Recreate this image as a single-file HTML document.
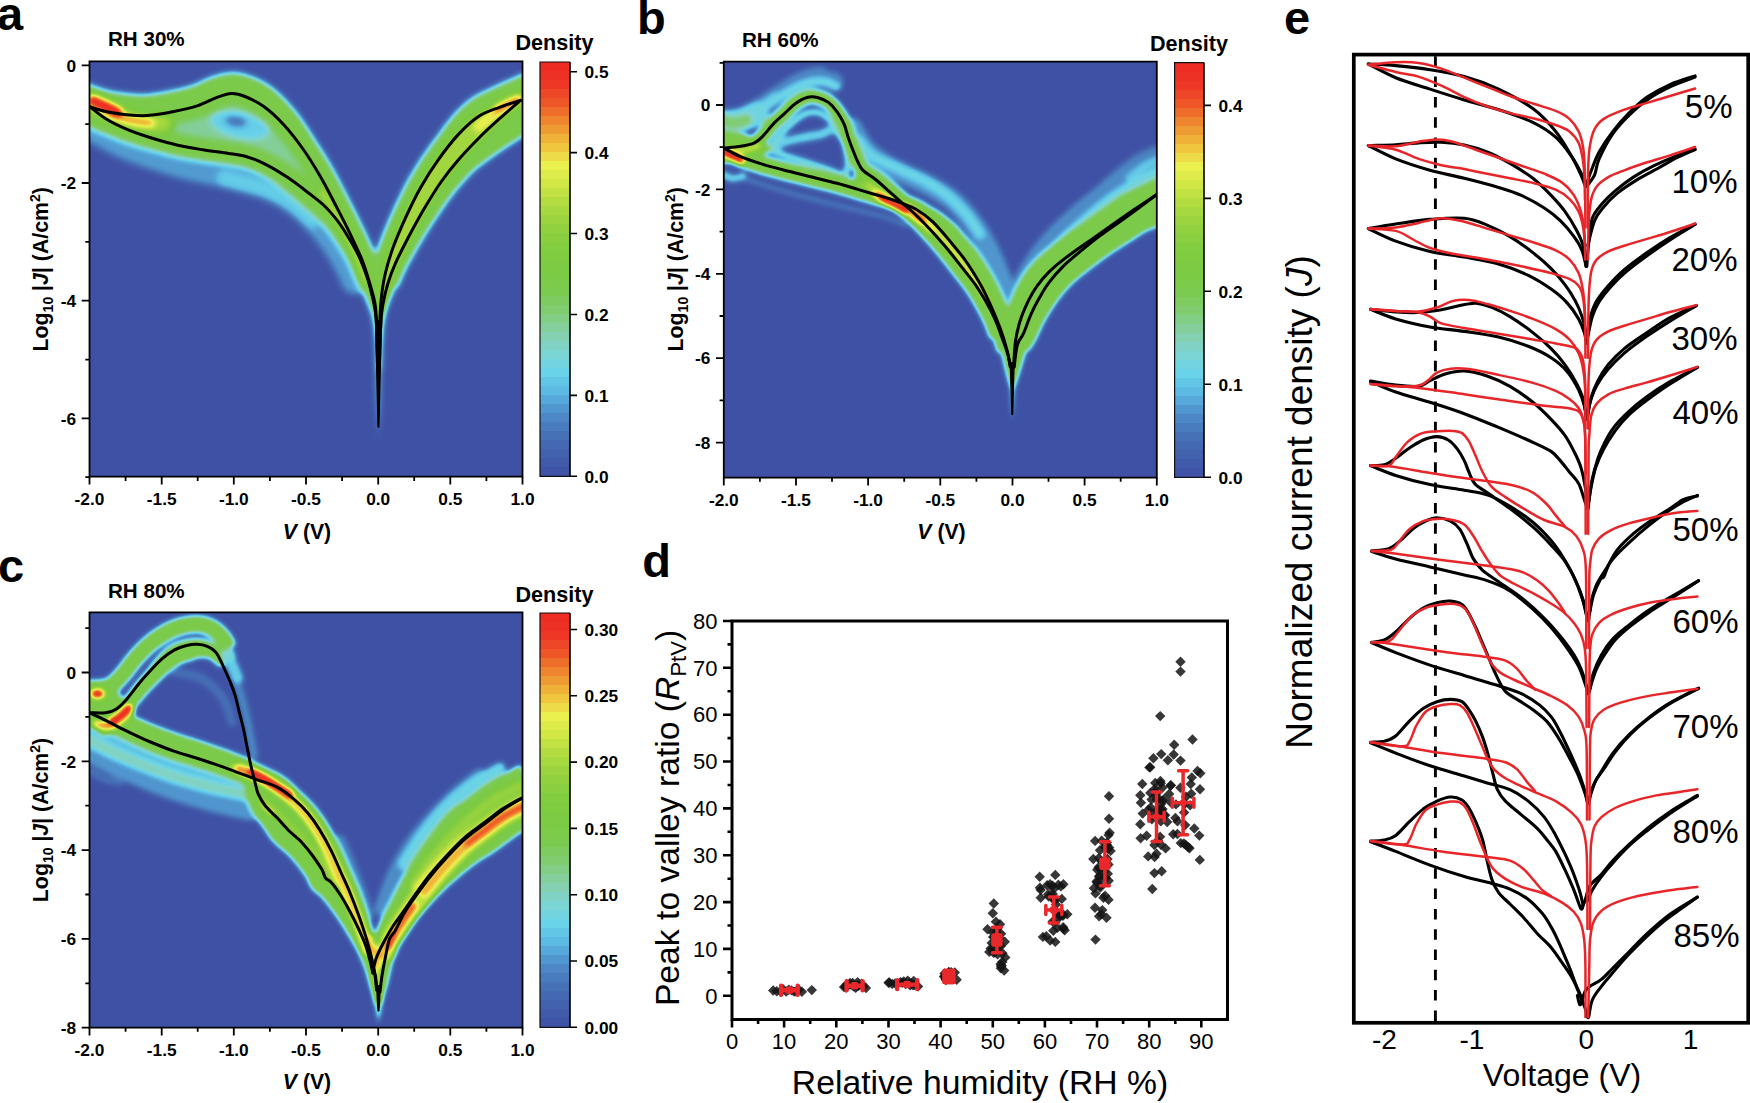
<!DOCTYPE html>
<html><head><meta charset="utf-8"><title>Figure</title>
<style>html,body{margin:0;padding:0;background:#fff}svg{display:block}text{font-family:'Liberation Sans', sans-serif;fill:#000}</style>
</head><body>
<svg width="1750" height="1103" viewBox="0 0 1750 1103">
<rect width="1750" height="1103" fill="#fff"/>
<text x="-3" y="30" font-size="47" font-weight="bold">a</text><text x="637" y="33.7" font-size="47" font-weight="bold">b</text><text x="-2" y="581.7" font-size="47" font-weight="bold">c</text><text x="642.3" y="577" font-size="47" font-weight="bold">d</text><text x="1284" y="33.5" font-size="47" font-weight="bold">e</text>
<!-- panel_a -->
<defs><clipPath id="clipa"><rect x="89.5" y="61.3" width="433" height="415.4"/></clipPath><filter id="cma" filterUnits="userSpaceOnUse" x="0" y="0" width="1750" height="1103" color-interpolation-filters="sRGB"><feGaussianBlur stdDeviation="3.0"/><feComponentTransfer><feFuncR type="table" tableValues="0.247 0.259 0.275 0.306 0.353 0.408 0.494 0.525 0.502 0.486 0.486 0.510 0.573 0.667 0.800 0.918 0.941 0.937 0.933 0.933 0.933"/><feFuncG type="table" tableValues="0.318 0.376 0.447 0.549 0.714 0.827 0.835 0.816 0.800 0.796 0.796 0.804 0.820 0.851 0.898 0.945 0.753 0.557 0.345 0.204 0.165"/><feFuncB type="table" tableValues="0.647 0.678 0.718 0.784 0.886 0.914 0.824 0.647 0.439 0.306 0.259 0.251 0.247 0.251 0.271 0.310 0.235 0.188 0.157 0.145 0.141"/><feFuncA type="linear" slope="0" intercept="1"/></feComponentTransfer></filter></defs>
<g clip-path="url(#clipa)"><g filter="url(#cma)">
<rect x="59.5" y="31.3" width="493" height="475.4" fill="#000"/>
<g fill="none" stroke="#fff" stroke-linecap="round" stroke-linejoin="round">
<path d="M89.5,126C95.8,129.3 112.4,139.8 127,146C141.6,152.2 160.2,158.2 177,163C193.8,167.8 212.5,171 228,175C243.5,179 258,182 270,187C282,192 290.8,197.8 300,205C309.2,212.2 317.8,221.5 325,230C332.2,238.5 338,247.7 343,256C348,264.3 353,276 355,280" stroke-width="30" stroke="rgb(43,43,43)" style="mix-blend-mode:lighten"/>
<path d="M225,178C231.2,179.7 251.2,184.2 262,188C272.8,191.8 281.7,195.7 290,201C298.3,206.3 308.3,216.8 312,220" stroke-width="16" stroke="rgb(61,61,61)" style="mix-blend-mode:lighten"/>
<path d="M89.5,136C92.9,137.7 101.6,142.7 110,146C118.4,149.3 135,154.3 140,156" stroke-width="10" stroke="rgb(26,26,26)" style="mix-blend-mode:lighten"/>
<path d="M89.5,106.6C90.9,107.1 95.2,108.7 98,109.5C100.8,110.3 101.8,110.8 106.6,111.7C111.4,112.6 120.3,114.1 127,114.7C133.7,115.3 139.4,116 147,115.5C154.6,115 164.1,113.4 172.6,111.7C181.1,110 190.7,107.9 198,105.6C205.3,103.2 210.9,99.6 216.5,97.6C222.1,95.6 226.8,93.8 231.5,93.6C236.2,93.4 239.6,94.3 245,96.5C250.4,98.7 257.3,101.8 263.8,106.5C270.3,111.2 277.5,117.9 284,125C290.5,132.1 297.1,140.7 303,149C308.9,157.3 314.2,166 319.5,175C324.8,184 329.5,193.3 334.5,203C339.5,212.7 345.1,223.3 349.7,232.9C354.3,242.5 358.8,251.5 362.4,260.8C366,270.1 369.2,281.3 371.3,288.7C373.4,296.1 374.3,298.9 375.2,305C376.1,311.1 376.2,314.3 376.6,325C377,335.7 377.4,361.7 377.6,369L377.8,369L376.8,330L375.4,312L372.9,299L367.5,278.6L358.6,255.7L347.2,235.4L337,220.2L324,205.5L306.6,191.5L287.8,177.6L267.5,165.3L248.2,157.2L228.4,153.4L203,149.8L177.7,145.2L152.3,138.3L127,129.4L106.6,119.3L89.5,106.6Z" fill="rgb(92,92,92)" stroke="none" style="mix-blend-mode:lighten"/>
<path d="M83,82.2L84.1,82.6L85.5,83.1L87.2,83.6L89.1,84.3L91.1,84.9L93,85.6L94.8,86.2L96.3,86.7L97.7,87.2L98.9,87.6L100,88L101,88.4L101.8,88.7L102.6,88.9L103.3,89.2L104.3,89.5L105.2,89.7L106,90L106.7,90.2L107.1,90.3L107.5,90.5L108.1,90.6L109,90.8L110.4,91L112.2,91.4L114.3,91.7L116.7,92.1L119.2,92.5L121.8,92.9L124.3,93.3L126.8,93.6L129.2,93.8L131.5,94L133.7,94.2L135.8,94.4L137.8,94.6L139.7,94.6L141.6,94.7L143.5,94.6L145.6,94.5L148,94.4L150.6,94.1L153.3,93.7L156.3,93.3L159.3,92.8L162.4,92.2L165.5,91.7L168.6,91.1L171.7,90.5L174.8,89.8L177.9,89.2L180.9,88.5L183.9,87.8L186.7,87L189.2,86.3L191.4,85.7L193.3,85L195.1,84.3L196.9,83.4L199,82.5L201.2,81.4L203.7,80.2L206.3,79.1L208.9,78L211.4,77.1L213.7,76.3L216,75.5L218.5,74.7L221.2,74L224.1,73.4L227.3,72.9L230.4,72.6L233.6,72.6L236.7,72.8L239.7,73.1L242.6,73.7L245.3,74.4L247.9,75.2L250.4,76.1L252.8,77L255.3,78L257.9,79.1L260.7,80.4L263.6,81.9L266.5,83.7L269.6,85.7L272.6,87.9L275.5,90.3L278.4,92.8L281.2,95.4L284,98.1L286.7,101L289.3,103.9L291.9,106.9L294.5,109.9L297,113.1L299.5,116.3L301.9,119.6L304.3,123L306.6,126.4L308.9,129.9L311.1,133.4L313.2,136.8L315.3,140.3L317.5,143.7L319.8,147L322,150.4L324.1,153.8L326.2,157.2L328.3,160.6L330.3,164.1L332.3,167.6L334.3,171.1L336.3,174.7L338.2,178.3L340.1,181.9L341.9,185.5L343.8,189.1L345.6,192.6L347.5,196.3L349.3,199.9L351.3,203.7L353.2,207.5L355.2,211.4L357.1,215.2L359,219.1L360.8,222.9L362.6,226.6L364.4,230.2L366.1,233.8L367.7,237.4L369.4,241L371,244.6L372.6,248.2L374.2,252L375.7,255.7L377.1,259.7L378.5,263.9L379.9,268.2L381.1,272.4L382.2,276.2L383.2,279.7L384.1,282.5L384.7,284.7L360.8,291.9L360.1,289.7L359.2,286.8L358.2,283.5L357.1,279.7L355.9,275.8L354.6,271.9L353.3,268.2L352.1,264.7L350.8,261.5L349.4,258.3L347.9,255L346.4,251.6L344.8,248.3L343.1,244.8L341.4,241.3L339.7,237.8L337.9,234.2L336.1,230.5L334.2,226.8L332.3,223L330.3,219.3L328.4,215.5L326.5,211.8L324.5,208.2L322.7,204.6L320.8,201L319,197.5L317.1,194L315.3,190.6L313.5,187.3L311.6,183.9L309.7,180.7L307.8,177.4L305.8,174.2L303.9,171L301.9,167.8L299.9,164.7L297.9,161.6L295.8,158.6L293.7,155.6L291.5,152.6L289.3,149.5L287,146.5L284.8,143.6L282.5,140.7L280.2,137.9L277.9,135.3L275.6,132.7L273.2,130.3L270.9,127.9L268.5,125.6L266.1,123.3L263.8,121.2L261.4,119.3L259.2,117.4L257,115.8L255,114.4L252.9,113.1L250.8,111.9L248.7,110.8L246.6,109.8L244.6,108.9L242.6,108L240.7,107.3L239.1,106.6L237.6,106.1L236.5,105.7L235.5,105.5L234.6,105.3L233.8,105.2L233,105.2L232.1,105.2L231.1,105.3L230,105.4L228.9,105.7L227.5,106.1L226,106.6L224.3,107.2L222.5,107.8L220.7,108.5L218.9,109.2L217.1,110L215.1,110.9L212.9,112L210.4,113.2L207.7,114.4L204.8,115.6L201.7,116.7L198.5,117.7L195.2,118.6L191.8,119.5L188.4,120.3L185,121.1L181.6,121.9L178.2,122.6L174.8,123.2L171.5,123.9L168.1,124.5L164.7,125.1L161.3,125.7L157.8,126.2L154.4,126.7L151,127L147.8,127.3L144.6,127.5L141.6,127.5L138.8,127.5L136.1,127.4L133.4,127.2L130.9,127L128.4,126.7L125.8,126.5L123,126.2L120.1,125.9L117.2,125.5L114.3,125.1L111.5,124.6L108.9,124.2L106.5,123.8L104.4,123.4L102.6,123.1L101.1,122.8L99.7,122.4L98.4,122.1L97.3,121.8L96.4,121.5L95.4,121.2L94.4,120.9L93.3,120.6L92.2,120.2L91.1,119.8L90.1,119.5L89.1,119.1L88,118.7L86.9,118.3L85.6,117.9L84.1,117.4L82.3,116.8L80.4,116.2L78.5,115.5L76.6,114.9L74.9,114.3L73.4,113.8L72.4,113.4Z" fill="rgb(120,120,120)" stroke="none" style="mix-blend-mode:lighten"/>
<path d="M84.8,89.4L85.6,90L86.7,90.8L88,91.7L89.4,92.8L90.9,94L92.6,95.2L94.3,96.5L96.2,97.8L98.1,99.3L100.1,100.9L102.1,102.5L104.2,104.1L106.3,105.7L108.3,107.2L110.4,108.6L112.4,110L114.5,111.2L116.6,112.4L118.9,113.6L121.1,114.7L123.5,115.9L126,117L128.5,118.1L131.2,119.2L134,120.3L136.9,121.5L139.9,122.6L143,123.7L146.1,124.7L149.3,125.8L152.4,126.8L155.6,127.8L158.7,128.7L161.7,129.7L164.8,130.6L167.9,131.4L171,132.2L174,133L177.1,133.8L180.1,134.5L183.1,135.1L186.2,135.7L189.2,136.3L192.3,136.9L195.4,137.4L198.5,137.9L201.6,138.4L204.7,138.9L207.8,139.4L211,139.9L214.3,140.3L217.5,140.7L220.8,141.2L224,141.6L227.1,142.1L230.1,142.5L232.8,143L235.5,143.4L238,143.8L240.6,144.2L243.2,144.7L245.9,145.2L248.6,145.9L251.4,146.7L254.1,147.5L256.8,148.5L259.5,149.5L262.1,150.6L264.7,151.7L267.3,152.9L269.9,154.2L272.6,155.5L275.3,157L278,158.5L280.7,160.1L283.4,161.7L286.1,163.4L288.8,165.1L291.4,166.8L294,168.5L296.5,170.2L299,172L301.5,173.8L304,175.6L306.4,177.4L308.7,179.2L311,181L313.3,182.8L315.6,184.5L317.8,186.2L320.2,188L322.5,189.8L324.8,191.7L327.1,193.5L329.4,195.5L331.5,197.5L333.6,199.5L335.6,201.5L337.5,203.5L339.2,205.5L340.9,207.5L342.6,209.5L344.2,211.5L345.7,213.5L347.2,215.5L348.7,217.4L350,219.4L351.4,221.4L352.7,223.3L353.9,225.4L355.2,227.5L356.6,229.7L358,232L359.5,234.4L361,237L362.5,239.6L364.1,242.4L365.6,245.2L367.1,248.1L368.6,251.1L370,254.2L371.4,257.6L372.8,261.1L374.1,264.6L375.2,267.8L376.3,270.6L377.2,273L377.8,274.8L357.2,282.4L356.4,280.6L355.5,278.3L354.4,275.5L353.1,272.4L351.8,269.3L350.5,266.1L349.1,263.2L347.9,260.7L346.6,258.3L345.3,255.9L343.8,253.5L342.4,251.1L340.9,248.8L339.4,246.4L337.9,244.2L336.4,242L335.1,239.9L333.8,238L332.6,236.3L331.4,234.6L330.3,233L329.1,231.5L327.9,229.9L326.5,228.3L325.1,226.6L323.7,224.9L322.2,223.3L320.8,221.7L319.3,220.1L317.7,218.6L316.1,217.1L314.5,215.6L312.8,214.1L311,212.6L309.2,210.9L307.2,209.1L305.2,207.4L303.1,205.5L300.9,203.7L298.7,201.8L296.5,199.9L294.3,198L292.2,196.2L290,194.3L287.8,192.5L285.7,190.7L283.5,189L281.3,187.3L279,185.6L276.7,183.8L274.3,182.1L271.9,180.5L269.5,179L267.1,177.6L264.7,176.3L262.4,175.1L260.2,173.9L257.9,172.8L255.7,171.8L253.5,170.8L251.4,170L249.3,169.2L247.1,168.4L245,167.7L243,167.2L241,166.7L238.9,166.2L236.8,165.9L234.5,165.5L232,165.1L229.5,164.7L226.7,164.3L223.9,163.8L220.9,163.4L217.8,163L214.6,162.6L211.3,162.1L207.9,161.7L204.6,161.2L201.3,160.7L198.1,160.1L194.9,159.6L191.7,159.1L188.4,158.5L185.2,158L181.9,157.3L178.6,156.7L175.3,155.9L172,155.2L168.7,154.4L165.4,153.5L162.1,152.6L158.8,151.7L155.6,150.8L152.3,149.9L149,149L145.6,148.1L142.3,147.2L138.9,146.2L135.5,145.2L132.1,144.1L128.7,143.1L125.4,142L122.3,140.8L119.3,139.7L116.3,138.5L113.4,137.3L110.6,136.1L107.8,134.9L104.9,133.8L102,132.8L99,131.6L96,130.3L93,128.8L90.1,127.4L87.4,125.9L84.8,124.6L82.5,123.3L80.4,122.2L78.4,121.3L76.5,120.4L74.6,119.4L72.7,118.5L70.9,117.6L69.3,116.9L67.9,116.2L66.7,115.6L65.7,115.1Z" fill="rgb(120,120,120)" stroke="none" style="mix-blend-mode:lighten"/>
<path d="M536.9,105.5L535.9,105.9L534.7,106.3L533.2,106.7L531.6,107.3L529.8,107.9L527.8,108.5L525.7,109.2L523.6,109.9L521.3,110.7L518.8,111.4L516.2,112.3L513.5,113.1L510.8,114L508.1,114.8L505.5,115.8L502.9,116.7L500.3,117.6L497.8,118.5L495.4,119.4L493,120.3L490.8,121.2L488.8,122.2L486.7,123.2L484.6,124.5L482.5,126L480.2,127.6L478,129.5L475.7,131.5L473.3,133.6L471,135.9L468.6,138.2L466.2,140.7L463.8,143.3L461.4,146.2L458.9,149.1L456.4,152.2L454,155.4L451.5,158.6L449.1,161.9L446.7,165.1L444.4,168.4L442.2,171.6L440,175L437.8,178.3L435.7,181.7L433.6,185.1L431.5,188.6L429.5,192.1L427.5,195.7L425.6,199.3L423.7,203L421.8,206.7L420,210.5L418.2,214.3L416.4,218.1L414.7,221.9L413,225.6L411.3,229.4L409.6,233.3L408,237.1L406.4,240.8L405,244.5L403.6,248.1L402.3,251.5L401.1,254.9L400,258.4L398.9,262L397.9,265.5L397,268.8L396.2,271.7L395.5,274.3L394.9,276.2L371.8,269.7L372.3,267.8L373,265.3L373.8,262.3L374.8,258.8L375.8,255.1L377,251.2L378.2,247.2L379.5,243.3L380.9,239.5L382.4,235.6L384,231.7L385.6,227.7L387.3,223.7L389,219.6L390.7,215.7L392.5,211.7L394.3,207.8L396.1,203.8L397.9,199.9L399.9,195.9L401.8,191.9L403.8,187.9L405.9,183.9L408,180L410.2,176.2L412.4,172.4L414.7,168.7L416.9,165L419.3,161.3L421.6,157.7L424.1,154.2L426.5,150.7L429,147.2L431.6,143.6L434.2,140.1L436.9,136.7L439.5,133.2L442,129.6L444.5,126.1L447,122.8L449.6,119.7L452.1,116.6L454.7,113.6L457.4,110.8L460.1,108L462.9,105.3L465.9,102.7L469,100.2L472.2,97.9L475.5,95.8L478.8,94L481.8,92.5L484.7,91.1L487.3,89.9L489.8,88.7L492.4,87.5L495,86.2L497.9,84.9L500.8,83.6L503.6,82.3L506.4,81.1L508.9,80L511.2,79L513.3,78.1L515.3,77.2L517.2,76.3L519.1,75.4L520.9,74.6L522.5,73.9L523.9,73.2L525.1,72.7L526,72.3Z" fill="rgb(120,120,120)" stroke="none" style="mix-blend-mode:lighten"/>
<path d="M552.1,115.3L551.3,115.9L550.3,116.6L549.2,117.5L547.8,118.5L546.3,119.6L544.6,120.8L542.8,122.2L540.7,123.7L538.4,125.4L535.8,127.3L533,129.3L530.1,131.4L527.1,133.6L524.2,135.8L521.2,137.8L518.3,139.6L515.4,141.5L512.6,143.3L509.7,145.1L506.9,146.9L504.1,148.7L501.4,150.6L498.6,152.4L495.8,154.4L493,156.4L490.1,158.5L487.2,160.6L484.3,162.8L481.4,164.9L478.5,167.1L475.7,169.3L473.2,171.7L470.8,174.1L468.4,176.6L466.2,179L463.9,181.5L461.7,183.9L459.5,186.5L457.3,189.1L455.1,191.8L452.8,194.7L450.5,197.8L448.2,201L445.8,204.3L443.5,207.6L441.1,211L438.8,214.4L436.6,217.7L434.4,221L432.2,224.3L430,227.7L427.9,231L425.8,234.4L423.8,237.7L421.8,241L419.9,244.3L418,247.5L416.2,250.6L414.4,253.8L412.6,256.9L410.9,259.9L409.3,262.8L407.8,265.6L406.5,268.2L405.2,270.9L403.9,273.6L402.7,276.3L401.6,279L400.5,281.6L399.6,283.9L398.8,285.8L398.2,287.4L378.4,280.4L378.9,278.9L379.6,276.9L380.4,274.5L381.4,271.7L382.5,268.8L383.7,265.7L384.9,262.5L386.2,259.4L387.6,256.3L389.1,253.2L390.7,250L392.3,246.7L393.9,243.4L395.6,240.1L397.4,236.7L399.1,233.4L400.9,229.9L402.8,226.5L404.7,222.9L406.6,219.4L408.6,215.8L410.6,212.1L412.7,208.5L414.8,204.9L416.9,201.4L419.1,197.7L421.3,194L423.6,190.4L425.9,186.7L428.2,183.1L430.5,179.6L432.8,176.3L435.1,173L437.4,169.9L439.7,166.9L441.9,164L444.2,161.2L446.6,158.4L448.9,155.6L451.3,152.7L453.8,149.9L456.4,147L459,144.2L461.6,141.4L464.3,138.6L466.9,135.9L469.5,133.2L472.1,130.6L474.7,128L477.3,125.5L479.9,123.1L482.5,120.7L485.1,118.3L487.6,116L490.2,113.6L492.8,111.3L495.5,108.8L498.3,106.4L501.2,103.8L504.1,101.4L506.8,99L509.4,96.7L511.8,94.7L513.9,92.8L515.8,91.2L517.6,89.7L519.1,88.3L520.5,87.1L521.8,86L522.8,85.1L523.7,84.3L524.5,83.7Z" fill="rgb(120,120,120)" stroke="none" style="mix-blend-mode:lighten"/>
<path d="M360,284L397,284L390,300L385.5,312L382.5,325L380.6,345L379.6,400L378.4,440L377.2,400L376.2,345L374.3,325L371,312L366,300Z" fill="rgb(120,120,120)" stroke="none" style="mix-blend-mode:lighten"/>
<ellipse cx="240" cy="125" rx="30" ry="13" fill="#000" fill-opacity="0.32" stroke="none" transform="rotate(12 240 125)"/>
<ellipse cx="236" cy="121.5" rx="11" ry="4.5" fill="#000" fill-opacity="0.6" stroke="none" transform="rotate(8 236 121.5)"/>
<path d="M90,103C93.3,104.7 102.5,110 110,113C117.5,116 125.8,119 135,121C144.2,123 160,124.3 165,125" stroke-width="17" stroke-opacity="0.36"/>
<path d="M93,100.5C94.8,101.3 100,103.7 104,105.5C108,107.3 114.8,110.5 117,111.5" stroke-width="12" stroke-opacity="0.95"/>
<path d="M112,114C115,115 123.7,118.5 130,120C136.3,121.5 146.7,122.5 150,123" stroke-width="9" stroke-opacity="0.5"/>
<path d="M520.5,100.4C517,101.6 506.4,104.7 499.5,107.3C492.6,109.9 486,111.7 479.2,116.1C472.4,120.5 465.7,126.7 458.9,133.9C452.1,141.1 445,150.4 438.6,159.3C432.2,168.2 426.3,177.5 420.8,187.2C415.3,196.9 410.2,207.5 405.6,217.7C401,227.8 396.3,238.8 392.9,248.1C389.5,257.4 387.2,265.5 385.3,273.5C383.4,281.5 382.4,288.7 381.5,296.3C380.6,303.9 380.3,307.1 379.9,319.2C379.5,331.3 379.3,360.7 379.2,369L379.4,369L380.9,322L383,304L387.8,283.7L395.4,263.4L408,238L423.4,210L441,182L458.9,159.3L479.2,137.7L499.5,118.7L520.5,100.4Z" fill="#fff" fill-opacity="0.3" stroke="#fff" stroke-opacity="0.3" stroke-width="3"/>
<path d="M519,100C515.3,102 503.8,107.5 497,112C490.2,116.5 481.2,124.5 478,127" stroke-width="9" stroke-opacity="0.4"/>
<path d="M519,97.5C517,98.3 510.7,100.8 507,102.5C503.3,104.2 498.7,107.1 497,108" stroke-width="8" stroke-opacity="0.6"/>
<path d="M322,192C325,196.8 334.5,211.2 340,221C345.5,230.8 350.7,241.2 355,251C359.3,260.8 364.2,275.2 366,280" stroke-width="8" stroke-opacity="0.36"/>
</g></g>
<g fill="none" stroke="#000" stroke-width="3" stroke-linejoin="round" stroke-linecap="round">
<path d="M89.5,106.6C90.9,107.1 95.2,108.7 98,109.5C100.8,110.3 101.8,110.8 106.6,111.7C111.4,112.6 120.3,114.1 127,114.7C133.7,115.3 139.4,116 147,115.5C154.6,115 164.1,113.4 172.6,111.7C181.1,110 190.7,107.9 198,105.6C205.3,103.2 210.9,99.6 216.5,97.6C222.1,95.6 226.8,93.8 231.5,93.6C236.2,93.4 239.6,94.3 245,96.5C250.4,98.7 257.3,101.8 263.8,106.5C270.3,111.2 277.5,117.9 284,125C290.5,132.1 297.1,140.7 303,149C308.9,157.3 314.2,166 319.5,175C324.8,184 329.5,193.3 334.5,203C339.5,212.7 345.1,223.3 349.7,232.9C354.3,242.5 358.8,251.5 362.4,260.8C366,270.1 369.2,281.3 371.3,288.7C373.4,296.1 374.3,298.9 375.2,305C376.1,311.1 376.2,314.3 376.6,325C377,335.7 377.4,361.7 377.6,369"/>
<path d="M89.5,106.6C92.3,108.7 100.3,115.5 106.6,119.3C112.8,123.1 119.4,126.2 127,129.4C134.6,132.6 143.9,135.7 152.3,138.3C160.8,140.9 169.2,143.3 177.7,145.2C186.1,147.1 194.6,148.4 203,149.8C211.4,151.2 220.9,152.2 228.4,153.4C235.9,154.6 241.7,155.2 248.2,157.2C254.7,159.2 260.9,161.9 267.5,165.3C274.1,168.7 281.3,173.2 287.8,177.6C294.3,182 300.6,186.8 306.6,191.5C312.6,196.2 318.9,200.7 324,205.5C329.1,210.3 333.1,215.2 337,220.2C340.9,225.2 343.6,229.5 347.2,235.4C350.8,241.3 355.2,248.5 358.6,255.7C362,262.9 365.1,271.4 367.5,278.6C369.9,285.8 371.6,293.4 372.9,299C374.2,304.6 374.8,306.8 375.4,312C376,317.2 376.4,320.5 376.8,330C377.2,339.5 377.6,362.5 377.8,369"/>
<path d="M520.5,100.4C517,101.6 506.4,104.7 499.5,107.3C492.6,109.9 486,111.7 479.2,116.1C472.4,120.5 465.7,126.7 458.9,133.9C452.1,141.1 445,150.4 438.6,159.3C432.2,168.2 426.3,177.5 420.8,187.2C415.3,196.9 410.2,207.5 405.6,217.7C401,227.8 396.3,238.8 392.9,248.1C389.5,257.4 387.2,265.5 385.3,273.5C383.4,281.5 382.4,288.7 381.5,296.3C380.6,303.9 380.3,307.1 379.9,319.2C379.5,331.3 379.3,360.7 379.2,369"/>
<path d="M520.5,100.4C517,103.5 506.4,112.5 499.5,118.7C492.6,124.9 486,130.9 479.2,137.7C472.4,144.5 465.3,151.9 458.9,159.3C452.5,166.7 446.9,173.6 441,182C435.1,190.4 428.9,200.7 423.4,210C417.9,219.3 412.7,229.1 408,238C403.3,246.9 398.8,255.8 395.4,263.4C392,271 389.9,276.9 387.8,283.7C385.7,290.5 384.1,297.6 383,304C381.9,310.4 381.5,311.2 380.9,322C380.3,332.8 379.6,361.2 379.4,369"/>
<path d="M375.4,320 L376.1,345 L377.2,395 L378,427 L378.9,427 L379.7,395 L380.9,345 L381.8,320" fill="#000" stroke-width="1.2"/>
</g></g>
<g stroke="#000" stroke-width="1.8" fill="none">
<path d="M89.5,61.3V476.7H522.5V61.3Z"/>
<path d="M89.5,476.7v7.8M161.7,476.7v7.8M233.8,476.7v7.8M306,476.7v7.8M378.2,476.7v7.8M450.3,476.7v7.8M522.5,476.7v7.8M125.6,476.7v4.2M197.7,476.7v4.2M269.9,476.7v4.2M342.1,476.7v4.2M414.2,476.7v4.2M486.4,476.7v4.2M89.5,65.3h-7.8M89.5,183h-7.8M89.5,300.7h-7.8M89.5,418.4h-7.8M89.5,124.2h-4.2M89.5,241.9h-4.2M89.5,359.6h-4.2M89.5,477.2h-4.2"/>
</g>
<g font-weight="bold" font-size="17.3">
<text x="89.5" y="504.7" font-size="17.3" font-weight="bold" font-style="normal" text-anchor="middle" >-2.0</text>
<text x="161.7" y="504.7" font-size="17.3" font-weight="bold" font-style="normal" text-anchor="middle" >-1.5</text>
<text x="233.8" y="504.7" font-size="17.3" font-weight="bold" font-style="normal" text-anchor="middle" >-1.0</text>
<text x="306" y="504.7" font-size="17.3" font-weight="bold" font-style="normal" text-anchor="middle" >-0.5</text>
<text x="378.2" y="504.7" font-size="17.3" font-weight="bold" font-style="normal" text-anchor="middle" >0.0</text>
<text x="450.3" y="504.7" font-size="17.3" font-weight="bold" font-style="normal" text-anchor="middle" >0.5</text>
<text x="522.5" y="504.7" font-size="17.3" font-weight="bold" font-style="normal" text-anchor="middle" >1.0</text>
<text x="76" y="71.5" font-size="17.3" font-weight="bold" font-style="normal" text-anchor="end" >0</text>
<text x="76" y="189.2" font-size="17.3" font-weight="bold" font-style="normal" text-anchor="end" >-2</text>
<text x="76" y="306.9" font-size="17.3" font-weight="bold" font-style="normal" text-anchor="end" >-4</text>
<text x="76" y="424.6" font-size="17.3" font-weight="bold" font-style="normal" text-anchor="end" >-6</text>
</g>
<g shape-rendering="crispEdges"><rect x="540" y="62.00" width="30" height="9.61" fill="rgb(238,44,36)"/><rect x="540" y="71.01" width="30" height="9.61" fill="rgb(238,49,37)"/><rect x="540" y="80.01" width="30" height="9.61" fill="rgb(238,55,37)"/><rect x="540" y="89.02" width="30" height="9.61" fill="rgb(238,71,39)"/><rect x="540" y="98.03" width="30" height="9.61" fill="rgb(238,86,40)"/><rect x="540" y="107.03" width="30" height="9.61" fill="rgb(238,109,43)"/><rect x="540" y="116.04" width="30" height="9.61" fill="rgb(239,133,47)"/><rect x="540" y="125.05" width="30" height="9.61" fill="rgb(239,155,51)"/><rect x="540" y="134.05" width="30" height="9.61" fill="rgb(240,177,56)"/><rect x="540" y="143.06" width="30" height="9.61" fill="rgb(239,198,62)"/><rect x="540" y="152.07" width="30" height="9.61" fill="rgb(237,220,71)"/><rect x="540" y="161.07" width="30" height="9.61" fill="rgb(234,241,79)"/><rect x="540" y="170.08" width="30" height="9.61" fill="rgb(221,236,75)"/><rect x="540" y="179.08" width="30" height="9.61" fill="rgb(208,231,70)"/><rect x="540" y="188.09" width="30" height="9.61" fill="rgb(194,225,67)"/><rect x="540" y="197.10" width="30" height="9.61" fill="rgb(179,220,65)"/><rect x="540" y="206.10" width="30" height="9.61" fill="rgb(166,216,64)"/><rect x="540" y="215.11" width="30" height="9.61" fill="rgb(155,212,63)"/><rect x="540" y="224.12" width="30" height="9.61" fill="rgb(145,209,63)"/><rect x="540" y="233.12" width="30" height="9.61" fill="rgb(138,207,63)"/><rect x="540" y="242.13" width="30" height="9.61" fill="rgb(131,205,64)"/><rect x="540" y="251.14" width="30" height="9.61" fill="rgb(128,204,65)"/><rect x="540" y="260.14" width="30" height="9.61" fill="rgb(125,203,66)"/><rect x="540" y="269.15" width="30" height="9.61" fill="rgb(124,203,69)"/><rect x="540" y="278.16" width="30" height="9.61" fill="rgb(124,203,74)"/><rect x="540" y="287.16" width="30" height="9.61" fill="rgb(124,203,81)"/><rect x="540" y="296.17" width="30" height="9.61" fill="rgb(126,204,96)"/><rect x="540" y="305.18" width="30" height="9.61" fill="rgb(128,204,111)"/><rect x="540" y="314.18" width="30" height="9.61" fill="rgb(130,206,133)"/><rect x="540" y="323.19" width="30" height="9.61" fill="rgb(133,207,156)"/><rect x="540" y="332.20" width="30" height="9.61" fill="rgb(132,209,177)"/><rect x="540" y="341.20" width="30" height="9.61" fill="rgb(128,211,196)"/><rect x="540" y="350.21" width="30" height="9.61" fill="rgb(123,213,213)"/><rect x="540" y="359.22" width="30" height="9.61" fill="rgb(114,212,223)"/><rect x="540" y="368.22" width="30" height="9.61" fill="rgb(104,211,233)"/><rect x="540" y="377.23" width="30" height="9.61" fill="rgb(98,198,230)"/><rect x="540" y="386.23" width="30" height="9.61" fill="rgb(92,186,227)"/><rect x="540" y="395.24" width="30" height="9.61" fill="rgb(86,169,218)"/><rect x="540" y="404.25" width="30" height="9.61" fill="rgb(81,151,207)"/><rect x="540" y="413.25" width="30" height="9.61" fill="rgb(77,135,197)"/><rect x="540" y="422.26" width="30" height="9.61" fill="rgb(73,124,190)"/><rect x="540" y="431.27" width="30" height="9.61" fill="rgb(70,113,183)"/><rect x="540" y="440.27" width="30" height="9.61" fill="rgb(68,105,178)"/><rect x="540" y="449.28" width="30" height="9.61" fill="rgb(66,98,174)"/><rect x="540" y="458.29" width="30" height="9.61" fill="rgb(65,91,170)"/><rect x="540" y="467.29" width="30" height="9.61" fill="rgb(64,84,167)"/></g>
<path d="M570,62V476.3" stroke="#000" stroke-width="1.6"/>
<path d="M570,476.3H540V62H570" stroke="#111" stroke-width="1.2" fill="none"/>
<text x="584.5" y="482.5" font-size="17.3" font-weight="bold" font-style="normal" text-anchor="start" >0.0</text>
<text x="584.5" y="401.6" font-size="17.3" font-weight="bold" font-style="normal" text-anchor="start" >0.1</text>
<text x="584.5" y="320.7" font-size="17.3" font-weight="bold" font-style="normal" text-anchor="start" >0.2</text>
<text x="584.5" y="239.7" font-size="17.3" font-weight="bold" font-style="normal" text-anchor="start" >0.3</text>
<text x="584.5" y="158.8" font-size="17.3" font-weight="bold" font-style="normal" text-anchor="start" >0.4</text>
<text x="584.5" y="77.9" font-size="17.3" font-weight="bold" font-style="normal" text-anchor="start" >0.5</text>
<path d="M570,476.3h7M570,395.4h7M570,314.5h7M570,233.5h7M570,152.6h7M570,71.7h7" stroke="#000" stroke-width="1.6"/>
<text x="108" y="45.7" font-size="20.6" font-weight="bold" font-style="normal" text-anchor="start" >RH 30%</text>
<text x="515.5" y="50.4" font-size="21.6" font-weight="bold" font-style="normal" text-anchor="start" >Density</text>
<text x="307" y="538.6" font-size="21.2" font-weight="bold" text-anchor="middle"><tspan font-style="italic">V</tspan> (V)</text>
<text transform="translate(48,269.3) rotate(-90)" font-size="21.3" font-weight="bold" text-anchor="middle">Log<tspan font-size="14" dy="4.5">10</tspan><tspan dy="-4.5"> |</tspan><tspan font-style="italic">J</tspan>| (A/cm<tspan font-size="14" dy="-8">2</tspan><tspan dy="8">)</tspan></text>
<!-- panel_b -->
<defs><clipPath id="clipb"><rect x="723.8" y="61.6" width="433" height="416"/></clipPath><filter id="cmb" filterUnits="userSpaceOnUse" x="0" y="0" width="1750" height="1103" color-interpolation-filters="sRGB"><feGaussianBlur stdDeviation="2.4"/><feComponentTransfer><feFuncR type="table" tableValues="0.247 0.259 0.275 0.306 0.353 0.408 0.494 0.525 0.502 0.486 0.486 0.510 0.573 0.667 0.800 0.918 0.941 0.937 0.933 0.933 0.933"/><feFuncG type="table" tableValues="0.318 0.376 0.447 0.549 0.714 0.827 0.835 0.816 0.800 0.796 0.796 0.804 0.820 0.851 0.898 0.945 0.753 0.557 0.345 0.204 0.165"/><feFuncB type="table" tableValues="0.647 0.678 0.718 0.784 0.886 0.914 0.824 0.647 0.439 0.306 0.259 0.251 0.247 0.251 0.271 0.310 0.235 0.188 0.157 0.145 0.141"/><feFuncA type="linear" slope="0" intercept="1"/></feComponentTransfer></filter></defs>
<g clip-path="url(#clipb)"><g filter="url(#cmb)">
<rect x="693.8" y="31.6" width="493" height="476" fill="#000"/>
<g fill="none" stroke="#fff" stroke-linecap="round" stroke-linejoin="round">
<path d="M715,120C719.2,119.5 732.5,119.2 740,117C747.5,114.8 753.3,110.8 760,107C766.7,103.2 773.3,98 780,94C786.7,90 793.7,85.7 800,83C806.3,80.3 812.3,78.2 818,78C823.7,77.8 831.3,81.3 834,82" stroke-width="20" stroke="rgb(36,36,36)" style="mix-blend-mode:lighten"/>
<path d="M716,122C719.7,121.8 731.2,122.3 738,121C744.8,119.7 753.8,115.2 757,114" stroke-width="24" stroke="rgb(69,69,69)" style="mix-blend-mode:lighten"/>
<path d="M720,119C722.2,119.7 728.7,122.8 733,123C737.3,123.2 743.8,120.5 746,120" stroke-width="12" stroke="rgb(102,102,102)" style="mix-blend-mode:lighten"/>
<path d="M760,110C763,108 772.2,101.7 778,98C783.8,94.3 789.3,90.7 795,88C800.7,85.3 806.8,83 812,82C817.2,81 821.8,81.2 826,82C830.2,82.8 835.2,86.2 837,87" stroke-width="8" stroke="rgb(69,69,69)" style="mix-blend-mode:lighten"/>
<path d="M772,92C775,89.8 784,82.5 790,79C796,75.5 802.7,72.7 808,71C813.3,69.3 819.7,69.3 822,69" stroke-width="6" stroke="rgb(36,36,36)" style="mix-blend-mode:lighten"/>
<path d="M742,113C745,111.7 754.5,108 760,105C765.5,102 772.5,96.7 775,95" stroke-width="7" stroke="rgb(56,56,56)" style="mix-blend-mode:lighten"/>
<path d="M852,128C854.3,131.7 860.5,144 866,150C871.5,156 878.5,160 885,164C891.5,168 897.5,170.3 905,174C912.5,177.7 922.2,181.7 930,186C937.8,190.3 945,194 952,200C959,206 966,214 972,222C978,230 983.3,239 988,248C992.7,257 996.7,267.3 1000,276C1003.3,284.7 1006.7,296 1008,300" stroke-width="22" stroke="rgb(41,41,41)" style="mix-blend-mode:lighten"/>
<path d="M858,140C860.3,142.7 865.8,151.5 872,156C878.2,160.5 886.2,162.8 895,167C903.8,171.2 916.2,176.2 925,181C933.8,185.8 941.2,190.5 948,196C954.8,201.5 960.7,207.7 966,214C971.3,220.3 977.7,230.7 980,234" stroke-width="10" stroke="rgb(66,66,66)" style="mix-blend-mode:lighten"/>
<path d="M1160,166C1155.8,168 1143.3,173.3 1135,178C1126.7,182.7 1118.3,188.2 1110,194C1101.7,199.8 1093.3,206 1085,213C1076.7,220 1067.5,228.2 1060,236C1052.5,243.8 1045.8,251.7 1040,260C1034.2,268.3 1029,277.7 1025,286C1021,294.3 1017.5,306 1016,310" stroke-width="28" stroke="rgb(38,38,38)" style="mix-blend-mode:lighten"/>
<path d="M1160,154C1156.7,155.5 1146.7,159 1140,163C1133.3,167 1126.7,172.5 1120,178C1113.3,183.5 1103.3,193 1100,196" stroke-width="20" stroke="rgb(33,33,33)" style="mix-blend-mode:lighten"/>
<path d="M1160,172C1155.8,174.2 1143.3,180.2 1135,185C1126.7,189.8 1117.8,195.3 1110,201C1102.2,206.7 1095.3,212.7 1088,219C1080.7,225.3 1072.7,232.3 1066,239C1059.3,245.7 1053.3,252.3 1048,259C1042.7,265.7 1038,272.5 1034,279C1030,285.5 1025.7,294.8 1024,298" stroke-width="12" stroke="rgb(69,69,69)" style="mix-blend-mode:lighten"/>
<path d="M1160,160C1157.7,161 1151,163 1146,166C1141,169 1132.7,176 1130,178" stroke-width="8" stroke="rgb(61,61,61)" style="mix-blend-mode:lighten"/>
<path d="M722,174C723.8,174.8 729.5,178.2 733,178.5C736.5,178.8 741.3,176.4 743,176" stroke-width="8" stroke="rgb(66,66,66)" style="mix-blend-mode:lighten"/>
<path d="M745,179C752.5,181.3 774.2,188.5 790,193C805.8,197.5 824.2,202 840,206C855.8,210 874.2,213.8 885,217C895.8,220.2 901.7,223.7 905,225" stroke-width="5" stroke="rgb(31,31,31)" style="mix-blend-mode:lighten"/>
<path d="M770,148C771.7,145.8 776.3,139.2 780,135C783.7,130.8 787.7,126.6 792,123C796.3,119.4 801.7,115.2 806,113.5C810.3,111.8 814,111.4 818,112.5C822,113.6 826.3,116.6 830,120C833.7,123.4 837.3,128.3 840,133C842.7,137.7 844.7,142.7 846,148C847.3,153.3 848.2,160.3 848,165C847.8,169.7 845.5,174.2 845,176" stroke-width="7" stroke="rgb(76,76,76)" style="mix-blend-mode:lighten"/>
<path d="M771,147C773.8,146 782.2,142.7 788,141C793.8,139.3 800.3,138.2 806,137C811.7,135.8 817.3,135.3 822,134C826.7,132.7 830.5,128.5 834,129C837.5,129.5 841.5,135.7 843,137" stroke-width="10" stroke="rgb(64,64,64)" style="mix-blend-mode:lighten"/>
<path d="M768,149C771.7,150.3 782.7,154.5 790,157C797.3,159.5 805,161.7 812,164C819,166.3 826.3,168.8 832,171C837.7,173.2 843.7,176 846,177" stroke-width="7" stroke="rgb(76,76,76)" style="mix-blend-mode:lighten"/>
<path d="M709.2,142.4L710.2,142.3L711.6,142.2L713.2,142L715.1,141.8L717,141.5L719.1,141.3L721.1,141.1L723.1,140.8L725.1,140.6L727.3,140.4L729.4,140.2L731.6,140L733.7,139.8L735.8,139.5L737.7,139.2L739.6,138.9L741.4,138.6L743.1,138.3L744.8,138L746.4,137.6L747.9,137.3L749.2,136.9L750.4,136.5L751.4,136.1L752.2,135.7L752.9,135.3L753.5,134.8L754.1,134.3L754.8,133.7L755.6,132.8L756.5,131.9L757.5,130.9L758.6,129.7L759.7,128.4L760.9,127L762.2,125.5L763.5,123.8L764.9,122.1L766.4,120.4L768,118.7L769.6,117.1L771.2,115.6L772.8,114.1L774.4,112.6L776,111.2L777.5,109.8L779,108.5L780.4,107.2L781.7,106L782.9,104.8L784.1,103.5L785.4,102.2L786.8,100.9L788.3,99.6L789.8,98.3L791.4,97.1L793.2,95.9L794.9,94.9L796.7,93.8L798.5,92.9L800.3,92L802.2,91.2L804.2,90.5L806.1,89.9L808.1,89.5L810,89.3L811.9,89.2L813.7,89.3L815.4,89.5L817,89.7L818.6,90.1L820.1,90.4L821.6,90.9L823.2,91.4L824.9,92L826.5,92.6L828.1,93.4L829.8,94.3L831.4,95.3L833,96.4L834.5,97.6L835.9,98.9L837.3,100.2L838.6,101.6L839.8,103.1L841,104.5L842.1,106L843.2,107.4L844.3,109L845.3,110.5L846.3,112.2L847.3,113.8L848.3,115.6L849.2,117.3L850.1,119.1L850.9,121L851.7,122.9L852.4,124.9L852.9,126.8L853.5,128.6L854,130.4L854.4,132.1L854.9,133.7L855.4,135.3L856,137L856.6,138.7L857.2,140.4L857.9,142.2L858.6,143.9L859.2,145.6L859.9,147.2L860.5,148.8L861.1,150.2L861.6,151.6L862.2,152.9L862.7,154.1L863.2,155.2L863.7,156.3L864.2,157.4L864.8,158.5L865.4,159.6L865.9,160.7L866.4,161.6L866.8,162.4L867.2,163.1L867.6,163.6L868,164.1L868.6,164.7L869.3,165.3L870.3,166L871.6,166.7L873,167.6L874.7,168.6L876.5,169.7L878.4,170.9L880.3,172.2L882.2,173.6L884.1,175.1L885.9,176.5L887.8,178.1L889.6,179.6L891.5,181.1L893.3,182.6L895.1,184L897,185.5L898.8,187.1L900.7,188.6L902.6,190.2L904.4,191.7L906.1,193.3L907.7,194.7L909.1,195.9L910.4,197L911.4,197.8L912.4,198.6L913.5,199.4L914.6,200.4L915.9,201.4L917.4,202.7L919,204.2L920.8,205.9L922.7,207.7L924.8,209.7L927,211.9L929.2,214.1L931.4,216.3L933.6,218.6L935.7,220.8L937.8,223L939.9,225.3L942,227.6L944.1,229.9L946.2,232.3L948.3,234.7L950.4,237.1L952.6,239.6L954.7,242.1L956.8,244.7L958.9,247.3L961,250L963.1,252.6L965.1,255.2L967.1,257.7L969,260.2L970.9,262.6L972.8,265L974.7,267.3L976.6,269.7L978.4,272L980.2,274.4L982,276.7L983.7,279L985.2,281.3L986.7,283.5L988.1,285.7L989.4,287.8L990.6,289.8L991.9,291.9L993.1,294L994.3,296.2L995.6,298.4L996.8,300.7L998.1,303L999.4,305.4L1000.6,307.8L1001.9,310.2L1003,312.6L1004.1,314.9L1005.2,317.3L1006.2,319.8L1007.1,322.3L1008,324.7L1008.8,326.9L1009.4,328.9L1010,330.5L1010.4,331.7L989.7,339L989.2,337.7L988.7,336.1L988.1,334.2L987.3,332.2L986.6,330L985.8,327.9L985,325.8L984.1,323.9L983.3,321.9L982.3,319.9L981.2,317.8L980.1,315.6L978.9,313.4L977.7,311.2L976.6,309L975.4,306.9L974.2,304.9L973.1,302.9L972,301L970.9,299.1L969.7,297.2L968.6,295.4L967.3,293.5L966,291.5L964.5,289.5L963,287.4L961.4,285.3L959.6,283L957.8,280.7L956,278.4L954.1,276L952.2,273.5L950.2,271L948.2,268.5L946.2,265.9L944.2,263.3L942.2,260.7L940.2,258.2L938.2,255.7L936.2,253.3L934.2,251L932.3,248.7L930.3,246.4L928.3,244.1L926.3,241.9L924.3,239.7L922.4,237.5L920.4,235.4L918.4,233.3L916.3,231.1L914.2,229L912.1,226.9L910,224.8L908.1,222.9L906.3,221.2L904.7,219.6L903.3,218.4L902.3,217.4L901.3,216.6L900.4,215.9L899.4,215.1L898.2,214.2L896.9,213.1L895.5,211.7L894,210.1L892.5,208.5L890.9,206.7L889.3,205L887.6,203.1L886,201.3L884.4,199.6L882.8,197.8L881.2,196.1L879.6,194.3L878,192.6L876.4,190.9L874.8,189.3L873.2,187.8L871.6,186.4L870.2,185.2L868.8,184L867.3,183L865.8,181.9L864.2,180.8L862.6,179.7L861,178.5L859.3,177.2L857.8,175.7L856.4,174.2L855.2,172.7L854.3,171.2L853.5,169.8L852.8,168.4L852.3,167.2L851.8,166.1L851.3,164.9L850.7,163.7L850.1,162.3L849.6,161L849.1,159.7L848.6,158.3L848.1,156.9L847.5,155.5L847,154.1L846.4,152.5L845.7,150.8L845,149.1L844.4,147.3L843.7,145.5L843,143.6L842.3,141.8L841.7,139.9L841.1,138L840.5,136.2L840,134.3L839.5,132.6L839.1,131L838.6,129.4L838.1,128L837.5,126.6L836.9,125.2L836.2,123.8L835.5,122.4L834.7,121.1L833.9,119.7L833.1,118.4L832.3,117.1L831.4,115.9L830.5,114.7L829.6,113.5L828.7,112.4L827.8,111.3L826.9,110.3L826,109.5L825.2,108.7L824.3,108L823.5,107.4L822.5,106.9L821.6,106.4L820.6,105.9L819.6,105.5L818.6,105.1L817.5,104.8L816.4,104.5L815.4,104.2L814.4,104L813.5,103.9L812.7,103.8L811.9,103.7L811.2,103.7L810.4,103.8L809.6,104L808.6,104.3L807.5,104.7L806.3,105.2L805,105.8L803.7,106.5L802.3,107.3L801.1,108.1L799.9,108.9L798.8,109.7L797.7,110.6L796.6,111.6L795.5,112.6L794.3,113.8L793.1,115.1L791.7,116.5L790.3,117.8L788.8,119.2L787.2,120.6L785.7,121.9L784.2,123.3L782.6,124.7L781.2,126.1L779.8,127.4L778.5,128.7L777.2,130.1L775.9,131.5L774.7,133.1L773.4,134.7L772.1,136.3L770.7,137.9L769.4,139.4L768.1,140.8L766.9,142L765.8,143.1L764.7,144.2L763.5,145.3L762.2,146.4L760.8,147.4L759.2,148.4L757.4,149.3L755.5,150L753.6,150.7L751.7,151.3L749.7,151.7L747.7,152.2L745.8,152.5L743.8,152.9L741.8,153.2L739.6,153.5L737.4,153.8L735.2,154L732.9,154.2L730.7,154.4L728.5,154.6L726.4,154.8L724.5,155L722.5,155.2L720.5,155.4L718.4,155.6L716.5,155.8L714.6,156L713,156.1L711.6,156.3L710.6,156.4Z" fill="rgb(120,120,120)" stroke="none" style="mix-blend-mode:lighten"/>
<path d="M715,134.5L715.9,135L717.1,135.6L718.6,136.2L720.2,137L722,137.9L723.8,138.7L725.7,139.7L727.7,140.6L729.6,141.5L731.6,142.5L733.6,143.6L735.7,144.6L737.7,145.6L739.8,146.6L741.9,147.6L744.2,148.5L746.5,149.3L749,150.2L751.6,151.2L754.2,152.2L757,153.1L759.8,154.1L762.7,155L765.5,155.9L768.5,156.8L771.6,157.7L774.8,158.6L778,159.5L781.3,160.4L784.6,161.3L787.9,162.1L791,163L794.1,163.8L797.1,164.6L800.1,165.3L803.1,166.1L806.1,166.9L809,167.6L812,168.4L815,169.1L818,169.9L821.1,170.7L824.2,171.5L827.2,172.2L830.3,173L833.3,173.8L836.3,174.6L839.2,175.4L842.1,176.2L844.8,177L847.6,177.8L850.2,178.7L852.8,179.5L855.3,180.2L857.7,181L860.1,181.7L862.4,182.4L864.7,183L867,183.6L869.2,184.2L871.3,184.7L873.4,185.3L875.4,185.8L877.4,186.3L879.2,186.8L881,187.3L882.8,187.7L884.5,188.1L886.2,188.5L887.9,189L889.7,189.5L891.5,190L893.4,190.6L895.2,191.1L897,191.7L898.8,192.3L900.6,192.9L902.4,193.5L904.2,194.2L906,194.8L907.7,195.4L909.3,196L911.1,196.5L912.9,197.2L914.9,198L917,198.9L919.2,199.9L921.4,201.1L923.6,202.3L925.8,203.7L928,205.1L930.4,206.5L933,207.9L935.6,209.4L938.2,211.1L940.8,212.8L943.5,214.8L946.1,216.8L948.7,218.9L951.2,221.1L953.8,223.2L956.2,225.4L958.3,227.8L960.4,230.2L962.4,232.7L964.5,235.2L966.7,237.7L968.9,240.4L971,243.1L973.2,245.8L975.4,248.7L977.5,251.6L979.5,254.5L981.6,257.5L983.5,260.5L985.5,263.5L987.3,266.5L989.1,269.5L990.9,272.4L992.5,275.3L994.1,278.1L995.6,280.8L997,283.5L998.3,286.1L999.6,288.7L1000.8,291.4L1002.1,294.1L1003.4,296.9L1004.7,299.9L1006.1,303L1007.5,306.2L1008.7,309.5L1009.9,312.8L1011.1,316.2L1012.2,319.5L1013.3,322.7L1014.3,326.1L1015.2,329.5L1016.2,333L1017,336.4L1017.8,339.5L1018.4,342.2L1019,344.5L1019.4,346.2L997.4,352.9L996.9,351.2L996.2,348.9L995.4,346.2L994.5,343.3L993.5,340.2L992.4,337L991.4,334L990.3,331.1L989.2,328.2L988.1,325.3L986.8,322.3L985.5,319.2L984.2,316.1L982.9,313.1L981.5,310.2L980.3,307.4L979,304.7L977.8,302.2L976.6,299.8L975.5,297.4L974.3,295.1L973.1,292.8L971.8,290.4L970.3,287.9L968.8,285.3L967.2,282.6L965.5,279.9L963.8,277.2L962,274.4L960.2,271.7L958.4,269.1L956.6,266.6L954.7,264.1L952.8,261.6L950.8,259.1L948.8,256.7L946.8,254.2L944.7,251.8L942.6,249.4L940.5,246.9L938.5,244.5L936.4,242.1L934.4,239.8L932.5,237.4L930.6,235.2L928.8,233.1L927,231.2L925.2,229.4L923.5,227.8L921.7,226.2L919.9,224.7L918.1,223.3L916.3,221.9L914.5,220.7L912.8,219.5L911.1,218.5L909.6,217.6L908.2,216.8L906.9,216.2L905.5,215.6L904,215L902.4,214.3L900.7,213.7L899,213L897.2,212.3L895.6,211.6L893.9,210.9L892.3,210.3L890.6,209.7L889,209.1L887.4,208.6L885.7,208L884.1,207.5L882.6,207L881,206.6L879.4,206.1L877.7,205.7L876,205.2L874.1,204.7L872.2,204.1L870.2,203.5L868.2,202.9L866.1,202.3L864,201.7L861.8,201L859.6,200.4L857.3,199.7L854.9,199L852.5,198.3L850.1,197.5L847.6,196.8L845,196L842.4,195.2L839.8,194.5L837.2,193.7L834.5,193L831.7,192.2L828.9,191.5L825.9,190.7L822.9,190L819.8,189.3L816.7,188.5L813.7,187.8L810.6,187L807.6,186.3L804.6,185.5L801.6,184.8L798.7,184.1L795.7,183.3L792.6,182.6L789.5,181.8L786.4,181L783.3,180.2L780,179.3L776.7,178.5L773.3,177.6L769.9,176.8L766.6,175.8L763.3,174.9L760.1,174L757,173L754,172L751,171.1L748,170.1L745.1,169L742.3,168L739.5,166.9L736.8,165.8L734.2,164.7L731.6,163.5L729.2,162.2L727,161L724.8,159.9L722.9,158.8L721,157.8L719.2,156.9L717.4,156L715.5,155L713.7,154.1L712,153.2L710.4,152.4L708.9,151.7L707.7,151L706.8,150.6Z" fill="rgb(120,120,120)" stroke="none" style="mix-blend-mode:lighten"/>
<path d="M1175.1,196.8L1174.3,197.3L1173.2,198L1172,198.8L1170.6,199.7L1169.1,200.7L1167.3,201.8L1165.4,203.1L1163.4,204.4L1161,205.9L1158.4,207.6L1155.6,209.4L1152.7,211.3L1149.7,213.3L1146.7,215.2L1143.8,217.1L1141.1,218.9L1138.4,220.7L1135.9,222.4L1133.3,224.2L1130.8,225.9L1128.3,227.7L1125.8,229.4L1123.2,231.2L1120.7,232.9L1118.1,234.7L1115.5,236.5L1113,238.2L1110.4,240L1107.8,241.8L1105.3,243.5L1102.7,245.3L1100.1,247.1L1097.5,248.9L1094.9,250.6L1092.3,252.4L1089.7,254.2L1087.1,255.9L1084.6,257.6L1082.2,259.3L1079.8,261.1L1077.4,262.8L1075,264.5L1072.6,266.3L1070.3,268L1068,269.7L1065.9,271.4L1063.9,273L1062,274.6L1060.3,276L1058.7,277.4L1057.3,278.8L1055.9,280.1L1054.6,281.4L1053.3,282.7L1052.1,284.1L1050.8,285.6L1049.5,287.1L1048.3,288.6L1047.1,290.1L1045.9,291.7L1044.7,293.3L1043.6,294.9L1042.5,296.6L1041.5,298.2L1040.5,300L1039.5,301.8L1038.5,303.7L1037.5,305.6L1036.5,307.6L1035.6,309.6L1034.7,311.5L1033.9,313.4L1033.1,315.1L1032.4,316.7L1031.8,318.3L1031.2,319.8L1030.7,321.2L1030.1,322.8L1029.6,324.4L1029.1,326.1L1028.6,328.1L1028,330.5L1027.5,333L1026.9,335.6L1026.4,338.1L1025.9,340.4L1025.5,342.4L1025.2,343.8L1001.7,339.2L1001.9,337.7L1002.1,335.8L1002.5,333.4L1002.8,330.7L1003.2,327.9L1003.7,325L1004.2,322.2L1004.7,319.6L1005.2,317.3L1005.8,315.1L1006.4,313L1007,311L1007.6,309L1008.3,307L1009,305L1009.7,303L1010.5,300.8L1011.4,298.6L1012.3,296.2L1013.3,293.9L1014.3,291.4L1015.4,289L1016.6,286.6L1017.8,284.2L1019.1,281.9L1020.4,279.6L1021.7,277.4L1023,275.3L1024.5,273.1L1025.9,271L1027.4,269L1029,267.1L1030.6,265.2L1032.2,263.3L1033.8,261.5L1035.5,259.8L1037.3,258L1039.2,256.2L1041.1,254.5L1043.2,252.6L1045.3,250.7L1047.7,248.8L1050.1,246.9L1052.5,244.9L1055,243L1057.5,241.1L1060,239.2L1062.5,237.4L1065,235.5L1067.6,233.6L1070.2,231.7L1072.8,229.9L1075.4,228L1078,226.2L1080.5,224.4L1083.1,222.6L1085.6,220.9L1088.1,219.1L1090.6,217.2L1093.2,215.4L1095.7,213.6L1098.2,211.8L1100.8,210L1103.3,208.2L1105.8,206.4L1108.3,204.6L1110.8,202.8L1113.3,201L1115.8,199.2L1118.4,197.3L1121.2,195.6L1124.1,194.1L1127.2,192.5L1130.5,190.9L1133.8,189.3L1137.1,187.7L1140.3,186.1L1143.3,184.7L1146.1,183.3L1148.6,182.1L1150.8,181L1152.9,180L1154.7,179.1L1156.4,178.3L1158,177.5L1159.3,176.9L1160.4,176.4L1161.3,175.9Z" fill="rgb(120,120,120)" stroke="none" style="mix-blend-mode:lighten"/>
<path d="M1189.4,215.1L1188.6,215.5L1187.6,215.8L1186.5,216.2L1185.1,216.8L1183.4,217.4L1181.3,218.1L1178.8,219.1L1175.8,220.2L1172,221.6L1167.5,223.2L1162.5,225.1L1157.1,227.1L1151.5,229.2L1146.1,231.2L1141.6,234.1L1137.5,236.8L1133.8,239.2L1130.3,241.5L1126.9,243.6L1123.8,245.6L1120.8,247.5L1117.9,249.3L1115.2,251L1112.5,252.8L1109.8,254.6L1107.2,256.5L1104.6,258.3L1102.1,260.2L1099.5,262.1L1097.1,264L1094.6,265.8L1092.2,267.6L1089.9,269.4L1087.7,271.1L1085.6,272.7L1083.6,274.2L1081.7,275.6L1080,277L1078.3,278.5L1076.6,279.9L1074.8,281.5L1073.1,283.2L1071.3,284.9L1069.6,286.6L1068,288.4L1066.4,290.1L1064.9,291.8L1063.5,293.5L1062.2,295.1L1060.9,296.7L1059.6,298.3L1058.3,300L1057.1,301.7L1055.9,303.6L1054.6,305.4L1053.4,307.3L1052.1,309.1L1051,310.9L1049.9,312.6L1048.8,314.4L1047.7,316.1L1046.7,317.9L1045.7,319.7L1044.7,321.5L1043.7,323.4L1042.6,325.5L1041.6,327.6L1040.6,330L1039.5,332.3L1038.4,334.7L1037.3,337.1L1036.2,339.4L1035,341.5L1033.8,343.5L1032.7,345.4L1031.6,347.1L1030.6,348.5L1029.8,349.7L1029.1,350.7L1028.6,351.5L1008.6,340L1009.1,339.2L1009.7,338.1L1010.4,336.9L1011.2,335.6L1012,334.2L1012.8,332.7L1013.5,331.2L1014.3,329.6L1015,327.9L1015.8,326L1016.6,323.8L1017.4,321.4L1018.4,318.9L1019.3,316.4L1020.3,313.9L1021.3,311.4L1022.4,309.1L1023.4,306.9L1024.4,304.8L1025.5,302.6L1026.6,300.5L1027.7,298.4L1028.8,296.3L1030,294.2L1031.2,292.1L1032.4,290L1033.6,287.9L1034.9,285.7L1036.3,283.5L1037.7,281.2L1039.2,279L1040.9,276.7L1042.6,274.5L1044.4,272.3L1046.2,270L1048.1,267.8L1050,265.7L1052,263.5L1054,261.4L1056.1,259.3L1058.1,257.3L1060.2,255.4L1062.3,253.5L1064.4,251.7L1066.5,249.9L1068.6,248.2L1070.8,246.4L1073,244.5L1075.3,242.6L1077.7,240.6L1080.2,238.5L1082.8,236.4L1085.4,234.3L1088.1,232.1L1090.9,230L1093.8,227.8L1096.7,225.6L1099.7,223.5L1102.6,221.5L1105.6,219.4L1108.6,217.3L1111.8,215.1L1115,212.8L1118.4,210.4L1122.2,207.6L1126.4,204.5L1130.9,201.3L1135.4,197.9L1139.9,194.6L1144,191.5L1147.7,188.8L1150.9,186.5L1153.4,184.6L1155.4,183.1L1157.1,181.8L1158.5,180.8L1159.7,180L1160.6,179.3L1161.4,178.7L1162.1,178.1Z" fill="rgb(120,120,120)" stroke="none" style="mix-blend-mode:lighten"/>
<path d="M992,333L1034,333L1026,352L1019,375L1014,390L1012.3,421L1010.6,390L1006.5,375L1001,352Z" fill="rgb(120,120,120)" stroke="none" style="mix-blend-mode:lighten"/>
<path d="M714,129L745,134L764,141L772,150L752,162L714,164Z" fill="rgb(120,120,120)" stroke="none" style="mix-blend-mode:lighten"/>
<path d="M724,152C725.5,152.8 730.2,155.2 733,156.5C735.8,157.8 739.7,159.4 741,160" stroke-width="9" stroke-opacity="0.95"/>
<path d="M730,150C732.5,150 740.3,150.7 745,150C749.7,149.3 755.8,146.7 758,146" stroke-width="8" stroke-opacity="0.4"/>
<path d="M858,178C860.3,179.7 867.3,184.7 872,188C876.7,191.3 883.7,196.3 886,198" stroke-width="10" stroke-opacity="0.35"/>
<path d="M876,194.5C878.7,195.8 886.7,199.8 892,202.5C897.3,205.2 903,208.1 908,211C913,213.9 919.7,218.5 922,220" stroke-width="9" stroke-opacity="0.6"/>
<path d="M882,198.5C883.8,199.4 889.2,202 893,204C896.8,206 903,209.4 905,210.5" stroke-width="8" stroke-opacity="0.9"/>
<path d="M905,205C906.6,205.9 910.2,207.2 914.5,210.5C918.8,213.8 925.1,219.2 930.5,224.6C935.9,230 941.6,236.6 947,243C952.4,249.4 957.9,256.2 963,263C968.1,269.8 973.5,277.7 977.5,284C981.5,290.3 985.4,298.2 987,301" stroke-width="7" stroke-opacity="0.5"/>
<path d="M916,217C918.3,219.3 927.7,228.7 930,231" stroke-width="8" stroke-opacity="0.4"/>
</g></g>
<g fill="none" stroke="#000" stroke-width="3" stroke-linejoin="round" stroke-linecap="round">
<path d="M723.8,148C726.6,147.7 735.6,147.2 740.7,146.3C745.8,145.5 750.8,144.6 754.5,142.9C758.2,141.2 759.9,139.2 763,136C766.1,132.8 769.6,127.8 773.4,123.9C777.1,120 781.8,116.2 785.5,112.7C789.2,109.2 792.1,105.8 795.8,103.2C799.5,100.6 804.2,98.1 807.9,97.2C811.6,96.3 814.8,96.8 818.2,97.7C821.6,98.6 825.4,100.1 828.5,102.4C831.6,104.8 834.5,108.2 837.1,111.8C839.7,115.4 842.1,119.6 844,123.9C845.9,128.2 846.7,133.1 848.3,137.7C849.9,142.3 851.9,147.5 853.5,151.5C855.1,155.5 856.2,158.7 857.8,161.8C859.4,165 860.1,167.5 863,170.4C865.9,173.3 870.7,175.6 875,179C879.3,182.4 884.2,187 888.8,191.1C893.4,195.2 898.7,200.1 902.6,203.5C906.5,206.9 907.9,207.5 912.2,211.5C916.5,215.5 923,221.9 928.5,227.7C934,233.4 939.4,239.6 944.9,246C950.4,252.4 956.1,259.9 961.2,266.4C966.3,272.9 971.4,279 975.5,284.8C979.6,290.6 982.4,295.4 985.6,301.1C988.9,306.8 992.4,313.4 995,319C997.6,324.6 998.9,329.3 1001,335C1003.1,340.7 1005.9,347.7 1007.5,353C1009.1,358.3 1010,364.7 1010.5,367"/>
<path d="M723.8,148C726.6,149.4 734.2,153.9 740.7,156.6C747.2,159.3 755,161.9 763,164.4C771,166.9 780.6,169.2 788.9,171.3C797.2,173.5 805,175.3 813,177.3C821,179.3 829.6,181.3 837.1,183.3C844.6,185.3 851.5,187.5 857.8,189.4C864.1,191.3 869.8,193 875,194.5C880.2,196 884.2,197 888.8,198.5C893.4,200 898,201.7 902.6,203.5C907.2,205.3 911.4,206.5 916.4,209.5C921.4,212.5 927.2,216.5 932.6,221.6C938,226.7 943.5,233.4 948.9,239.9C954.3,246.4 960.2,253.2 965.3,260.3C970.4,267.4 975.4,275.6 979.5,282.7C983.6,289.8 986.3,295.6 989.7,303.1C993.1,310.6 997,319.8 999.9,327.6C1002.8,335.4 1005.3,343.4 1007,350C1008.7,356.6 1009.8,364.2 1010.3,367"/>
<path d="M1156.8,194.5C1153.1,197 1141.6,204.5 1134.5,209.3C1127.4,214.2 1120.9,218.8 1114.1,223.6C1107.3,228.4 1100.5,233.1 1093.7,237.9C1086.9,242.7 1079.8,247.4 1073.3,252.2C1066.8,256.9 1060.1,262 1055,266.4C1049.9,270.8 1046.5,274.3 1042.7,278.7C1039,283.1 1035.5,287.8 1032.5,292.9C1029.5,298 1026.6,304.2 1024.4,309.3C1022.2,314.4 1020.8,318.1 1019.3,323.5C1017.8,328.9 1016.3,334.6 1015.4,341.9C1014.5,349.1 1013.9,362.8 1013.6,367"/>
<path d="M1156.8,194.5C1151.4,198.5 1133.8,211.6 1124.3,218.5C1114.8,225.4 1107.3,230.2 1099.8,235.8C1092.3,241.4 1085.5,247.1 1079.4,252.2C1073.3,257.3 1068.2,261.3 1063.1,266.4C1058,271.5 1053,277.2 1048.9,282.7C1044.8,288.1 1041.8,293.7 1038.7,299.1C1035.6,304.6 1033,309.6 1030.5,315.4C1028,321.2 1025.6,328.8 1023.4,333.7C1021.2,338.6 1018.8,339.4 1017.3,345C1015.8,350.6 1014.7,363.3 1014.2,367"/>
<path d="M1010.2,362 L1010.9,385 L1011.8,414.5 L1012.7,414.5 L1013.5,385 L1014.2,362" fill="#000" stroke-width="1.2"/>
</g></g>
<g stroke="#000" stroke-width="1.8" fill="none">
<path d="M723.8,61.6V477.6H1156.8V61.6Z"/>
<path d="M723.8,477.6v7.8M796,477.6v7.8M868.1,477.6v7.8M940.3,477.6v7.8M1012.5,477.6v7.8M1084.6,477.6v7.8M1156.8,477.6v7.8M759.9,477.6v4.2M832,477.6v4.2M904.2,477.6v4.2M976.4,477.6v4.2M1048.5,477.6v4.2M1120.7,477.6v4.2M723.8,105h-7.8M723.8,189.4h-7.8M723.8,273.8h-7.8M723.8,358.2h-7.8M723.8,442.6h-7.8M723.8,62.8h-4.2M723.8,147.2h-4.2M723.8,231.6h-4.2M723.8,316h-4.2M723.8,400.4h-4.2"/>
</g>
<g font-weight="bold" font-size="17.3">
<text x="723.8" y="505.6" font-size="17.3" font-weight="bold" font-style="normal" text-anchor="middle" >-2.0</text>
<text x="796" y="505.6" font-size="17.3" font-weight="bold" font-style="normal" text-anchor="middle" >-1.5</text>
<text x="868.1" y="505.6" font-size="17.3" font-weight="bold" font-style="normal" text-anchor="middle" >-1.0</text>
<text x="940.3" y="505.6" font-size="17.3" font-weight="bold" font-style="normal" text-anchor="middle" >-0.5</text>
<text x="1012.5" y="505.6" font-size="17.3" font-weight="bold" font-style="normal" text-anchor="middle" >0.0</text>
<text x="1084.6" y="505.6" font-size="17.3" font-weight="bold" font-style="normal" text-anchor="middle" >0.5</text>
<text x="1156.8" y="505.6" font-size="17.3" font-weight="bold" font-style="normal" text-anchor="middle" >1.0</text>
<text x="710.3" y="111.2" font-size="17.3" font-weight="bold" font-style="normal" text-anchor="end" >0</text>
<text x="710.3" y="195.6" font-size="17.3" font-weight="bold" font-style="normal" text-anchor="end" >-2</text>
<text x="710.3" y="280" font-size="17.3" font-weight="bold" font-style="normal" text-anchor="end" >-4</text>
<text x="710.3" y="364.4" font-size="17.3" font-weight="bold" font-style="normal" text-anchor="end" >-6</text>
<text x="710.3" y="448.8" font-size="17.3" font-weight="bold" font-style="normal" text-anchor="end" >-8</text>
</g>
<g shape-rendering="crispEdges"><rect x="1174.6" y="62.60" width="29.4" height="9.62" fill="rgb(238,44,36)"/><rect x="1174.6" y="71.62" width="29.4" height="9.62" fill="rgb(238,49,37)"/><rect x="1174.6" y="80.63" width="29.4" height="9.62" fill="rgb(238,55,37)"/><rect x="1174.6" y="89.65" width="29.4" height="9.62" fill="rgb(238,71,39)"/><rect x="1174.6" y="98.66" width="29.4" height="9.62" fill="rgb(238,86,40)"/><rect x="1174.6" y="107.68" width="29.4" height="9.62" fill="rgb(238,109,43)"/><rect x="1174.6" y="116.69" width="29.4" height="9.62" fill="rgb(239,133,47)"/><rect x="1174.6" y="125.71" width="29.4" height="9.62" fill="rgb(239,155,51)"/><rect x="1174.6" y="134.72" width="29.4" height="9.62" fill="rgb(240,177,56)"/><rect x="1174.6" y="143.74" width="29.4" height="9.62" fill="rgb(239,198,62)"/><rect x="1174.6" y="152.75" width="29.4" height="9.62" fill="rgb(237,220,71)"/><rect x="1174.6" y="161.77" width="29.4" height="9.62" fill="rgb(234,241,79)"/><rect x="1174.6" y="170.78" width="29.4" height="9.62" fill="rgb(221,236,75)"/><rect x="1174.6" y="179.80" width="29.4" height="9.62" fill="rgb(208,231,70)"/><rect x="1174.6" y="188.81" width="29.4" height="9.62" fill="rgb(194,225,67)"/><rect x="1174.6" y="197.83" width="29.4" height="9.62" fill="rgb(179,220,65)"/><rect x="1174.6" y="206.84" width="29.4" height="9.62" fill="rgb(166,216,64)"/><rect x="1174.6" y="215.86" width="29.4" height="9.62" fill="rgb(155,212,63)"/><rect x="1174.6" y="224.87" width="29.4" height="9.62" fill="rgb(145,209,63)"/><rect x="1174.6" y="233.89" width="29.4" height="9.62" fill="rgb(138,207,63)"/><rect x="1174.6" y="242.90" width="29.4" height="9.62" fill="rgb(131,205,64)"/><rect x="1174.6" y="251.92" width="29.4" height="9.62" fill="rgb(128,204,65)"/><rect x="1174.6" y="260.93" width="29.4" height="9.62" fill="rgb(125,203,66)"/><rect x="1174.6" y="269.95" width="29.4" height="9.62" fill="rgb(124,203,69)"/><rect x="1174.6" y="278.97" width="29.4" height="9.62" fill="rgb(124,203,74)"/><rect x="1174.6" y="287.98" width="29.4" height="9.62" fill="rgb(124,203,81)"/><rect x="1174.6" y="297.00" width="29.4" height="9.62" fill="rgb(126,204,96)"/><rect x="1174.6" y="306.01" width="29.4" height="9.62" fill="rgb(128,204,111)"/><rect x="1174.6" y="315.03" width="29.4" height="9.62" fill="rgb(130,206,133)"/><rect x="1174.6" y="324.04" width="29.4" height="9.62" fill="rgb(133,207,156)"/><rect x="1174.6" y="333.06" width="29.4" height="9.62" fill="rgb(132,209,177)"/><rect x="1174.6" y="342.07" width="29.4" height="9.62" fill="rgb(128,211,196)"/><rect x="1174.6" y="351.09" width="29.4" height="9.62" fill="rgb(123,213,213)"/><rect x="1174.6" y="360.10" width="29.4" height="9.62" fill="rgb(114,212,223)"/><rect x="1174.6" y="369.12" width="29.4" height="9.62" fill="rgb(104,211,233)"/><rect x="1174.6" y="378.13" width="29.4" height="9.62" fill="rgb(98,198,230)"/><rect x="1174.6" y="387.15" width="29.4" height="9.62" fill="rgb(92,186,227)"/><rect x="1174.6" y="396.16" width="29.4" height="9.62" fill="rgb(86,169,218)"/><rect x="1174.6" y="405.18" width="29.4" height="9.62" fill="rgb(81,151,207)"/><rect x="1174.6" y="414.19" width="29.4" height="9.62" fill="rgb(77,135,197)"/><rect x="1174.6" y="423.21" width="29.4" height="9.62" fill="rgb(73,124,190)"/><rect x="1174.6" y="432.22" width="29.4" height="9.62" fill="rgb(70,113,183)"/><rect x="1174.6" y="441.24" width="29.4" height="9.62" fill="rgb(68,105,178)"/><rect x="1174.6" y="450.25" width="29.4" height="9.62" fill="rgb(66,98,174)"/><rect x="1174.6" y="459.27" width="29.4" height="9.62" fill="rgb(65,91,170)"/><rect x="1174.6" y="468.28" width="29.4" height="9.62" fill="rgb(64,84,167)"/></g>
<path d="M1204,62.6V477.3" stroke="#000" stroke-width="1.6"/>
<path d="M1204,477.3H1174.6V62.6H1204" stroke="#111" stroke-width="1.2" fill="none"/>
<text x="1218.5" y="483.5" font-size="17.3" font-weight="bold" font-style="normal" text-anchor="start" >0.0</text>
<text x="1218.5" y="390.5" font-size="17.3" font-weight="bold" font-style="normal" text-anchor="start" >0.1</text>
<text x="1218.5" y="297.5" font-size="17.3" font-weight="bold" font-style="normal" text-anchor="start" >0.2</text>
<text x="1218.5" y="204.6" font-size="17.3" font-weight="bold" font-style="normal" text-anchor="start" >0.3</text>
<text x="1218.5" y="111.6" font-size="17.3" font-weight="bold" font-style="normal" text-anchor="start" >0.4</text>
<path d="M1204,477.3h7M1204,384.3h7M1204,291.3h7M1204,198.4h7M1204,105.4h7" stroke="#000" stroke-width="1.6"/>
<text x="742" y="46.9" font-size="20.6" font-weight="bold" font-style="normal" text-anchor="start" >RH 60%</text>
<text x="1150" y="51.3" font-size="21.6" font-weight="bold" font-style="normal" text-anchor="start" >Density</text>
<text x="941.5" y="538.6" font-size="21.2" font-weight="bold" text-anchor="middle"><tspan font-style="italic">V</tspan> (V)</text>
<text transform="translate(683,269.3) rotate(-90)" font-size="21.3" font-weight="bold" text-anchor="middle">Log<tspan font-size="14" dy="4.5">10</tspan><tspan dy="-4.5"> |</tspan><tspan font-style="italic">J</tspan>| (A/cm<tspan font-size="14" dy="-8">2</tspan><tspan dy="8">)</tspan></text>
<!-- panel_c -->
<defs><clipPath id="clipc"><rect x="89.5" y="612.3" width="433" height="415.3"/></clipPath><filter id="cmc" filterUnits="userSpaceOnUse" x="0" y="0" width="1750" height="1103" color-interpolation-filters="sRGB"><feGaussianBlur stdDeviation="2.6"/><feComponentTransfer><feFuncR type="table" tableValues="0.247 0.259 0.275 0.306 0.353 0.408 0.494 0.525 0.502 0.486 0.486 0.510 0.573 0.667 0.800 0.918 0.941 0.937 0.933 0.933 0.933"/><feFuncG type="table" tableValues="0.318 0.376 0.447 0.549 0.714 0.827 0.835 0.816 0.800 0.796 0.796 0.804 0.820 0.851 0.898 0.945 0.753 0.557 0.345 0.204 0.165"/><feFuncB type="table" tableValues="0.647 0.678 0.718 0.784 0.886 0.914 0.824 0.647 0.439 0.306 0.259 0.251 0.247 0.251 0.271 0.310 0.235 0.188 0.157 0.145 0.141"/><feFuncA type="linear" slope="0" intercept="1"/></feComponentTransfer></filter></defs>
<g clip-path="url(#clipc)"><g filter="url(#cmc)">
<rect x="59.5" y="582.3" width="493" height="475.3" fill="#000"/>
<g fill="none" stroke="#fff" stroke-linecap="round" stroke-linejoin="round">
<path d="M85,742C89.2,744.2 100.8,750.5 110,755C119.2,759.5 129.2,764.3 140,769C150.8,773.7 162.5,778.7 175,783C187.5,787.3 202.5,791.7 215,795C227.5,798.3 244.2,801.7 250,803" stroke-width="36" stroke="rgb(41,41,41)" style="mix-blend-mode:lighten"/>
<path d="M85,738C89.2,740.2 100.8,746.7 110,751C119.2,755.3 129.2,759.7 140,764C150.8,768.3 162.5,773 175,777C187.5,781 202.5,784.8 215,788C227.5,791.2 240,792.3 250,796C260,799.7 270.8,807.7 275,810" stroke-width="12" stroke="rgb(82,82,82)" style="mix-blend-mode:lighten"/>
<path d="M85,728C89.2,730.2 100.8,736.7 110,741C119.2,745.3 129.2,749.8 140,754C150.8,758.2 162.5,762 175,766C187.5,770 202.5,774.3 215,778C227.5,781.7 244.2,786.3 250,788" stroke-width="16" stroke="rgb(56,56,56)" style="mix-blend-mode:lighten"/>
<path d="M92,772C94.2,773.2 100.3,777.3 105,779C109.7,780.7 117.5,781.5 120,782" stroke-width="8" stroke="rgb(26,26,26)" style="mix-blend-mode:lighten"/>
<path d="M175,672C178.3,672.7 188.8,673.7 195,676C201.2,678.3 207,681.7 212,686C217,690.3 221.7,696 225,702C228.3,708 230.8,718.7 232,722" stroke-width="10" stroke="rgb(23,23,23)" style="mix-blend-mode:lighten"/>
<path d="M222,655C223.7,657.8 229,665.8 232,672C235,678.2 237.7,684.8 240,692C242.3,699.2 244.3,707.8 246,715C247.7,722.2 248.7,728.3 250,735C251.3,741.7 253.3,751.7 254,755" stroke-width="9" stroke="rgb(36,36,36)" style="mix-blend-mode:lighten"/>
<path d="M218,645C220,647.5 226.7,654.5 230,660C233.3,665.5 236.7,675 238,678" stroke-width="12" stroke="rgb(61,61,61)" style="mix-blend-mode:lighten"/>
<path d="M480,778C475.8,781.3 463.3,790.3 455,798C446.7,805.7 437.5,815.3 430,824C422.5,832.7 415.8,841 410,850C404.2,859 399.3,868.3 395,878C390.7,887.7 385.8,903 384,908" stroke-width="20" stroke="rgb(38,38,38)" style="mix-blend-mode:lighten"/>
<path d="M500,768C495,771 479.2,779.3 470,786C460.8,792.7 453,799.7 445,808C437,816.3 428.8,826.7 422,836C415.2,845.3 407,859.3 404,864" stroke-width="12" stroke="rgb(66,66,66)" style="mix-blend-mode:lighten"/>
<path d="M340,840C342,844.7 348.3,858.8 352,868C355.7,877.2 359.3,887.2 362,895C364.7,902.8 367,911.7 368,915" stroke-width="12" stroke="rgb(33,33,33)" style="mix-blend-mode:lighten"/>
<path d="M83.2,680L84.5,680L86.2,680L88.3,680L90.5,680L92.7,680L94.9,679.9L96.8,679.9L98.5,679.7L100,679.6L101.3,679.5L102.4,679.4L103.2,679.3L103.9,679.2L104.4,679.1L105.1,678.9L105.9,678.5L106.9,677.9L108.1,677.1L109.3,676.1L110.7,674.9L112.1,673.5L113.5,671.9L115,670.2L116.5,668.5L118,666.7L119.5,664.8L121.1,662.7L122.7,660.5L124.5,658.2L126.4,655.8L128.3,653.4L130.3,651.1L132.4,648.8L134.5,646.6L136.7,644.3L138.9,642.1L141.3,639.8L143.7,637.7L146.2,635.5L148.8,633.5L151.4,631.6L154.1,629.7L156.9,627.9L159.7,626.2L162.6,624.6L165.6,623L168.5,621.6L171.5,620.4L174.5,619.3L177.5,618.3L180.5,617.5L183.5,616.9L186.5,616.3L189.4,615.9L192.2,615.6L195,615.5L197.7,615.5L200.3,615.7L202.9,616L205.4,616.5L207.8,617.1L210.1,617.9L212.4,618.8L214.7,619.9L217,621.1L219.1,622.6L221.2,624.1L223.1,625.8L224.8,627.4L226.4,629.1L228,630.7L229.4,632.4L230.8,634.1L232,636L233.1,637.9L234,639.7L234.7,641.3L235.3,642.6L235.8,643.6L236.2,644.4L220.4,651.9L219.9,651L219.5,650L218.9,648.7L218.4,647.5L217.8,646.3L217.2,645.3L216.5,644.3L215.8,643.3L214.9,642.4L213.8,641.2L212.7,640L211.4,638.8L210.2,637.8L209,636.8L207.8,636L206.6,635.4L205.5,634.8L204.2,634.4L202.9,633.9L201.6,633.6L200.2,633.3L198.7,633.1L197.1,633L195.4,633L193.5,633.1L191.5,633.3L189.3,633.6L187,634L184.7,634.5L182.4,635.1L180.1,635.9L177.9,636.7L175.7,637.6L173.4,638.7L171,640L168.6,641.3L166.2,642.8L163.8,644.3L161.5,645.9L159.3,647.5L157.2,649.1L155.2,650.8L153.1,652.6L151.1,654.5L149.1,656.5L147.1,658.5L145.1,660.6L143.3,662.5L141.5,664.5L139.8,666.6L138.1,668.7L136.4,670.9L134.8,673.1L133,675.3L131.3,677.5L129.6,679.5L127.9,681.4L126.2,683.3L124.6,685L123,686.8L121.4,688.6L119.7,690.3L118,692L116.1,693.5L114.1,694.8L112.2,696L110.2,696.9L108.3,697.5L106.5,698.1L104.9,698.5L103.3,698.8L101.5,699.3L99.5,699.7L97.1,700.2L94.6,700.6L92.2,700.9L89.8,701.3L87.8,701.5L86.1,701.8L84.8,702Z" fill="rgb(120,120,120)" stroke="none" style="mix-blend-mode:lighten"/>
<path d="M226,645C226.8,646.8 230.2,654.2 231,656" stroke-width="10" stroke="rgb(76,76,76)" style="mix-blend-mode:lighten"/>
<path d="M75.5,704.7L76.6,704.8L78,704.9L79.6,705.1L81.5,705.2L83.5,705.4L85.5,705.6L87.6,705.8L89.6,706L91.6,706.2L93.7,706.4L95.8,706.7L97.9,706.9L100,707.2L101.9,707.3L103.6,707.5L105.1,707.5L106.5,707.4L107.7,707.3L108.7,707.2L109.7,707L110.6,706.8L111.6,706.5L112.6,706.1L113.7,705.6L114.9,705L116.1,704.3L117.3,703.4L118.5,702.5L119.8,701.5L121.2,700.3L122.6,699.1L124,697.7L125.4,696.1L126.8,694.3L128.3,692.4L129.8,690.4L131.4,688.3L133,686.3L134.5,684.2L136.1,682.3L137.6,680.5L139.2,678.7L140.7,676.9L142.2,675.1L143.7,673.4L145.3,671.8L146.8,670.1L148.2,668.4L149.6,666.6L150.9,664.8L152.2,663L153.6,661.3L155,659.6L156.4,657.9L157.8,656.2L159.2,654.7L160.7,653.1L162.2,651.7L163.7,650.3L165.2,648.9L166.7,647.6L168.4,646.5L170.1,645.5L171.8,644.5L173.5,643.6L175.3,642.8L177,642.1L178.7,641.5L180.4,641L182.1,640.5L183.6,640.1L185.2,639.7L186.7,639.3L188.2,639L189.7,638.8L191.2,638.5L192.7,638.4L194.2,638.3L195.7,638.3L197.2,638.3L198.7,638.4L200.2,638.5L201.8,638.7L203.3,638.9L204.9,639.3L206.5,639.7L208,640.3L209.4,641.1L210.8,641.9L212.1,642.7L213.3,643.6L214.6,644.6L215.8,645.7L217,646.9L218.1,648.3L219.2,649.9L220.1,651.6L221,653.6L221.8,655.8L222.5,657.9L223.2,659.9L223.8,661.8L224.2,663.3L224.6,664.4L219.2,667L218.3,666.2L217.1,665L215.6,663.6L214,662.2L212.4,660.8L210.8,659.6L209.5,658.7L208.3,658.3L207.5,658.2L206.7,658.2L206,658.2L205.4,658L204.8,657.9L204.1,657.8L203.4,657.7L202.7,657.6L202,657.6L201.3,657.7L200.6,657.7L199.9,657.8L199.1,657.9L198.2,658.1L197.3,658.3L196.5,658.4L195.7,658.7L195,658.9L194.4,659.2L193.7,659.5L193,659.8L192.2,660.2L191.3,660.6L190.3,661L189.2,661.3L188.1,661.5L186.9,661.8L185.8,662L184.8,662.4L183.8,662.7L182.8,663L181.8,663.4L180.8,663.9L179.7,664.5L178.6,665.2L177.4,665.9L176.1,666.7L174.8,667.6L173.5,668.6L172.2,669.6L170.9,670.6L169.6,671.7L168.2,672.9L166.8,674.2L165.4,675.6L163.9,677L162.3,678.5L160.8,680.1L159.2,681.6L157.7,683.1L156.2,684.6L154.6,686.1L153.1,687.7L151.5,689.3L150,690.9L148.5,692.5L147,694.1L145.5,695.9L143.9,697.8L142.2,699.8L140.5,701.8L138.8,703.8L137.1,705.8L135.3,707.6L133.7,709.2L132.1,710.8L130.6,712.2L129,713.7L127.3,715L125.6,716.3L123.9,717.5L122.1,718.7L120.3,719.7L118.4,720.5L116.6,721.3L114.7,721.9L112.8,722.4L110.9,722.7L108.9,722.9L106.8,723.1L104.6,723.2L102.3,723.1L99.9,722.9L97.6,722.7L95.4,722.5L93.3,722.2L91.3,722L89.4,721.8L87.5,721.7L85.5,721.5L83.5,721.3L81.5,721.2L79.6,721L78,720.9L76.6,720.8L75.5,720.7Z" fill="rgb(120,120,120)" stroke="none" style="mix-blend-mode:lighten"/>
<path d="M81.1,697.7L82.2,697.9L83.5,698.3L85.1,698.8L86.9,699.3L88.8,699.8L90.8,700.4L92.8,701L94.8,701.5L96.7,702.1L98.8,702.6L100.8,703.2L103,703.8L105.2,704.4L107.6,705.1L110,705.8L112.5,706.6L115.1,707.4L117.7,708.5L120.3,709.7L122.9,711L125.5,712.2L128.1,713.4L130.8,714.7L133.5,715.9L136.4,717.2L139.3,718.5L142.3,719.8L145.3,721.1L148.4,722.4L151.4,723.7L154.4,724.9L157.3,726.1L160.2,727.2L163.2,728.3L166.1,729.4L169.1,730.5L172,731.5L174.9,732.5L177.7,733.5L180.5,734.4L183.1,735.3L185.6,736.2L188.2,737L190.8,737.8L193.5,738.6L196.3,739.5L199.3,740.5L202.3,741.5L205.5,742.5L208.8,743.7L212.1,744.8L215.5,746L218.9,747.2L222.2,748.3L225.5,749.5L228.6,750.6L231.6,751.7L234.5,752.9L237.3,754L240,755L242.6,756.1L245,757.1L247.3,758L249.4,759.1L251.3,760.1L252.9,760.9L254.5,761.7L255.9,762.4L257.4,763.2L258.9,763.9L260.5,764.7L262.3,765.6L264.3,766.6L266.5,767.6L268.9,768.7L271.5,769.9L274.3,771.2L277.2,772.6L280.1,774.2L283,776L285.8,778L288.5,780.1L291,782.4L293.3,784.6L295.3,786.6L297.1,788.4L298.6,789.9L299.7,791L285.1,810L283.8,808.9L282.3,807.5L280.5,805.8L278.6,804L276.7,802.3L274.7,800.6L273,799.1L271.3,797.9L269.7,796.9L267.8,795.9L265.7,794.8L263.3,793.8L260.9,792.7L258.5,791.7L256.1,790.7L253.8,789.7L251.8,788.8L250.1,788L248.5,787.2L247,786.6L245.5,785.8L244,785.1L242.2,784.3L240.2,783.4L238.1,782.3L235.7,781.4L233.2,780.4L230.7,779.4L228.1,778.4L225.4,777.4L222.6,776.4L219.8,775.4L216.8,774.4L213.7,773.3L210.5,772.2L207.2,771.1L203.8,770L200.5,768.9L197.3,767.9L194.3,766.9L191.4,766L188.6,765.1L185.9,764.3L183.1,763.5L180.4,762.7L177.5,761.8L174.6,760.9L171.7,759.9L168.6,758.8L165.6,757.7L162.5,756.5L159.4,755.4L156.3,754.1L153.2,752.9L150.1,751.6L147,750.3L143.8,748.9L140.7,747.5L137.5,746.1L134.4,744.6L131.3,743.2L128.2,741.7L125.3,740.3L122.4,738.9L119.5,737.5L116.8,736.1L114,734.9L111.2,733.8L108.5,732.8L105.9,731.8L103.4,730.8L101,729.9L98.7,729.1L96.4,728.3L94.3,727.5L92.1,726.8L90.1,726.1L88.1,725.4L86.1,724.7L84.1,724L82.2,723.3L80.2,722.6L78.3,722L76.4,721.3L74.7,720.7L73.1,720.1L71.8,719.7L70.8,719.3Z" fill="rgb(120,120,120)" stroke="none" style="mix-blend-mode:lighten"/>
<path d="M260,777.6L260.3,778.8L260.7,780.4L261.1,782.4L261.6,784.4L262.2,786.5L262.7,788.6L263.3,790.4L263.9,792L264.5,793.4L265.1,794.7L265.8,796L266.5,797.2L267.3,798.4L268.1,799.7L269,800.9L270,802.2L271.1,803.5L272.3,804.8L273.7,806.1L275.1,807.5L276.7,809L278.2,810.5L279.8,812L281.4,813.6L283,815.3L284.5,817L286,818.7L287.5,820.3L288.9,822L290.3,823.5L291.7,825L293.1,826.4L294.5,827.7L295.8,828.9L297.2,830.1L298.7,831.4L300.2,832.6L301.8,834L303.4,835.5L305,837.1L306.6,838.8L308.2,840.6L309.8,842.5L311.4,844.4L312.9,846.3L314.4,848.2L315.9,850.1L317.3,851.9L318.7,853.8L320.1,855.7L321.4,857.7L322.7,859.6L323.9,861.5L325.1,863.3L326.2,865L327.2,866.7L328,868.3L328.7,869.9L329.2,871.3L329.6,872.4L329.9,873.3L330.1,873.9L330.2,874.2L330.3,874.4L330.3,874.5L330.3,874.4L330.5,874.4L331,874.7L331.9,875.2L333.2,876L334.5,877.1L335.7,878.3L336.9,879.8L338.1,881.3L339.4,882.9L340.7,884.7L342,886.5L343.3,888.4L344.6,890.3L345.9,892.3L347.1,894.3L348.3,896.3L349.6,898.4L350.8,900.6L352,902.8L353.2,904.9L354.4,907.1L355.5,909.2L356.6,911.3L357.7,913.4L358.8,915.5L359.8,917.6L360.9,919.7L361.9,921.8L362.9,923.9L363.8,926L364.8,928L365.8,930.1L366.7,932.2L367.7,934.3L368.6,936.5L369.5,938.6L370.3,940.8L371.2,943L371.9,945.2L372.6,947.5L373.3,949.7L373.9,952L374.5,954.1L375,956.2L375.5,958.2L376,960L376.5,961.8L376.9,963.6L377.3,965.4L377.7,967L378,968.5L378.3,969.8L378.5,970.9L378.7,971.7L366.9,974.3L366.6,973.4L366.2,972.4L365.8,971.1L365.3,969.7L364.7,968.2L364.1,966.6L363.4,965L362.7,963.4L362,961.7L361.2,959.8L360.4,957.9L359.6,955.9L358.7,954L357.8,952L356.9,950.2L355.9,948.4L354.9,946.7L353.9,944.9L352.9,943.1L351.8,941.3L350.7,939.4L349.6,937.5L348.4,935.6L347.3,933.7L346.1,931.8L345,929.9L343.8,928L342.6,926.1L341.4,924.2L340.2,922.4L339,920.5L337.7,918.6L336.4,916.7L335.1,914.8L333.7,912.9L332.4,911L331,909.2L329.7,907.4L328.4,905.7L327.2,904.2L325.9,902.6L324.6,901.1L323.3,899.6L322.1,898.2L321,896.8L319.9,895.5L319.1,894.6L318.7,894.1L318.6,894.1L319.1,894.5L319.6,894.9L319.5,894.9L318.4,894.4L316.3,893L313.8,890.9L311.6,888.4L309.8,885.7L308.6,883.3L307.9,881.4L307.4,880.1L307.2,879.4L307,879L306.8,878.7L306.5,878.1L305.9,877.1L305,875.9L304,874.4L302.9,872.8L301.7,871.1L300.5,869.5L299.3,867.8L298.1,866.3L296.8,864.7L295.5,863.1L294.1,861.4L292.7,859.8L291.3,858.2L289.9,856.7L288.6,855.4L287.4,854.2L286.3,853.1L285.2,852.2L284.1,851.2L282.7,850.1L281.2,848.9L279.4,847.5L277.6,845.9L275.7,844.1L273.8,842.3L272,840.5L270.5,838.6L269.2,836.7L268,834.8L266.8,833L265.7,831.3L264.7,829.7L263.7,828.2L262.6,826.6L261.3,825L260,823.2L258.5,821.4L257,819.4L255.5,817.4L254.1,815.3L252.9,813.2L251.8,811.2L250.8,809.3L249.8,807.3L248.9,805.3L248.2,803.2L247.4,801L246.7,798.7L246.1,796.3L245.7,793.7L245.3,791L245,788.5L244.8,786.2L244.7,784.2L244.6,782.5L244.5,781.3Z" fill="rgb(120,120,120)" stroke="none" style="mix-blend-mode:lighten"/>
<path d="M260.4,770.3L262,770.8L264.1,771.5L266.6,772.3L269.4,773.3L272.5,774.3L275.6,775.5L278.8,776.8L281.6,778.2L284.3,779.7L286.9,781.2L289.3,782.9L291.6,784.5L293.8,786.2L296,787.9L298,789.6L300.1,791.3L302.1,793L304.1,794.8L306.1,796.7L308,798.5L309.9,800.5L311.8,802.5L313.6,804.5L315.4,806.5L317.2,808.6L318.8,810.8L320.5,812.9L322,815.1L323.6,817.3L325.1,819.6L326.6,821.9L328.1,824.3L329.7,826.9L331.2,829.6L332.8,832.3L334.4,835.1L335.9,837.9L337.4,840.8L338.8,843.6L340.3,846.4L341.6,849.1L342.9,851.9L344.2,854.7L345.4,857.4L346.5,860.1L347.7,862.7L348.8,865.3L349.9,867.9L351.1,870.6L352.3,873.2L353.5,875.8L354.7,878.5L355.9,881.2L357.1,883.9L358.3,886.6L359.4,889.4L360.4,892.1L361.5,894.9L362.4,897.6L363.4,900.3L364.4,903.1L365.3,905.8L366.2,908.5L367.1,911.3L368,914L368.9,916.7L369.7,919.4L370.5,922.2L371.4,924.9L372.1,927.6L372.9,930.4L373.7,933.1L374.4,935.8L375.2,938.6L375.9,941.4L376.6,944.1L377.2,946.9L377.9,949.6L378.4,952.4L378.7,955.1L379.1,957.7L379.4,960.4L379.6,963L379.8,965.5L380,968L380.2,970.4L380.3,972.7L380.5,974.9L380.5,977.1L380.6,979.3L380.6,981.5L380.6,983.6L380.6,985.5L380.6,987.1L380.6,988.5L380.6,989.6L372.6,990.4L372.5,989.3L372.4,987.9L372.2,986.3L372,984.4L371.8,982.5L371.5,980.4L371.2,978.4L370.9,976.3L370.6,974.2L370.2,972L369.8,969.8L369.4,967.5L368.9,965.1L368.4,962.7L367.8,960.2L367.2,957.8L366.6,955.3L365.9,952.8L365.2,950.2L364.5,947.5L363.7,944.9L362.9,942.2L362.1,939.5L361.3,936.9L360.4,934.3L359.6,931.7L358.7,929.1L357.8,926.4L356.9,923.8L356,921.2L355,918.6L354.1,916L353.1,913.3L352.1,910.7L351.1,908.1L350.1,905.5L349,902.9L348,900.3L346.9,897.7L345.8,895L344.7,892.4L343.5,889.8L342.3,887.2L341.1,884.6L339.9,882L338.7,879.3L337.5,876.7L336.2,874L335.1,871.4L333.9,868.7L332.7,866.1L331.6,863.4L330.4,860.8L329.2,858.2L328,855.7L326.7,853.1L325.3,850.5L323.9,847.8L322.5,845.1L321,842.4L319.5,839.8L318,837.2L316.5,834.8L315,832.4L313.6,830.2L312.2,828L310.8,826L309.4,824L308,822.1L306.6,820.2L305.1,818.4L303.6,816.6L302,814.8L300.4,813L298.7,811.3L297.1,809.6L295.3,808L293.6,806.4L291.8,804.8L289.9,803.2L288,801.7L286.1,800.1L284.2,798.7L282.3,797.2L280.4,795.9L278.4,794.6L276.4,793.4L274.4,792.3L272.2,791.3L269.7,790.2L267,789.3L264.2,788.3L261.5,787.5L259.1,786.7L257,786L255.4,785.5Z" fill="rgb(120,120,120)" stroke="none" style="mix-blend-mode:lighten"/>
<path d="M254.2,779L258.3,794.2L265.4,806L277.1,817.8L288.9,830.7L300.7,841.3L312.5,855.5L321.9,869.6L325.5,878L331.3,882.4L340.8,895.5L350.2,912L358.4,928.5L365.5,945L370.2,961.5L372.8,973L376.6,990L375,975.7L371.4,956.8L365.5,935.6L358.4,914.4L350.2,893.2L340.8,872L331.3,850.8L319.6,829.6L307.8,813L293.6,798.9L277.1,787.1L257.3,779.8Z" fill="rgb(120,120,120)" stroke="none" style="mix-blend-mode:lighten"/>
<path d="M539.6,799.7L538.7,800.1L537.5,800.8L536.2,801.5L534.6,802.3L532.9,803.3L531.1,804.2L529.2,805.3L527.2,806.4L525.1,807.5L522.8,808.7L520.4,809.9L518,811.1L515.6,812.4L513.2,813.7L510.9,815L508.7,816.4L506.5,817.8L504.3,819.4L502.1,821L499.8,822.8L497.4,824.6L495,826.4L492.6,828.2L490.2,830.1L487.7,831.8L485.3,833.6L482.9,835.2L480.6,836.8L478.3,838.4L476.1,840.1L473.9,841.8L471.8,843.6L469.5,845.5L467.3,847.6L464.9,849.9L462.6,852.2L460.2,854.5L457.9,856.9L455.6,859.3L453.4,861.6L451.2,863.9L449.1,866.2L447,868.5L444.9,870.8L442.9,873L440.9,875.3L439,877.6L437.1,879.8L435.3,882.1L433.5,884.4L431.7,886.7L429.9,889L428.2,891.3L426.5,893.6L424.8,895.9L423.2,898.2L421.6,900.3L420.1,902.5L418.6,904.6L417.1,906.6L415.7,908.7L414.2,910.8L412.7,912.9L411.2,915L409.7,917.2L408.1,919.3L406.5,921.3L405,923.4L403.5,925.3L402.1,927.3L400.8,929.2L399.5,931.1L398.2,933.1L396.9,935.3L395.5,937.6L394.2,939.9L393,942.1L391.9,944.1L390.9,945.8L390.2,947.1L373.6,937.9L374.1,936.5L374.8,934.7L375.6,932.5L376.6,930.1L377.6,927.4L378.7,924.7L379.9,922L381.1,919.4L382.4,916.9L383.7,914.4L385,912L386.2,909.6L387.5,907.3L388.7,905.1L389.9,902.9L391,900.7L392.1,898.5L393.2,896.3L394.3,894.1L395.5,891.8L396.7,889.4L397.9,887L399.2,884.5L400.5,882L401.9,879.5L403.3,876.9L404.7,874.2L406.2,871.5L407.8,868.7L409.4,865.9L411.1,863.1L412.9,860.2L414.7,857.4L416.5,854.6L418.4,851.9L420.2,849.1L422.2,846.3L424.1,843.5L426.1,840.8L428.1,838L430.1,835.2L432.2,832.4L434.4,829.5L436.6,826.5L439,823.5L441.4,820.5L443.9,817.5L446.6,814.6L449.3,811.8L452,809.2L454.8,806.9L457.5,805L460,803.2L462.3,801.6L464.4,800L466.5,798.5L468.6,796.9L470.8,795.2L473.2,793.3L475.6,791.4L478.2,789.4L481,787.3L484,785.2L487,783.2L490.2,781.2L493.3,779.3L496.3,777.6L499.2,776.1L501.8,774.7L504.2,773.5L506.3,772.4L508.2,771.4L510,770.4L511.8,769.3L513.6,768.3L515.3,767.4L516.8,766.6L518.1,765.8L519.3,765.2L520.2,764.7Z" fill="rgb(120,120,120)" stroke="none" style="mix-blend-mode:lighten"/>
<path d="M550.2,815.9L549.3,816.4L548.2,817L546.8,817.8L545.3,818.7L543.7,819.6L541.9,820.7L540,821.8L537.9,823L535.7,824.3L533.4,825.6L531,826.9L528.6,828.3L526.2,829.6L524,830.9L521.9,832.1L519.9,833.4L517.9,834.7L515.9,836L513.8,837.6L511.6,839.2L509.3,840.9L506.9,842.7L504.3,844.6L501.7,846.5L499.1,848.4L496.6,850.2L494.2,851.8L491.9,853.4L489.7,854.8L487.6,856L485.5,857.2L483.3,858.4L481.1,859.9L478.8,861.5L476.3,863.3L473.8,865.1L471.2,867.1L468.7,869.1L466.1,871.1L463.6,873.1L461.2,875.1L458.9,877L456.6,879L454.3,880.9L452.1,882.9L449.8,884.8L447.7,886.8L445.6,888.7L443.5,890.7L441.4,892.7L439.4,894.7L437.4,896.7L435.4,898.8L433.5,900.9L431.5,903L429.6,905L427.8,907.1L425.9,909L424.2,911L422.5,912.8L420.8,914.7L419.3,916.5L417.8,918.2L416.3,920L414.8,921.9L413.4,923.9L411.9,926L410.4,928.2L408.9,930.4L407.5,932.6L406.1,934.6L404.8,936.5L403.5,938.2L402.3,939.8L401.1,941.1L400.1,942.3L399.3,943.2L398.5,943.9L398,944.5L397.5,945L383.1,934.2L383.5,933.6L384,933L384.6,932.2L385.2,931.4L385.8,930.5L386.5,929.5L387.2,928.3L388,927L388.8,925.4L389.8,923.5L390.8,921.3L392,918.9L393.2,916.4L394.5,913.8L395.9,911.3L397.3,908.8L398.7,906.4L400.1,904.1L401.6,901.8L403.1,899.6L404.6,897.4L406.1,895.1L407.7,892.9L409.3,890.6L410.9,888.3L412.6,885.9L414.3,883.5L416,881L417.8,878.5L419.7,876L421.6,873.5L423.5,871.1L425.5,868.6L427.5,866.1L429.5,863.7L431.6,861.2L433.7,858.8L435.8,856.3L438,853.9L440.2,851.4L442.5,848.9L444.8,846.4L447.2,843.9L449.6,841.3L452.1,838.8L454.6,836.3L457.1,833.9L459.6,831.6L462.1,829.4L464.6,827.3L467.1,825.4L469.5,823.5L471.9,821.7L474.2,820L476.5,818.3L478.8,816.5L481,814.7L483.3,812.9L485.7,811L488.1,809.1L490.5,807.1L492.9,805.2L495.4,803.4L497.9,801.6L500.5,799.8L503.1,798.1L505.8,796.4L508.3,794.8L510.8,793.3L513.2,791.8L515.4,790.5L517.4,789.3L519.2,788.1L521.1,786.9L522.8,785.8L524.4,784.8L525.9,783.9L527.2,783.1L528.3,782.4L529.2,781.8Z" fill="rgb(120,120,120)" stroke="none" style="mix-blend-mode:lighten"/>
<path d="M360,942L398,942L392,965L387.5,985L382.5,1000L378.6,1024L374.5,1000L369.5,985L364,965Z" fill="rgb(120,120,120)" stroke="none" style="mix-blend-mode:lighten"/>
<path d="M80,682L112,684L124,700L134,712L128,726L80,728Z" fill="rgb(120,120,120)" stroke="none" style="mix-blend-mode:lighten"/>
<ellipse cx="97.5" cy="693.8" rx="6.5" ry="4.5" fill="#fff" fill-opacity="0.95" stroke="none" transform="rotate(0 97.5 693.8)"/>
<ellipse cx="97.5" cy="693.8" rx="10" ry="7" fill="#fff" fill-opacity="0.3" stroke="none" transform="rotate(0 97.5 693.8)"/>
<path d="M113,721C114.3,720.2 118.3,718.2 121,716C123.7,713.8 127.7,709.3 129,708" stroke-width="9" stroke-opacity="0.95"/>
<path d="M104,728C106,727 112,724.8 116,722C120,719.2 126,712.8 128,711" stroke-width="15" stroke-opacity="0.32"/>
<path d="M96,724C97.7,724.3 103,726.2 106,726C109,725.8 112.7,723.5 114,723" stroke-width="8" stroke-opacity="0.6"/>
<path d="M232,767C234.3,767.8 241.7,770.5 246,772C250.3,773.5 256,775.3 258,776" stroke-width="8" stroke-opacity="0.3"/>
<path d="M252,772C254,773 259.8,775.7 264,778C268.2,780.3 272.7,783.3 277,786C281.3,788.7 287.8,792.7 290,794" stroke-width="9" stroke-opacity="0.9"/>
<path d="M240,769C243.7,770.7 254.8,775 262,779C269.2,783 276.7,788.2 283,793C289.3,797.8 294.8,802.5 300,808C305.2,813.5 309.7,819.5 314,826C318.3,832.5 322,839.3 326,847C330,854.7 334,863.3 338,872C342,880.7 346.3,889.8 350,899C353.7,908.2 357,918.5 360,927C363,935.5 366.7,946.2 368,950" stroke-width="12" stroke-opacity="0.6"/>
<path d="M262,800C265,802.5 273.7,809 280,815C286.3,821 293.7,828.8 300,836C306.3,843.2 312.3,850.3 318,858C323.7,865.7 331.3,878 334,882" stroke-width="8" stroke-opacity="0.25"/>
<path d="M263,806C264.5,807.3 270.5,812.7 272,814" stroke-width="5" stroke-opacity="0.5"/>
<path d="M521,786C517,788 504.8,793.2 497,798C489.2,802.8 481.5,808.7 474,815C466.5,821.3 459,828.7 452,836C445,843.3 438.3,851 432,859C425.7,867 417,879.8 414,884" stroke-width="12" stroke-opacity="0.26"/>
<path d="M526,804C522.2,806 510.3,811.7 503.4,816C496.5,820.3 490.8,825.2 484.5,830C478.2,834.8 472,838.9 465.7,844.5C459.4,850.1 452.7,857.2 446.8,863.5C440.9,869.8 435.4,876.2 430.3,882.5C425.2,888.8 420.5,895.1 416.2,901C411.9,906.9 408.1,912.5 404.4,918C400.7,923.5 397.1,928.7 394,934C390.9,939.3 387.3,947.3 386,950" stroke-width="22" stroke-opacity="0.4"/>
<path d="M526,805C522.2,807 510.3,812.7 503.4,817C496.5,821.3 490.8,826.2 484.5,831C478.2,835.8 471.6,840.3 465.7,845.5C459.8,850.7 453.9,856.8 449,862C444.1,867.2 440.2,872 436,877C431.8,882 426,889.5 424,892" stroke-width="10" stroke-opacity="0.42"/>
<path d="M526,805C522.2,806.9 510.3,812.2 503.4,816.5C496.5,820.8 490.4,826.1 484.5,830.5C478.6,834.9 470.8,840.9 468,843" stroke-width="8" stroke-opacity="0.5"/>
<path d="M413,906C411.5,908.2 407,914.5 404,919C401,923.5 397.5,928.5 395,933C392.5,937.5 390,943.8 389,946" stroke-width="8" stroke-opacity="0.7"/>
<path d="M378,952C377.6,953.7 376.2,958.7 375.5,962C374.8,965.3 374.2,970.3 374,972" stroke-width="5" stroke-opacity="0.5"/>
<path d="M371,938C371.6,941.7 373.5,952.7 374.5,960C375.5,967.3 376.4,975.3 377,982C377.6,988.7 378.1,997 378.3,1000" stroke-width="9" stroke-opacity="0.38"/>
<path d="M381,965C381.7,962.5 383.2,954.8 385,950C386.8,945.2 390.8,938.3 392,936" stroke-width="8" stroke-opacity="0.4"/>
</g></g>
<g fill="none" stroke="#000" stroke-width="3" stroke-linejoin="round" stroke-linecap="round">
<path d="M89.5,712.7C92.2,712.7 101.3,713.3 105.7,712.7C110.1,712.1 112.6,711.4 116,709.2C119.4,707 122.6,703.9 126.3,699.7C130,695.5 134.4,689.1 138.4,684.2C142.4,679.3 146.5,674.8 150.5,670.5C154.5,666.2 158.5,661.9 162.5,658.4C166.5,654.9 170.6,651.9 174.6,649.8C178.6,647.6 182.9,646.4 186.6,645.5C190.3,644.6 193.6,644.2 197,644.3C200.4,644.4 204.2,644.9 207.3,646.3C210.5,647.6 213.3,649.2 215.9,652.4C218.5,655.6 220.5,660.6 222.8,665.3C225.1,670 227.7,675.9 229.7,680.8C231.7,685.7 233.3,689.4 234.9,694.6C236.5,699.8 237.8,706.1 239.2,711.8C240.6,717.5 242.2,723.2 243.5,729C244.8,734.8 245.8,740.5 246.9,746.3C248.1,752 249.2,758 250.4,763.5C251.6,769 252.9,773.9 254.2,779C255.5,784.1 256.4,789.7 258.3,794.2C260.2,798.7 262.3,802.1 265.4,806C268.5,809.9 273.2,813.7 277.1,817.8C281,821.9 285,826.8 288.9,830.7C292.8,834.6 296.8,837.2 300.7,841.3C304.6,845.4 309,850.8 312.5,855.5C316,860.2 319.7,865.9 321.9,869.6C324.1,873.4 323.9,875.9 325.5,878C327.1,880.1 328.8,879.5 331.3,882.4C333.9,885.3 337.7,890.6 340.8,895.5C343.9,900.4 347.3,906.5 350.2,912C353.1,917.5 355.8,923 358.4,928.5C360.9,934 363.5,939.5 365.5,945C367.5,950.5 369,956.8 370.2,961.5C371.4,966.2 372.4,971.1 372.8,973"/>
<path d="M89.5,712.7C92.2,714 99.6,717.4 105.7,720.4C111.8,723.4 118.8,727.2 126.3,730.8C133.8,734.4 142.4,738.6 150.5,742C158.6,745.4 166.8,748.7 174.6,751.4C182.3,754.1 189,755.7 197,758.3C205,760.9 215.1,764.2 222.8,766.9C230.6,769.6 237.8,772.6 243.5,774.7C249.2,776.9 251.7,777.7 257.3,779.8C262.9,781.9 271.1,783.9 277.1,787.1C283.2,790.3 288.5,794.6 293.6,798.9C298.7,803.2 303.5,807.9 307.8,813C312.1,818.1 315.7,823.3 319.6,829.6C323.5,835.9 327.8,843.7 331.3,850.8C334.8,857.9 337.7,864.9 340.8,872C343.9,879.1 347.3,886.1 350.2,893.2C353.1,900.3 355.8,907.3 358.4,914.4C360.9,921.5 363.3,928.5 365.5,935.6C367.7,942.7 369.8,950.1 371.4,956.8C373,963.5 374.1,970.2 375,975.7C375.9,981.2 376.3,987.6 376.6,990"/>
<path d="M522.5,797.7C519.3,799.5 509.7,804.2 503.4,808.3C497.1,812.4 490.8,817.8 484.5,822.5C478.2,827.2 472,831.1 465.7,836.6C459.4,842.1 452.7,849.2 446.8,855.5C440.9,861.8 435.4,868 430.3,874.3C425.2,880.6 420.5,887.2 416.2,893.2C411.9,899.2 408.3,904.6 404.4,910.2C400.5,915.8 396.1,921.2 392.6,926.7C389.1,932.2 385.9,938.1 383.2,943.2C380.5,948.3 378.1,953.2 376.5,957.3C374.9,961.4 374.1,966.2 373.6,968"/>
<path d="M522.5,797.7C519.3,799.7 509.7,805.1 503.4,809.5C497.1,813.9 490.8,819.2 484.5,824C478.2,828.8 472,832.9 465.7,838.5C459.4,844.1 452.7,851.2 446.8,857.5C440.9,863.8 435.4,870.2 430.3,876.5C425.2,882.8 420.5,889.4 416.2,895.5C411.9,901.6 407.9,907.1 404.4,913C400.9,918.9 397.5,926.7 395,931C392.5,935.3 391.1,934.7 389.5,939C387.9,943.3 386.8,950.7 385.5,956.8C384.2,962.9 382.9,969.8 382,975.7C381.1,981.6 380.3,989.3 380,992"/>
<path d="M376.6,985 L377.3,1000 L378.1,1011 L378.9,1011 L379.7,1000 L380.3,985" fill="#000" stroke-width="1.2"/>
<path d="M373.6,968L375.5,976L377,990"/>
<path d="M372.8,973L373.8,973.5"/>
</g></g>
<g stroke="#000" stroke-width="1.8" fill="none">
<path d="M89.5,612.3V1027.6H522.5V612.3Z"/>
<path d="M89.5,1027.6v7.8M161.7,1027.6v7.8M233.8,1027.6v7.8M306,1027.6v7.8M378.2,1027.6v7.8M450.3,1027.6v7.8M522.5,1027.6v7.8M125.6,1027.6v4.2M197.7,1027.6v4.2M269.9,1027.6v4.2M342.1,1027.6v4.2M414.2,1027.6v4.2M486.4,1027.6v4.2M89.5,672.5h-7.8M89.5,761.3h-7.8M89.5,850.1h-7.8M89.5,938.9h-7.8M89.5,1027.7h-7.8M89.5,628.1h-4.2M89.5,716.9h-4.2M89.5,805.7h-4.2M89.5,894.5h-4.2M89.5,983.3h-4.2"/>
</g>
<g font-weight="bold" font-size="17.3">
<text x="89.5" y="1055.6" font-size="17.3" font-weight="bold" font-style="normal" text-anchor="middle" >-2.0</text>
<text x="161.7" y="1055.6" font-size="17.3" font-weight="bold" font-style="normal" text-anchor="middle" >-1.5</text>
<text x="233.8" y="1055.6" font-size="17.3" font-weight="bold" font-style="normal" text-anchor="middle" >-1.0</text>
<text x="306" y="1055.6" font-size="17.3" font-weight="bold" font-style="normal" text-anchor="middle" >-0.5</text>
<text x="378.2" y="1055.6" font-size="17.3" font-weight="bold" font-style="normal" text-anchor="middle" >0.0</text>
<text x="450.3" y="1055.6" font-size="17.3" font-weight="bold" font-style="normal" text-anchor="middle" >0.5</text>
<text x="522.5" y="1055.6" font-size="17.3" font-weight="bold" font-style="normal" text-anchor="middle" >1.0</text>
<text x="76" y="678.7" font-size="17.3" font-weight="bold" font-style="normal" text-anchor="end" >0</text>
<text x="76" y="767.5" font-size="17.3" font-weight="bold" font-style="normal" text-anchor="end" >-2</text>
<text x="76" y="856.3" font-size="17.3" font-weight="bold" font-style="normal" text-anchor="end" >-4</text>
<text x="76" y="945.1" font-size="17.3" font-weight="bold" font-style="normal" text-anchor="end" >-6</text>
<text x="76" y="1033.9" font-size="17.3" font-weight="bold" font-style="normal" text-anchor="end" >-8</text>
</g>
<g shape-rendering="crispEdges"><rect x="540" y="613.00" width="30" height="9.61" fill="rgb(238,44,36)"/><rect x="540" y="622.01" width="30" height="9.61" fill="rgb(238,49,37)"/><rect x="540" y="631.01" width="30" height="9.61" fill="rgb(238,55,37)"/><rect x="540" y="640.02" width="30" height="9.61" fill="rgb(238,71,39)"/><rect x="540" y="649.03" width="30" height="9.61" fill="rgb(238,86,40)"/><rect x="540" y="658.03" width="30" height="9.61" fill="rgb(238,109,43)"/><rect x="540" y="667.04" width="30" height="9.61" fill="rgb(239,133,47)"/><rect x="540" y="676.05" width="30" height="9.61" fill="rgb(239,155,51)"/><rect x="540" y="685.05" width="30" height="9.61" fill="rgb(240,177,56)"/><rect x="540" y="694.06" width="30" height="9.61" fill="rgb(239,198,62)"/><rect x="540" y="703.07" width="30" height="9.61" fill="rgb(237,220,71)"/><rect x="540" y="712.07" width="30" height="9.61" fill="rgb(234,241,79)"/><rect x="540" y="721.08" width="30" height="9.61" fill="rgb(221,236,75)"/><rect x="540" y="730.08" width="30" height="9.61" fill="rgb(208,231,70)"/><rect x="540" y="739.09" width="30" height="9.61" fill="rgb(194,225,67)"/><rect x="540" y="748.10" width="30" height="9.61" fill="rgb(179,220,65)"/><rect x="540" y="757.10" width="30" height="9.61" fill="rgb(166,216,64)"/><rect x="540" y="766.11" width="30" height="9.61" fill="rgb(155,212,63)"/><rect x="540" y="775.12" width="30" height="9.61" fill="rgb(145,209,63)"/><rect x="540" y="784.12" width="30" height="9.61" fill="rgb(138,207,63)"/><rect x="540" y="793.13" width="30" height="9.61" fill="rgb(131,205,64)"/><rect x="540" y="802.14" width="30" height="9.61" fill="rgb(128,204,65)"/><rect x="540" y="811.14" width="30" height="9.61" fill="rgb(125,203,66)"/><rect x="540" y="820.15" width="30" height="9.61" fill="rgb(124,203,69)"/><rect x="540" y="829.16" width="30" height="9.61" fill="rgb(124,203,74)"/><rect x="540" y="838.16" width="30" height="9.61" fill="rgb(124,203,81)"/><rect x="540" y="847.17" width="30" height="9.61" fill="rgb(126,204,96)"/><rect x="540" y="856.18" width="30" height="9.61" fill="rgb(128,204,111)"/><rect x="540" y="865.18" width="30" height="9.61" fill="rgb(130,206,133)"/><rect x="540" y="874.19" width="30" height="9.61" fill="rgb(133,207,156)"/><rect x="540" y="883.20" width="30" height="9.61" fill="rgb(132,209,177)"/><rect x="540" y="892.20" width="30" height="9.61" fill="rgb(128,211,196)"/><rect x="540" y="901.21" width="30" height="9.61" fill="rgb(123,213,213)"/><rect x="540" y="910.22" width="30" height="9.61" fill="rgb(114,212,223)"/><rect x="540" y="919.22" width="30" height="9.61" fill="rgb(104,211,233)"/><rect x="540" y="928.23" width="30" height="9.61" fill="rgb(98,198,230)"/><rect x="540" y="937.23" width="30" height="9.61" fill="rgb(92,186,227)"/><rect x="540" y="946.24" width="30" height="9.61" fill="rgb(86,169,218)"/><rect x="540" y="955.25" width="30" height="9.61" fill="rgb(81,151,207)"/><rect x="540" y="964.25" width="30" height="9.61" fill="rgb(77,135,197)"/><rect x="540" y="973.26" width="30" height="9.61" fill="rgb(73,124,190)"/><rect x="540" y="982.27" width="30" height="9.61" fill="rgb(70,113,183)"/><rect x="540" y="991.27" width="30" height="9.61" fill="rgb(68,105,178)"/><rect x="540" y="1000.28" width="30" height="9.61" fill="rgb(66,98,174)"/><rect x="540" y="1009.29" width="30" height="9.61" fill="rgb(65,91,170)"/><rect x="540" y="1018.29" width="30" height="9.61" fill="rgb(64,84,167)"/></g>
<path d="M570,613V1027.3" stroke="#000" stroke-width="1.6"/>
<path d="M570,1027.3H540V613H570" stroke="#111" stroke-width="1.2" fill="none"/>
<text x="584.5" y="1033.5" font-size="17.3" font-weight="bold" font-style="normal" text-anchor="start" >0.00</text>
<text x="584.5" y="967.2" font-size="17.3" font-weight="bold" font-style="normal" text-anchor="start" >0.05</text>
<text x="584.5" y="900.9" font-size="17.3" font-weight="bold" font-style="normal" text-anchor="start" >0.10</text>
<text x="584.5" y="834.6" font-size="17.3" font-weight="bold" font-style="normal" text-anchor="start" >0.15</text>
<text x="584.5" y="768.3" font-size="17.3" font-weight="bold" font-style="normal" text-anchor="start" >0.20</text>
<text x="584.5" y="702" font-size="17.3" font-weight="bold" font-style="normal" text-anchor="start" >0.25</text>
<text x="584.5" y="635.7" font-size="17.3" font-weight="bold" font-style="normal" text-anchor="start" >0.30</text>
<path d="M570,1027.3h7M570,961h7M570,894.7h7M570,828.4h7M570,762.1h7M570,695.8h7M570,629.5h7" stroke="#000" stroke-width="1.6"/>
<text x="108" y="597.5" font-size="20.6" font-weight="bold" font-style="normal" text-anchor="start" >RH 80%</text>
<text x="515.5" y="601.8" font-size="21.6" font-weight="bold" font-style="normal" text-anchor="start" >Density</text>
<text x="307" y="1089" font-size="21.2" font-weight="bold" text-anchor="middle"><tspan font-style="italic">V</tspan> (V)</text>
<text transform="translate(48,820) rotate(-90)" font-size="21.3" font-weight="bold" text-anchor="middle">Log<tspan font-size="14" dy="4.5">10</tspan><tspan dy="-4.5"> |</tspan><tspan font-style="italic">J</tspan>| (A/cm<tspan font-size="14" dy="-8">2</tspan><tspan dy="8">)</tspan></text>
<!-- panel_d -->
<g fill="#141414" fill-opacity="0.85">
<path d="M773.2,985.3l5.2,5.2l-5.2,5.2l-5.2,-5.2z"/>
<path d="M776.8,986l5.2,5.2l-5.2,5.2l-5.2,-5.2z"/>
<path d="M783.1,984l5.2,5.2l-5.2,5.2l-5.2,-5.2z"/>
<path d="M786.2,986.3l5.2,5.2l-5.2,5.2l-5.2,-5.2z"/>
<path d="M788.8,984.5l5.2,5.2l-5.2,5.2l-5.2,-5.2z"/>
<path d="M791.5,985.2l5.2,5.2l-5.2,5.2l-5.2,-5.2z"/>
<path d="M794.1,986.4l5.2,5.2l-5.2,5.2l-5.2,-5.2z"/>
<path d="M798.8,984.6l5.2,5.2l-5.2,5.2l-5.2,-5.2z"/>
<path d="M801.9,986.5l5.2,5.2l-5.2,5.2l-5.2,-5.2z"/>
<path d="M811.8,984.9l5.2,5.2l-5.2,5.2l-5.2,-5.2z"/>
<path d="M780.5,986.3l5.2,5.2l-5.2,5.2l-5.2,-5.2z"/>
<path d="M796.1,986.3l5.2,5.2l-5.2,5.2l-5.2,-5.2z"/>
<path d="M852.7,977.7l5.2,5.2l-5.2,5.2l-5.2,-5.2z"/>
<path d="M845.5,981.6l5.2,5.2l-5.2,5.2l-5.2,-5.2z"/>
<path d="M857.6,976.9l5.2,5.2l-5.2,5.2l-5.2,-5.2z"/>
<path d="M856.4,980.5l5.2,5.2l-5.2,5.2l-5.2,-5.2z"/>
<path d="M866,982.8l5.2,5.2l-5.2,5.2l-5.2,-5.2z"/>
<path d="M863.2,981.2l5.2,5.2l-5.2,5.2l-5.2,-5.2z"/>
<path d="M846,982.3l5.2,5.2l-5.2,5.2l-5.2,-5.2z"/>
<path d="M850,977.8l5.2,5.2l-5.2,5.2l-5.2,-5.2z"/>
<path d="M846.9,979.3l5.2,5.2l-5.2,5.2l-5.2,-5.2z"/>
<path d="M857.9,980.7l5.2,5.2l-5.2,5.2l-5.2,-5.2z"/>
<path d="M855.7,982.7l5.2,5.2l-5.2,5.2l-5.2,-5.2z"/>
<path d="M844,981.8l5.2,5.2l-5.2,5.2l-5.2,-5.2z"/>
<path d="M858.9,980.3l5.2,5.2l-5.2,5.2l-5.2,-5.2z"/>
<path d="M850.1,979.3l5.2,5.2l-5.2,5.2l-5.2,-5.2z"/>
<path d="M853.4,981.1l5.2,5.2l-5.2,5.2l-5.2,-5.2z"/>
<path d="M861.6,978.5l5.2,5.2l-5.2,5.2l-5.2,-5.2z"/>
<path d="M895,978.2l5.2,5.2l-5.2,5.2l-5.2,-5.2z"/>
<path d="M903.8,976.2l5.2,5.2l-5.2,5.2l-5.2,-5.2z"/>
<path d="M910.2,980l5.2,5.2l-5.2,5.2l-5.2,-5.2z"/>
<path d="M918.1,981.2l5.2,5.2l-5.2,5.2l-5.2,-5.2z"/>
<path d="M900.5,977l5.2,5.2l-5.2,5.2l-5.2,-5.2z"/>
<path d="M892.2,978.7l5.2,5.2l-5.2,5.2l-5.2,-5.2z"/>
<path d="M888.6,977.5l5.2,5.2l-5.2,5.2l-5.2,-5.2z"/>
<path d="M911.3,978.2l5.2,5.2l-5.2,5.2l-5.2,-5.2z"/>
<path d="M914.8,979.9l5.2,5.2l-5.2,5.2l-5.2,-5.2z"/>
<path d="M909.2,978l5.2,5.2l-5.2,5.2l-5.2,-5.2z"/>
<path d="M905.6,978.9l5.2,5.2l-5.2,5.2l-5.2,-5.2z"/>
<path d="M913.7,975.7l5.2,5.2l-5.2,5.2l-5.2,-5.2z"/>
<path d="M902.2,977.6l5.2,5.2l-5.2,5.2l-5.2,-5.2z"/>
<path d="M889.3,977.3l5.2,5.2l-5.2,5.2l-5.2,-5.2z"/>
<path d="M907.7,975.4l5.2,5.2l-5.2,5.2l-5.2,-5.2z"/>
<path d="M913.1,980.1l5.2,5.2l-5.2,5.2l-5.2,-5.2z"/>
<path d="M949,969.2l5.2,5.2l-5.2,5.2l-5.2,-5.2z"/>
<path d="M944,971.3l5.2,5.2l-5.2,5.2l-5.2,-5.2z"/>
<path d="M946,974.9l5.2,5.2l-5.2,5.2l-5.2,-5.2z"/>
<path d="M944.5,968.2l5.2,5.2l-5.2,5.2l-5.2,-5.2z"/>
<path d="M945.5,973.5l5.2,5.2l-5.2,5.2l-5.2,-5.2z"/>
<path d="M949,967.1l5.2,5.2l-5.2,5.2l-5.2,-5.2z"/>
<path d="M944.8,971.4l5.2,5.2l-5.2,5.2l-5.2,-5.2z"/>
<path d="M951.2,967l5.2,5.2l-5.2,5.2l-5.2,-5.2z"/>
<path d="M954.8,967.2l5.2,5.2l-5.2,5.2l-5.2,-5.2z"/>
<path d="M947.5,971.8l5.2,5.2l-5.2,5.2l-5.2,-5.2z"/>
<path d="M948.6,967l5.2,5.2l-5.2,5.2l-5.2,-5.2z"/>
<path d="M956.7,974.5l5.2,5.2l-5.2,5.2l-5.2,-5.2z"/>
<path d="M946.1,973.7l5.2,5.2l-5.2,5.2l-5.2,-5.2z"/>
<path d="M946.9,971.1l5.2,5.2l-5.2,5.2l-5.2,-5.2z"/>
<path d="M993.6,947.6l5.2,5.2l-5.2,5.2l-5.2,-5.2z"/>
<path d="M1000.7,941l5.2,5.2l-5.2,5.2l-5.2,-5.2z"/>
<path d="M992.7,927.2l5.2,5.2l-5.2,5.2l-5.2,-5.2z"/>
<path d="M1002.5,948.1l5.2,5.2l-5.2,5.2l-5.2,-5.2z"/>
<path d="M990.6,943.4l5.2,5.2l-5.2,5.2l-5.2,-5.2z"/>
<path d="M995.8,945.9l5.2,5.2l-5.2,5.2l-5.2,-5.2z"/>
<path d="M1002.3,956.8l5.2,5.2l-5.2,5.2l-5.2,-5.2z"/>
<path d="M1001.7,960.4l5.2,5.2l-5.2,5.2l-5.2,-5.2z"/>
<path d="M993.1,931.9l5.2,5.2l-5.2,5.2l-5.2,-5.2z"/>
<path d="M1001.1,928.5l5.2,5.2l-5.2,5.2l-5.2,-5.2z"/>
<path d="M997.8,939.3l5.2,5.2l-5.2,5.2l-5.2,-5.2z"/>
<path d="M997,932.8l5.2,5.2l-5.2,5.2l-5.2,-5.2z"/>
<path d="M995.7,937.2l5.2,5.2l-5.2,5.2l-5.2,-5.2z"/>
<path d="M998.8,941.4l5.2,5.2l-5.2,5.2l-5.2,-5.2z"/>
<path d="M999.6,932.9l5.2,5.2l-5.2,5.2l-5.2,-5.2z"/>
<path d="M1004.8,936.5l5.2,5.2l-5.2,5.2l-5.2,-5.2z"/>
<path d="M994.6,947l5.2,5.2l-5.2,5.2l-5.2,-5.2z"/>
<path d="M996.3,927.6l5.2,5.2l-5.2,5.2l-5.2,-5.2z"/>
<path d="M995,935.6l5.2,5.2l-5.2,5.2l-5.2,-5.2z"/>
<path d="M991.7,937.8l5.2,5.2l-5.2,5.2l-5.2,-5.2z"/>
<path d="M998.1,937.8l5.2,5.2l-5.2,5.2l-5.2,-5.2z"/>
<path d="M994.6,931.6l5.2,5.2l-5.2,5.2l-5.2,-5.2z"/>
<path d="M997.6,949.2l5.2,5.2l-5.2,5.2l-5.2,-5.2z"/>
<path d="M994.1,942.9l5.2,5.2l-5.2,5.2l-5.2,-5.2z"/>
<path d="M995.5,942.3l5.2,5.2l-5.2,5.2l-5.2,-5.2z"/>
<path d="M1000.6,958.9l5.2,5.2l-5.2,5.2l-5.2,-5.2z"/>
<path d="M996.1,927.1l5.2,5.2l-5.2,5.2l-5.2,-5.2z"/>
<path d="M1000,919.1l5.2,5.2l-5.2,5.2l-5.2,-5.2z"/>
<path d="M989.3,946.7l5.2,5.2l-5.2,5.2l-5.2,-5.2z"/>
<path d="M995,932.1l5.2,5.2l-5.2,5.2l-5.2,-5.2z"/>
<path d="M1000.9,963.1l5.2,5.2l-5.2,5.2l-5.2,-5.2z"/>
<path d="M997.1,923.5l5.2,5.2l-5.2,5.2l-5.2,-5.2z"/>
<path d="M995.8,938.5l5.2,5.2l-5.2,5.2l-5.2,-5.2z"/>
<path d="M999.7,939.3l5.2,5.2l-5.2,5.2l-5.2,-5.2z"/>
<path d="M993.8,898.3l5.2,5.2l-5.2,5.2l-5.2,-5.2z"/>
<path d="M992.8,908.1l5.2,5.2l-5.2,5.2l-5.2,-5.2z"/>
<path d="M995.9,916.6l5.2,5.2l-5.2,5.2l-5.2,-5.2z"/>
<path d="M1004.2,965.3l5.2,5.2l-5.2,5.2l-5.2,-5.2z"/>
<path d="M1001.1,961.1l5.2,5.2l-5.2,5.2l-5.2,-5.2z"/>
<path d="M987.5,924.1l5.2,5.2l-5.2,5.2l-5.2,-5.2z"/>
<path d="M1005.3,952.2l5.2,5.2l-5.2,5.2l-5.2,-5.2z"/>
<path d="M1052.6,880.4l5.2,5.2l-5.2,5.2l-5.2,-5.2z"/>
<path d="M1060.4,911.2l5.2,5.2l-5.2,5.2l-5.2,-5.2z"/>
<path d="M1059.4,910.8l5.2,5.2l-5.2,5.2l-5.2,-5.2z"/>
<path d="M1054.1,894.4l5.2,5.2l-5.2,5.2l-5.2,-5.2z"/>
<path d="M1054.8,895.5l5.2,5.2l-5.2,5.2l-5.2,-5.2z"/>
<path d="M1042.9,931.7l5.2,5.2l-5.2,5.2l-5.2,-5.2z"/>
<path d="M1057.4,922.5l5.2,5.2l-5.2,5.2l-5.2,-5.2z"/>
<path d="M1046.3,931.1l5.2,5.2l-5.2,5.2l-5.2,-5.2z"/>
<path d="M1061.8,893.7l5.2,5.2l-5.2,5.2l-5.2,-5.2z"/>
<path d="M1063.2,922.1l5.2,5.2l-5.2,5.2l-5.2,-5.2z"/>
<path d="M1053.3,925.5l5.2,5.2l-5.2,5.2l-5.2,-5.2z"/>
<path d="M1058.4,879.5l5.2,5.2l-5.2,5.2l-5.2,-5.2z"/>
<path d="M1047.2,880l5.2,5.2l-5.2,5.2l-5.2,-5.2z"/>
<path d="M1059.9,909.3l5.2,5.2l-5.2,5.2l-5.2,-5.2z"/>
<path d="M1039.9,882.5l5.2,5.2l-5.2,5.2l-5.2,-5.2z"/>
<path d="M1052.6,916.4l5.2,5.2l-5.2,5.2l-5.2,-5.2z"/>
<path d="M1056,899.4l5.2,5.2l-5.2,5.2l-5.2,-5.2z"/>
<path d="M1063.4,923.5l5.2,5.2l-5.2,5.2l-5.2,-5.2z"/>
<path d="M1060.9,881.2l5.2,5.2l-5.2,5.2l-5.2,-5.2z"/>
<path d="M1063.1,909.3l5.2,5.2l-5.2,5.2l-5.2,-5.2z"/>
<path d="M1048.2,889.1l5.2,5.2l-5.2,5.2l-5.2,-5.2z"/>
<path d="M1054,904.2l5.2,5.2l-5.2,5.2l-5.2,-5.2z"/>
<path d="M1062.9,910.7l5.2,5.2l-5.2,5.2l-5.2,-5.2z"/>
<path d="M1040.7,892.5l5.2,5.2l-5.2,5.2l-5.2,-5.2z"/>
<path d="M1055.4,916.6l5.2,5.2l-5.2,5.2l-5.2,-5.2z"/>
<path d="M1053.2,892.2l5.2,5.2l-5.2,5.2l-5.2,-5.2z"/>
<path d="M1053.8,883.9l5.2,5.2l-5.2,5.2l-5.2,-5.2z"/>
<path d="M1052.8,888.7l5.2,5.2l-5.2,5.2l-5.2,-5.2z"/>
<path d="M1063.4,879.1l5.2,5.2l-5.2,5.2l-5.2,-5.2z"/>
<path d="M1048.7,891.4l5.2,5.2l-5.2,5.2l-5.2,-5.2z"/>
<path d="M1039.7,871.6l5.2,5.2l-5.2,5.2l-5.2,-5.2z"/>
<path d="M1055.3,869.7l5.2,5.2l-5.2,5.2l-5.2,-5.2z"/>
<path d="M1040.7,884.7l5.2,5.2l-5.2,5.2l-5.2,-5.2z"/>
<path d="M1050.1,935.3l5.2,5.2l-5.2,5.2l-5.2,-5.2z"/>
<path d="M1055.3,936.7l5.2,5.2l-5.2,5.2l-5.2,-5.2z"/>
<path d="M1067.3,909.1l5.2,5.2l-5.2,5.2l-5.2,-5.2z"/>
<path d="M1064.7,925l5.2,5.2l-5.2,5.2l-5.2,-5.2z"/>
<path d="M1050.1,879.1l5.2,5.2l-5.2,5.2l-5.2,-5.2z"/>
<path d="M1095.5,888.2l5.2,5.2l-5.2,5.2l-5.2,-5.2z"/>
<path d="M1095.1,835.7l5.2,5.2l-5.2,5.2l-5.2,-5.2z"/>
<path d="M1098.6,862.1l5.2,5.2l-5.2,5.2l-5.2,-5.2z"/>
<path d="M1103.4,862.5l5.2,5.2l-5.2,5.2l-5.2,-5.2z"/>
<path d="M1101.6,856.1l5.2,5.2l-5.2,5.2l-5.2,-5.2z"/>
<path d="M1106.8,837.4l5.2,5.2l-5.2,5.2l-5.2,-5.2z"/>
<path d="M1103.4,892.5l5.2,5.2l-5.2,5.2l-5.2,-5.2z"/>
<path d="M1101.7,835.6l5.2,5.2l-5.2,5.2l-5.2,-5.2z"/>
<path d="M1096.6,876.3l5.2,5.2l-5.2,5.2l-5.2,-5.2z"/>
<path d="M1109.1,842.4l5.2,5.2l-5.2,5.2l-5.2,-5.2z"/>
<path d="M1104.4,842.1l5.2,5.2l-5.2,5.2l-5.2,-5.2z"/>
<path d="M1105.1,890.5l5.2,5.2l-5.2,5.2l-5.2,-5.2z"/>
<path d="M1097,877.3l5.2,5.2l-5.2,5.2l-5.2,-5.2z"/>
<path d="M1108.7,875.5l5.2,5.2l-5.2,5.2l-5.2,-5.2z"/>
<path d="M1100.1,880.5l5.2,5.2l-5.2,5.2l-5.2,-5.2z"/>
<path d="M1097.2,864.6l5.2,5.2l-5.2,5.2l-5.2,-5.2z"/>
<path d="M1098.8,852.9l5.2,5.2l-5.2,5.2l-5.2,-5.2z"/>
<path d="M1093.3,853.8l5.2,5.2l-5.2,5.2l-5.2,-5.2z"/>
<path d="M1101.3,909.1l5.2,5.2l-5.2,5.2l-5.2,-5.2z"/>
<path d="M1107.8,868.5l5.2,5.2l-5.2,5.2l-5.2,-5.2z"/>
<path d="M1093.9,883.1l5.2,5.2l-5.2,5.2l-5.2,-5.2z"/>
<path d="M1105.7,872.9l5.2,5.2l-5.2,5.2l-5.2,-5.2z"/>
<path d="M1108,843.6l5.2,5.2l-5.2,5.2l-5.2,-5.2z"/>
<path d="M1107.5,853.8l5.2,5.2l-5.2,5.2l-5.2,-5.2z"/>
<path d="M1110.6,845.7l5.2,5.2l-5.2,5.2l-5.2,-5.2z"/>
<path d="M1106.5,912.5l5.2,5.2l-5.2,5.2l-5.2,-5.2z"/>
<path d="M1108.6,829.9l5.2,5.2l-5.2,5.2l-5.2,-5.2z"/>
<path d="M1103,873.2l5.2,5.2l-5.2,5.2l-5.2,-5.2z"/>
<path d="M1100,845l5.2,5.2l-5.2,5.2l-5.2,-5.2z"/>
<path d="M1107,839.8l5.2,5.2l-5.2,5.2l-5.2,-5.2z"/>
<path d="M1100.1,863.9l5.2,5.2l-5.2,5.2l-5.2,-5.2z"/>
<path d="M1105.7,841.7l5.2,5.2l-5.2,5.2l-5.2,-5.2z"/>
<path d="M1104.2,866.5l5.2,5.2l-5.2,5.2l-5.2,-5.2z"/>
<path d="M1099.6,870.5l5.2,5.2l-5.2,5.2l-5.2,-5.2z"/>
<path d="M1108.5,859.3l5.2,5.2l-5.2,5.2l-5.2,-5.2z"/>
<path d="M1100.3,882.3l5.2,5.2l-5.2,5.2l-5.2,-5.2z"/>
<path d="M1109,791l5.2,5.2l-5.2,5.2l-5.2,-5.2z"/>
<path d="M1109,813.5l5.2,5.2l-5.2,5.2l-5.2,-5.2z"/>
<path d="M1095.5,934.4l5.2,5.2l-5.2,5.2l-5.2,-5.2z"/>
<path d="M1095,902.5l5.2,5.2l-5.2,5.2l-5.2,-5.2z"/>
<path d="M1099.1,911l5.2,5.2l-5.2,5.2l-5.2,-5.2z"/>
<path d="M1102.3,904.9l5.2,5.2l-5.2,5.2l-5.2,-5.2z"/>
<path d="M1099.1,871.6l5.2,5.2l-5.2,5.2l-5.2,-5.2z"/>
<path d="M1108.5,894.6l5.2,5.2l-5.2,5.2l-5.2,-5.2z"/>
<path d="M1109.6,827.6l5.2,5.2l-5.2,5.2l-5.2,-5.2z"/>
<path d="M1162.4,795.6l5.2,5.2l-5.2,5.2l-5.2,-5.2z"/>
<path d="M1170.7,797.2l5.2,5.2l-5.2,5.2l-5.2,-5.2z"/>
<path d="M1157,794.3l5.2,5.2l-5.2,5.2l-5.2,-5.2z"/>
<path d="M1142.3,778.8l5.2,5.2l-5.2,5.2l-5.2,-5.2z"/>
<path d="M1160.1,831.6l5.2,5.2l-5.2,5.2l-5.2,-5.2z"/>
<path d="M1167.9,755.1l5.2,5.2l-5.2,5.2l-5.2,-5.2z"/>
<path d="M1146.6,830.5l5.2,5.2l-5.2,5.2l-5.2,-5.2z"/>
<path d="M1159.8,804.6l5.2,5.2l-5.2,5.2l-5.2,-5.2z"/>
<path d="M1154.4,839.9l5.2,5.2l-5.2,5.2l-5.2,-5.2z"/>
<path d="M1148.2,851.2l5.2,5.2l-5.2,5.2l-5.2,-5.2z"/>
<path d="M1170.9,780.1l5.2,5.2l-5.2,5.2l-5.2,-5.2z"/>
<path d="M1150.7,802.3l5.2,5.2l-5.2,5.2l-5.2,-5.2z"/>
<path d="M1140.6,833l5.2,5.2l-5.2,5.2l-5.2,-5.2z"/>
<path d="M1157.1,794.3l5.2,5.2l-5.2,5.2l-5.2,-5.2z"/>
<path d="M1151.9,814l5.2,5.2l-5.2,5.2l-5.2,-5.2z"/>
<path d="M1161.1,798.8l5.2,5.2l-5.2,5.2l-5.2,-5.2z"/>
<path d="M1162.5,803.9l5.2,5.2l-5.2,5.2l-5.2,-5.2z"/>
<path d="M1155,786.2l5.2,5.2l-5.2,5.2l-5.2,-5.2z"/>
<path d="M1157.9,835.4l5.2,5.2l-5.2,5.2l-5.2,-5.2z"/>
<path d="M1152.6,810.2l5.2,5.2l-5.2,5.2l-5.2,-5.2z"/>
<path d="M1156.7,805.4l5.2,5.2l-5.2,5.2l-5.2,-5.2z"/>
<path d="M1157.5,804.9l5.2,5.2l-5.2,5.2l-5.2,-5.2z"/>
<path d="M1156.5,848.5l5.2,5.2l-5.2,5.2l-5.2,-5.2z"/>
<path d="M1160.8,778.1l5.2,5.2l-5.2,5.2l-5.2,-5.2z"/>
<path d="M1160.9,816l5.2,5.2l-5.2,5.2l-5.2,-5.2z"/>
<path d="M1161,839.6l5.2,5.2l-5.2,5.2l-5.2,-5.2z"/>
<path d="M1142.7,808.4l5.2,5.2l-5.2,5.2l-5.2,-5.2z"/>
<path d="M1150.3,787.7l5.2,5.2l-5.2,5.2l-5.2,-5.2z"/>
<path d="M1149.4,762.2l5.2,5.2l-5.2,5.2l-5.2,-5.2z"/>
<path d="M1154.6,851.9l5.2,5.2l-5.2,5.2l-5.2,-5.2z"/>
<path d="M1151.6,794.4l5.2,5.2l-5.2,5.2l-5.2,-5.2z"/>
<path d="M1161.4,804.8l5.2,5.2l-5.2,5.2l-5.2,-5.2z"/>
<path d="M1169.2,788.7l5.2,5.2l-5.2,5.2l-5.2,-5.2z"/>
<path d="M1157.4,792.1l5.2,5.2l-5.2,5.2l-5.2,-5.2z"/>
<path d="M1170.5,780.6l5.2,5.2l-5.2,5.2l-5.2,-5.2z"/>
<path d="M1165.6,843.2l5.2,5.2l-5.2,5.2l-5.2,-5.2z"/>
<path d="M1156.4,788l5.2,5.2l-5.2,5.2l-5.2,-5.2z"/>
<path d="M1155.2,777.7l5.2,5.2l-5.2,5.2l-5.2,-5.2z"/>
<path d="M1162.2,782.6l5.2,5.2l-5.2,5.2l-5.2,-5.2z"/>
<path d="M1167.2,816.8l5.2,5.2l-5.2,5.2l-5.2,-5.2z"/>
<path d="M1154.9,783.6l5.2,5.2l-5.2,5.2l-5.2,-5.2z"/>
<path d="M1165.2,810l5.2,5.2l-5.2,5.2l-5.2,-5.2z"/>
<path d="M1148.4,804.5l5.2,5.2l-5.2,5.2l-5.2,-5.2z"/>
<path d="M1160.4,775.8l5.2,5.2l-5.2,5.2l-5.2,-5.2z"/>
<path d="M1163.7,809.5l5.2,5.2l-5.2,5.2l-5.2,-5.2z"/>
<path d="M1164.2,793.8l5.2,5.2l-5.2,5.2l-5.2,-5.2z"/>
<path d="M1159.2,808.5l5.2,5.2l-5.2,5.2l-5.2,-5.2z"/>
<path d="M1155.6,789.3l5.2,5.2l-5.2,5.2l-5.2,-5.2z"/>
<path d="M1160.2,710.9l5.2,5.2l-5.2,5.2l-5.2,-5.2z"/>
<path d="M1152.3,883.8l5.2,5.2l-5.2,5.2l-5.2,-5.2z"/>
<path d="M1154.4,867.9l5.2,5.2l-5.2,5.2l-5.2,-5.2z"/>
<path d="M1161.7,866l5.2,5.2l-5.2,5.2l-5.2,-5.2z"/>
<path d="M1140.3,790.1l5.2,5.2l-5.2,5.2l-5.2,-5.2z"/>
<path d="M1140.9,797.6l5.2,5.2l-5.2,5.2l-5.2,-5.2z"/>
<path d="M1140.3,819.1l5.2,5.2l-5.2,5.2l-5.2,-5.2z"/>
<path d="M1153.4,753.1l5.2,5.2l-5.2,5.2l-5.2,-5.2z"/>
<path d="M1161.2,748.9l5.2,5.2l-5.2,5.2l-5.2,-5.2z"/>
<path d="M1150.2,762l5.2,5.2l-5.2,5.2l-5.2,-5.2z"/>
<path d="M1177.5,816.2l5.2,5.2l-5.2,5.2l-5.2,-5.2z"/>
<path d="M1185.7,839.7l5.2,5.2l-5.2,5.2l-5.2,-5.2z"/>
<path d="M1180.4,782.5l5.2,5.2l-5.2,5.2l-5.2,-5.2z"/>
<path d="M1190.1,800l5.2,5.2l-5.2,5.2l-5.2,-5.2z"/>
<path d="M1183.9,838.3l5.2,5.2l-5.2,5.2l-5.2,-5.2z"/>
<path d="M1200,784l5.2,5.2l-5.2,5.2l-5.2,-5.2z"/>
<path d="M1194.3,823.3l5.2,5.2l-5.2,5.2l-5.2,-5.2z"/>
<path d="M1191.8,772.2l5.2,5.2l-5.2,5.2l-5.2,-5.2z"/>
<path d="M1180.8,837.9l5.2,5.2l-5.2,5.2l-5.2,-5.2z"/>
<path d="M1186,791.5l5.2,5.2l-5.2,5.2l-5.2,-5.2z"/>
<path d="M1190.7,778.8l5.2,5.2l-5.2,5.2l-5.2,-5.2z"/>
<path d="M1197.5,765.8l5.2,5.2l-5.2,5.2l-5.2,-5.2z"/>
<path d="M1175.4,812.7l5.2,5.2l-5.2,5.2l-5.2,-5.2z"/>
<path d="M1177.4,828.8l5.2,5.2l-5.2,5.2l-5.2,-5.2z"/>
<path d="M1185.1,798.4l5.2,5.2l-5.2,5.2l-5.2,-5.2z"/>
<path d="M1189.5,843.1l5.2,5.2l-5.2,5.2l-5.2,-5.2z"/>
<path d="M1176,799.2l5.2,5.2l-5.2,5.2l-5.2,-5.2z"/>
<path d="M1184.1,807.3l5.2,5.2l-5.2,5.2l-5.2,-5.2z"/>
<path d="M1185.2,819.9l5.2,5.2l-5.2,5.2l-5.2,-5.2z"/>
<path d="M1191.2,788.6l5.2,5.2l-5.2,5.2l-5.2,-5.2z"/>
<path d="M1180.5,656.6l5.2,5.2l-5.2,5.2l-5.2,-5.2z"/>
<path d="M1180.5,666.4l5.2,5.2l-5.2,5.2l-5.2,-5.2z"/>
<path d="M1192.5,734.3l5.2,5.2l-5.2,5.2l-5.2,-5.2z"/>
<path d="M1174.2,739.5l5.2,5.2l-5.2,5.2l-5.2,-5.2z"/>
<path d="M1173.7,749.3l5.2,5.2l-5.2,5.2l-5.2,-5.2z"/>
<path d="M1180.5,755.4l5.2,5.2l-5.2,5.2l-5.2,-5.2z"/>
<path d="M1200.3,768.1l5.2,5.2l-5.2,5.2l-5.2,-5.2z"/>
<path d="M1199.3,830.4l5.2,5.2l-5.2,5.2l-5.2,-5.2z"/>
<path d="M1199.8,854.7l5.2,5.2l-5.2,5.2l-5.2,-5.2z"/>
<path d="M1188.3,842.1l5.2,5.2l-5.2,5.2l-5.2,-5.2z"/>
<path d="M1173.2,829l5.2,5.2l-5.2,5.2l-5.2,-5.2z"/>
</g>
<g stroke="#e8282b" stroke-width="2.8" fill="#e8282b" stroke-linecap="round">
<path d="M781.1,990.2H797.7M781.1,985.7v9M797.7,985.7v9" fill="none" stroke-width="4.4"/>
<rect x="786.4" y="987.2" width="6" height="6" rx="1.5" stroke-width="1.5"/>
<path d="M846.6,985.7H862.6M846.6,981.2v9M862.6,981.2v9" fill="none" stroke-width="4.4"/>
<rect x="851.6" y="982.7" width="6" height="6" rx="1.5" stroke-width="1.5"/>
<path d="M897.2,984.6H917.2M897.2,980.1v9M917.2,980.1v9" fill="none" stroke-width="4.4"/>
<rect x="904.2" y="981.6" width="6" height="6" rx="1.5" stroke-width="1.5"/>
<path d="M948.9,970.6V982.6M944.4,970.6h9M944.4,982.6h9" fill="none" stroke-width="3.5"/>
<rect x="942.9" y="969.6" width="12" height="14" rx="1.5" stroke-width="1.5"/>
<path d="M996.9,927.3V952.7M992.4,927.3h9M992.4,952.7h9" fill="none" stroke-width="3.5"/>
<rect x="991.9" y="934" width="10" height="12" rx="1.5" stroke-width="1.5"/>
<path d="M1045.8,910.1H1061.8M1045.8,905.6v9M1061.8,905.6v9M1053.8,897.1V923.1M1049.3,897.1h9M1049.3,923.1h9" fill="none" stroke-width="3.5"/>
<rect x="1050.8" y="907.1" width="6" height="6" rx="1.5" stroke-width="1.5"/>
<path d="M1104.9,841.7V885.7M1100.4,841.7h9M1100.4,885.7h9" fill="none" stroke-width="3.5"/>
<rect x="1099.9" y="858.2" width="10" height="11" rx="1.5" stroke-width="1.5"/>
<path d="M1148.9,816.8H1164.1M1148.9,812.3v9M1164.1,812.3v9M1156.5,792.1V841.5M1152,792.1h9M1152,841.5h9" fill="none" stroke-width="3.5"/>
<rect x="1154" y="814.3" width="5" height="5" rx="1.5" stroke-width="1.5"/>
<path d="M1172.3,802.8H1193.9M1172.3,798.3v9M1193.9,798.3v9M1183.1,770.8V834.8M1178.6,770.8h9M1178.6,834.8h9" fill="none" stroke-width="3.5"/>
<rect x="1180.6" y="800.3" width="5" height="5" rx="1.5" stroke-width="1.5"/>
</g>
<rect x="732" y="621" width="495.5" height="398.5" fill="none" stroke="#000" stroke-width="3"/>
<path d="M732,1019.5v8M758.1,1019.5v4.5M784.1,1019.5v8M810.2,1019.5v4.5M836.3,1019.5v8M862.4,1019.5v4.5M888.5,1019.5v8M914.5,1019.5v4.5M940.6,1019.5v8M966.7,1019.5v4.5M992.8,1019.5v8M1018.8,1019.5v4.5M1044.9,1019.5v8M1071,1019.5v4.5M1097,1019.5v8M1123.1,1019.5v4.5M1149.2,1019.5v8M1175.3,1019.5v4.5M1201.3,1019.5v8M732,995.8h-9M732,972.4h-4.5M732,948.9h-9M732,925.5h-4.5M732,902.1h-9M732,878.7h-4.5M732,855.2h-9M732,831.8h-4.5M732,808.4h-9M732,785h-4.5M732,761.5h-9M732,738.1h-4.5M732,714.7h-9M732,691.3h-4.5M732,667.8h-9M732,644.4h-4.5M732,621h-9" stroke="#000" stroke-width="2.6" fill="none"/>
<text x="732" y="1049.2" font-size="22" font-weight="normal" font-style="normal" text-anchor="middle" >0</text>
<text x="784.1" y="1049.2" font-size="22" font-weight="normal" font-style="normal" text-anchor="middle" >10</text>
<text x="836.3" y="1049.2" font-size="22" font-weight="normal" font-style="normal" text-anchor="middle" >20</text>
<text x="888.5" y="1049.2" font-size="22" font-weight="normal" font-style="normal" text-anchor="middle" >30</text>
<text x="940.6" y="1049.2" font-size="22" font-weight="normal" font-style="normal" text-anchor="middle" >40</text>
<text x="992.8" y="1049.2" font-size="22" font-weight="normal" font-style="normal" text-anchor="middle" >50</text>
<text x="1044.9" y="1049.2" font-size="22" font-weight="normal" font-style="normal" text-anchor="middle" >60</text>
<text x="1097" y="1049.2" font-size="22" font-weight="normal" font-style="normal" text-anchor="middle" >70</text>
<text x="1149.2" y="1049.2" font-size="22" font-weight="normal" font-style="normal" text-anchor="middle" >80</text>
<text x="1201.3" y="1049.2" font-size="22" font-weight="normal" font-style="normal" text-anchor="middle" >90</text>
<text x="717.5" y="1003.5" font-size="22" font-weight="normal" font-style="normal" text-anchor="end" >0</text>
<text x="717.5" y="956.6" font-size="22" font-weight="normal" font-style="normal" text-anchor="end" >10</text>
<text x="717.5" y="909.8" font-size="22" font-weight="normal" font-style="normal" text-anchor="end" >20</text>
<text x="717.5" y="863" font-size="22" font-weight="normal" font-style="normal" text-anchor="end" >30</text>
<text x="717.5" y="816.1" font-size="22" font-weight="normal" font-style="normal" text-anchor="end" >40</text>
<text x="717.5" y="769.2" font-size="22" font-weight="normal" font-style="normal" text-anchor="end" >50</text>
<text x="717.5" y="722.4" font-size="22" font-weight="normal" font-style="normal" text-anchor="end" >60</text>
<text x="717.5" y="675.5" font-size="22" font-weight="normal" font-style="normal" text-anchor="end" >70</text>
<text x="717.5" y="628.7" font-size="22" font-weight="normal" font-style="normal" text-anchor="end" >80</text>
<text x="980" y="1094" font-size="33.7" font-weight="normal" font-style="normal" text-anchor="middle" >Relative humidity (RH %)</text>
<text transform="translate(678.5,818) rotate(-90)" font-size="33.7" text-anchor="middle">Peak to valley ratio (<tspan font-style="italic">R</tspan><tspan font-size="22" dy="7">PtV</tspan><tspan dy="-7">)</tspan></text>
<!-- panel_e -->
<path d="M1435.4,56.3V1021" stroke="#000" stroke-width="2.9" stroke-dasharray="10.5,9.8" fill="none"/>
<g fill="none" stroke="#000" stroke-width="3.1" stroke-linejoin="round" stroke-linecap="round">
<path d="M1368.3,64C1372.9,64.3 1385.4,64.6 1395.7,65.6C1406,66.6 1418.6,67.9 1430,69.7C1441.4,71.5 1452.9,73.3 1464.3,76.6C1475.7,79.8 1487.1,83.8 1498.6,89.1C1510,94.5 1523.3,101.5 1532.9,108.6C1542.4,115.6 1549.2,123.4 1555.7,131.4C1562.2,139.4 1567.5,149.3 1571.7,156.6C1575.9,163.8 1578.6,169.9 1580.9,174.9C1583.1,179.8 1584.7,184.4 1585.4,186.3"/>
<path d="M1368.3,64C1372.9,66.3 1385.4,73.5 1395.7,77.7C1406,81.9 1418.6,85.4 1430,89.1C1441.4,92.8 1452.9,96.5 1464.3,99.9C1475.7,103.3 1487.1,106 1498.6,109.7C1510,113.4 1523.3,117.7 1532.9,122.3C1542.4,126.9 1549.2,131.4 1555.7,137.1C1562.2,142.9 1567.3,150.3 1571.7,156.6C1576.1,162.9 1579.6,169.9 1582,174.9C1584.4,179.8 1585.2,184.4 1585.9,186.3"/>
<path d="M1586.1,186.3C1586.6,184.8 1587.8,180.2 1588.9,177.1C1589.9,174.1 1590.6,172.2 1592.3,168C1594,163.8 1595.7,158.1 1599.1,152C1602.6,145.9 1607.9,137.9 1612.9,131.4C1617.8,125 1623.1,118.9 1628.9,113.1C1634.6,107.4 1640.3,101.9 1647.1,97.1C1654,92.4 1662,88.1 1670,84.6C1678,81 1691,77.3 1695.1,75.9"/>
<path d="M1586.8,186.3C1588.1,184.4 1592.5,179.4 1594.6,174.9C1596.6,170.3 1596.1,165.7 1599.1,158.9C1602.2,152 1607.9,141 1612.9,133.7C1617.8,126.5 1623.1,121.1 1628.9,115.4C1634.6,109.8 1640.3,104.6 1647.1,99.9C1654,95.1 1662,90.7 1670,86.9C1678,83 1691,78.7 1695.1,77"/>
<path d="M1368.3,145.6C1372.9,145.4 1387.3,145.1 1395.7,144.7C1404.1,144.2 1411,143.3 1418.6,142.9C1426.2,142.4 1433.8,141.8 1441.4,142.2C1449,142.6 1456.7,143.5 1464.3,145.1C1471.9,146.8 1479.5,149 1487.1,152C1494.8,155 1502.4,159 1510,163.4C1517.6,167.8 1526,173 1532.9,178.3C1539.7,183.6 1545.8,189.9 1551.1,195.4C1556.5,201 1560.7,205.7 1564.9,211.4C1569,217.1 1573.2,224 1576.3,229.7C1579.3,235.4 1581.5,239.6 1583.1,245.7C1584.8,251.8 1585.6,262.9 1586.1,266.3"/>
<path d="M1368.3,145.6C1372.9,147.8 1385.4,154.7 1395.7,158.9C1406,163 1418.6,167 1430,170.3C1441.4,173.5 1452.9,175.4 1464.3,178.3C1475.7,181.1 1489,184.6 1498.6,187.4C1508.1,190.3 1513.8,192 1521.4,195.4C1529,198.9 1537.8,203.8 1544.3,208C1550.8,212.2 1555.3,215.8 1560.3,220.6C1565.2,225.3 1570.4,231.6 1574,236.6C1577.6,241.5 1580,245.3 1582,250.3C1584,255.2 1585.4,263.6 1586.1,266.3"/>
<path d="M1586.8,266.3C1587.1,262.1 1587.9,249.1 1588.9,241.1C1589.8,233.1 1590.2,224.4 1592.3,218.3C1594.4,212.2 1597.6,209.1 1601.4,204.6C1605.2,200 1609.8,195.4 1615.1,190.9C1620.5,186.3 1627,181.3 1633.4,177.1C1639.9,173 1647.1,169.1 1654,165.7C1660.9,162.3 1667.7,159.3 1674.6,156.6C1681.4,153.8 1691.7,150.5 1695.1,149.3"/>
<path d="M1587.7,245.7C1588.9,241.5 1591.9,227 1594.6,220.6C1597.2,214.1 1599.9,211.4 1603.7,206.9C1607.5,202.3 1612.1,197.5 1617.4,193.1C1622.8,188.8 1628.9,184.8 1635.7,180.6C1642.6,176.4 1651.7,171.8 1658.6,168C1665.4,164.2 1670.8,160.8 1676.9,157.7C1683,154.7 1692.1,151 1695.1,149.7"/>
<path d="M1368.3,228.6C1372.9,227.8 1385.4,225.5 1395.7,224C1406,222.5 1418.6,220.4 1430,219.4C1441.4,218.5 1454.8,217.3 1464.3,218.3C1473.8,219.2 1479.5,222.1 1487.1,225.1C1494.8,228.2 1502.4,232 1510,236.6C1517.6,241.1 1526,247.2 1532.9,252.6C1539.7,257.9 1545.8,263.2 1551.1,268.6C1556.5,273.9 1560.9,279.2 1564.9,284.6C1568.9,289.9 1572.3,295.2 1575.1,300.6C1578,305.9 1580.3,311.6 1582,316.6C1583.7,321.5 1584.7,325.9 1585.4,330.3C1586.2,334.7 1586.4,340.8 1586.6,342.9"/>
<path d="M1368.3,228.6C1372.9,230.7 1385.4,237.3 1395.7,241.1C1406,245 1418.6,248.8 1430,251.4C1441.4,254.1 1452.9,255 1464.3,257.1C1475.7,259.2 1487.9,261 1498.6,264C1509.2,267 1519.5,271.2 1528.3,275.4C1537,279.6 1544.7,284.6 1551.1,289.1C1557.6,293.7 1562.6,297.9 1567.1,302.9C1571.7,307.8 1575.7,313.9 1578.6,318.9C1581.4,323.8 1583,328.6 1584.3,332.6C1585.6,336.6 1586.2,341.1 1586.6,342.9"/>
<path d="M1587,342.9C1587.3,340.4 1587.7,332.8 1588.4,328C1589.1,323.2 1589.7,318.9 1591.1,314.3C1592.6,309.7 1594,305.3 1596.9,300.6C1599.7,295.8 1603.7,290.9 1608.3,285.7C1612.9,280.6 1617.8,275.2 1624.3,269.7C1630.8,264.2 1639.5,257.9 1647.1,252.6C1654.8,247.2 1662,242.5 1670,237.7C1678,233 1691,226.3 1695.1,224"/>
<path d="M1587.7,337.1C1588.5,333.7 1590.4,322.5 1592.3,316.6C1594.2,310.7 1596.1,306.7 1599.1,301.7C1602.2,296.8 1606,291.9 1610.6,286.9C1615.1,281.8 1620.1,276.8 1626.6,271.3C1633,265.8 1641.8,259.4 1649.4,253.9C1657,248.5 1664.7,243.3 1672.3,238.4C1679.9,233.5 1691.3,226.8 1695.1,224.5"/>
<path d="M1370.6,309.3C1374.8,309.7 1387.7,311.5 1395.7,312C1403.7,312.5 1411,312.8 1418.6,312.5C1426.2,312.1 1434.6,310.9 1441.4,309.7C1448.3,308.6 1454,306.7 1459.7,305.6C1465.4,304.5 1470.4,303 1475.7,303.3C1481,303.6 1486,305.2 1491.7,307.4C1497.4,309.6 1503.1,312.4 1510,316.6C1516.9,320.8 1526,327.2 1532.9,332.6C1539.7,337.9 1545.8,343.2 1551.1,348.6C1556.5,353.9 1560.7,358.9 1564.9,364.6C1569,370.3 1573.2,377.1 1576.3,382.9C1579.3,388.6 1581.4,392.8 1583.1,398.9C1584.9,405 1586,416 1586.6,419.4"/>
<path d="M1370.6,309.3C1374.8,310.9 1385.8,315.9 1395.7,318.9C1405.6,321.8 1418.6,324.8 1430,326.9C1441.4,329 1452.9,329.7 1464.3,331.4C1475.7,333.1 1487.9,334.7 1498.6,337.1C1509.2,339.6 1519.5,342.9 1528.3,346.3C1537,349.7 1544.7,353.5 1551.1,357.7C1557.6,361.9 1562.6,366.1 1567.1,371.4C1571.7,376.8 1575.7,384 1578.6,389.7C1581.4,395.4 1583,400.8 1584.3,405.7C1585.6,410.7 1586.2,417.1 1586.6,419.4"/>
<path d="M1587.3,419.4C1587.5,417.5 1588.2,411.4 1588.9,408C1589.5,404.6 1589.8,402.7 1591.1,398.9C1592.5,395 1594,390.1 1596.9,385.1C1599.7,380.2 1603.7,374.5 1608.3,369.1C1612.9,363.8 1617.8,358.7 1624.3,353.1C1630.8,347.6 1639.5,341.3 1647.1,336C1654.8,330.7 1661.8,326.2 1670,321.1C1678.2,316.1 1691.9,308.2 1696.3,305.6"/>
<path d="M1587.7,414.9C1588.3,411.8 1589.7,402.3 1591.4,396.6C1593.1,390.9 1595.2,385.9 1598,380.6C1600.8,375.2 1603.9,369.9 1608.3,364.6C1612.7,359.2 1617.8,353.9 1624.3,348.6C1630.8,343.2 1639.5,337.7 1647.1,332.6C1654.8,327.4 1661.8,322.2 1670,317.7C1678.2,313.2 1691.9,307.6 1696.3,305.6"/>
<path d="M1370.6,381C1374.8,381.7 1387.7,384.3 1395.7,385.1C1403.7,386 1412.9,387 1418.6,386.3C1424.3,385.5 1425.4,382.7 1430,380.6C1434.6,378.5 1440.3,375.3 1446,373.7C1451.7,372.1 1457.4,370.6 1464.3,371C1471.1,371.4 1479.5,373.4 1487.1,376C1494.8,378.6 1502.4,381.9 1510,386.3C1517.6,390.7 1526,396.8 1532.9,402.3C1539.7,407.8 1545.8,413.9 1551.1,419.4C1556.5,425 1561,430.1 1564.9,435.4C1568.7,440.8 1571.3,446.1 1574,451.4C1576.7,456.8 1579,461.3 1580.9,467.4C1582.8,473.5 1584.3,481.1 1585.4,488C1586.6,494.9 1587.3,505.1 1587.7,508.6"/>
<path d="M1370.6,381.7C1374.8,383.4 1385.8,388.6 1395.7,392C1405.6,395.4 1418.6,398.7 1430,402.3C1441.4,405.9 1452.9,409.5 1464.3,413.7C1475.7,417.9 1487.1,422.7 1498.6,427.4C1510,432.2 1524.1,438.3 1532.9,442.3C1541.6,446.3 1546.6,448.4 1551.1,451.4C1555.7,454.5 1557.2,457.1 1560.3,460.6C1563.3,464 1566.4,468.2 1569.4,472C1572.5,475.8 1576.1,478.9 1578.6,483.4C1581,488 1582.8,495.2 1584.3,499.4C1585.7,503.6 1586.8,507 1587.3,508.6"/>
<path d="M1588.2,508.6C1588.4,506.7 1589,501 1589.5,497.1C1590.1,493.3 1590.3,490.7 1591.4,485.7C1592.4,480.8 1593.7,473.5 1595.7,467.4C1597.8,461.3 1600.5,455.2 1603.7,449.1C1607,443 1611,436.6 1615.1,430.9C1619.3,425.1 1623.5,420 1628.9,414.9C1634.2,409.7 1640.3,405.1 1647.1,400C1654,394.9 1661.6,389.4 1670,384C1678.4,378.6 1692.9,370.1 1697.4,367.3"/>
<path d="M1588.6,501.7C1589.2,497.9 1590.7,486.1 1592.3,478.9C1593.8,471.6 1596.1,464 1598,458.3C1599.9,452.6 1601.2,449.5 1603.7,444.6C1606.2,439.6 1608.7,434.1 1612.9,428.6C1617,423 1623.1,416.8 1628.9,411.4C1634.6,406.1 1640.3,401.5 1647.1,396.6C1654,391.6 1661.6,386.6 1670,381.7C1678.4,376.8 1692.9,369.7 1697.4,367.3"/>
<path d="M1370.6,465.6C1372.9,465.4 1380.1,465.9 1384.3,464.7C1388.5,463.5 1391.5,461.1 1395.7,458.3C1399.9,455.5 1404.9,451 1409.4,448C1414,445 1418.6,441.9 1423.1,440C1427.7,438.1 1432.7,436.6 1436.9,436.6C1441,436.6 1444.9,437.9 1448.3,440C1451.7,442.1 1454.8,445.7 1457.4,449.1C1460.1,452.6 1462.4,456.8 1464.3,460.6C1466.2,464.4 1467.1,468.2 1468.9,472C1470.6,475.8 1471.5,480 1474.6,483.4C1477.6,486.9 1481.2,488.4 1487.1,492.6C1493,496.8 1502.4,502.9 1510,508.6C1517.6,514.3 1526,520.8 1532.9,526.9C1539.7,533 1545.8,539.4 1551.1,545.1C1556.5,550.9 1560.9,555.4 1564.9,561.1C1568.9,566.9 1572.1,573 1575.1,579.4C1578.2,585.9 1581,593.1 1583.1,600C1585.2,606.9 1587,617.1 1587.7,620.6"/>
<path d="M1370.6,465.6C1374.8,467.2 1385.8,472.3 1395.7,475.4C1405.6,478.6 1418.6,482.1 1430,484.6C1441.4,487 1454.8,488.6 1464.3,490.3C1473.8,492 1479.5,492.2 1487.1,494.9C1494.8,497.5 1502.4,501.7 1510,506.3C1517.6,510.9 1526,516.6 1532.9,522.3C1539.7,528 1546.2,534.9 1551.1,540.6C1556.1,546.3 1559,550.9 1562.6,556.6C1566.2,562.3 1569.6,568 1572.9,574.9C1576.1,581.7 1579.5,590.1 1582,597.7C1584.5,605.3 1586.8,616.8 1587.7,620.6"/>
<path d="M1588.6,620.6C1589,617.5 1589.8,608.4 1591.1,602.3C1592.5,596.2 1594.4,589.5 1596.9,584C1599.3,578.5 1603.3,573.3 1606,569.1C1608.7,565 1609,563.2 1612.9,558.9C1616.7,554.5 1623.1,548.2 1628.9,542.9C1634.6,537.5 1641,531.8 1647.1,526.9C1653.2,521.9 1659.7,517.1 1665.4,513.1C1671.1,509.1 1676.1,505.8 1681.4,502.9C1686.8,499.9 1694.8,496.6 1697.4,495.3"/>
<path d="M1589.5,613.7C1590.2,610.7 1591.6,601.1 1593.4,595.4C1595.2,589.7 1598.6,582.5 1600.3,579.4C1602,576.4 1602.4,579.4 1603.7,577.1C1605,574.9 1606,570.3 1608.3,565.7C1610.6,561.1 1613.2,555 1617.4,549.7C1621.6,544.4 1627.7,538.7 1633.4,533.7C1639.1,528.8 1645.6,524.2 1651.7,520C1657.8,515.8 1664.7,512 1670,508.6C1675.3,505.1 1679.1,501.5 1683.7,499.4C1688.3,497.3 1695.1,496.6 1697.4,496"/>
<path d="M1371.7,550.9C1374.6,550.5 1384.1,550.3 1388.9,548.6C1393.6,546.9 1396.1,544 1400.3,540.6C1404.5,537.1 1409.8,531.2 1414,528C1418.2,524.8 1421.6,522.9 1425.4,521.1C1429.2,519.4 1432.7,517.7 1436.9,517.7C1441,517.7 1446.8,519.2 1450.6,521.1C1454.4,523 1457,525.5 1459.7,529.1C1462.4,532.8 1464.3,537.9 1466.6,542.9C1468.9,547.8 1470.8,554.3 1473.4,558.9C1476.1,563.4 1478.4,566.5 1482.6,570.3C1486.8,574.1 1492.1,577.1 1498.6,581.7C1505,586.3 1513.8,591.6 1521.4,597.7C1529,603.8 1537.4,611.4 1544.3,618.3C1551.1,625.1 1557.6,632.8 1562.6,638.9C1567.5,645 1571,649.9 1574,654.9C1577,659.8 1579,664 1580.9,668.6C1582.8,673.1 1584.2,678.1 1585.4,682.3C1586.6,686.5 1587.5,691.8 1587.9,693.7"/>
<path d="M1371.7,551.5C1375.7,552.8 1386,556.3 1395.7,558.9C1405.4,561.4 1418.6,564.2 1430,566.9C1441.4,569.5 1454.8,572.6 1464.3,574.9C1473.8,577.1 1479.5,577.9 1487.1,580.6C1494.8,583.2 1502.4,586.1 1510,590.9C1517.6,595.6 1526,603 1532.9,609.1C1539.7,615.2 1545.4,621 1551.1,627.4C1556.9,633.9 1562.6,641.5 1567.1,648C1571.7,654.5 1575.5,660.2 1578.6,666.3C1581.6,672.4 1583.9,680 1585.4,684.6C1587,689.1 1587.5,692.2 1587.9,693.7"/>
<path d="M1588.6,693.7C1588.9,693 1589.2,692.6 1590,689.1C1590.8,685.7 1591.5,678.9 1593.4,673.1C1595.3,667.4 1598.2,660.6 1601.4,654.9C1604.7,649.1 1608.3,643.8 1612.9,638.9C1617.4,633.9 1623.1,629.7 1628.9,625.1C1634.6,620.6 1641,615.6 1647.1,611.4C1653.2,607.2 1659.7,603.4 1665.4,600C1671.1,596.6 1675.9,594.1 1681.4,590.9C1687,587.6 1695.7,582.3 1698.6,580.6"/>
<path d="M1589.3,690.3C1590.4,687 1593.3,676.6 1595.7,670.9C1598.1,665.1 1600.5,661.1 1603.7,656C1607,650.9 1610.6,645.1 1615.1,640C1619.7,634.9 1625.4,630.2 1631.1,625.6C1636.9,621 1643.3,616.3 1649.4,612.1C1655.5,607.9 1662,604.1 1667.7,600.5C1673.4,596.8 1678.6,593.7 1683.7,590.4C1688.9,587.1 1696.1,582.4 1698.6,580.8"/>
<path d="M1371.7,642.3C1373.8,641.9 1380.3,641.7 1384.3,640C1388.3,638.3 1391.5,635.6 1395.7,632C1399.9,628.4 1404.9,622.3 1409.4,618.3C1414,614.3 1418.6,610.6 1423.1,608C1427.7,605.4 1432.3,603.9 1436.9,602.7C1441.4,601.6 1446.4,600.8 1450.6,601.1C1454.8,601.4 1459,602.5 1462,604.6C1465,606.7 1466.6,609.9 1468.9,613.7C1471.1,617.5 1473.4,622.5 1475.7,627.4C1478,632.4 1480.3,638.1 1482.6,643.4C1484.9,648.8 1487.1,654.1 1489.4,659.4C1491.7,664.8 1493.6,670.1 1496.3,675.4C1499,680.8 1501.6,687.2 1505.4,691.4C1509.2,695.6 1514.6,697.5 1519.1,700.6C1523.7,703.6 1528.3,706.3 1532.9,709.7C1537.4,713.1 1542.4,716.6 1546.6,721.1C1550.8,725.7 1554.2,731 1558,737.1C1561.8,743.2 1566,751.2 1569.4,757.7C1572.9,764.2 1575.9,769.9 1578.6,776C1581.2,782.1 1583.9,789.7 1585.4,794.3C1587,798.9 1587.3,801.9 1587.7,803.4"/>
<path d="M1371.7,642.7C1375.7,644.4 1386,648.8 1395.7,652.6C1405.4,656.3 1418.6,661.3 1430,665.1C1441.4,669 1452.9,672 1464.3,675.4C1475.7,678.9 1489,682.7 1498.6,685.7C1508.1,688.8 1514.6,690.5 1521.4,693.7C1528.3,697 1534.8,701.3 1539.7,705.1C1544.7,709 1548.1,712.8 1551.1,716.6C1554.2,720.4 1555.3,723 1558,728C1560.7,733 1564.1,739.8 1567.1,746.3C1570.2,752.8 1573.6,760.4 1576.3,766.9C1579,773.3 1581.2,779 1583.1,785.1C1585,791.2 1587,800.4 1587.7,803.4"/>
<path d="M1588.9,803.4C1589.2,801.5 1590.2,795.4 1591.1,792C1592.1,788.6 1592.9,786.3 1594.6,782.9C1596.3,779.4 1598.4,776.4 1601.4,771.4C1604.5,766.5 1608.3,759.2 1612.9,753.1C1617.4,747 1623.1,740.6 1628.9,734.9C1634.6,729.1 1640.3,724.2 1647.1,718.9C1654,713.5 1661.4,708 1670,702.9C1678.6,697.7 1693.8,690.5 1698.6,688"/>
<path d="M1589.5,797.7C1590.6,794.9 1593.4,785.3 1595.7,780.6C1598.1,775.8 1600.5,773.9 1603.7,769.1C1607,764.4 1610.6,757.9 1615.1,752C1619.7,746.1 1625.4,739.4 1631.1,733.7C1636.9,728 1642.6,723.2 1649.4,717.9C1656.3,712.7 1664.1,707.1 1672.3,702.2C1680.5,697.3 1694.2,690.7 1698.6,688.5"/>
<path d="M1370.6,742.2C1372.9,742 1380.1,742.3 1384.3,741.3C1388.5,740.2 1391.5,739.4 1395.7,736C1399.9,732.6 1404.9,725.7 1409.4,721.1C1414,716.6 1418.6,711.8 1423.1,708.6C1427.7,705.3 1432.3,703.2 1436.9,701.7C1441.4,700.2 1446.4,699.4 1450.6,699.4C1454.8,699.4 1459,700 1462,701.7C1465,703.4 1466.6,706.5 1468.9,709.7C1471.1,713 1473.4,716.6 1475.7,721.1C1478,725.7 1480.5,731.4 1482.6,737.1C1484.7,742.9 1486.6,749.3 1488.3,755.4C1490,761.5 1491.3,768 1492.9,773.7C1494.4,779.4 1495.3,785.1 1497.4,789.7C1499.5,794.3 1501.4,797 1505.4,801.1C1509.4,805.3 1516.1,810.3 1521.4,814.9C1526.8,819.4 1532.9,824 1537.4,828.6C1542,833.1 1545.8,838.5 1548.9,842.3C1551.9,846.1 1553,846.9 1555.7,851.4C1558.4,856 1561.8,863.2 1564.9,869.7C1567.9,876.2 1571.3,883.8 1574,890.3C1576.7,896.8 1579.3,906.1 1580.9,908.6C1582.4,911 1582.8,905.7 1583.1,905.1"/>
<path d="M1370.6,742.9C1374.8,744.6 1385.8,749.3 1395.7,753.1C1405.6,757 1418.6,761.9 1430,765.7C1441.4,769.5 1454.8,773.1 1464.3,776C1473.8,778.9 1479.5,780.6 1487.1,782.9C1494.8,785.1 1503.1,786.7 1510,789.7C1516.9,792.8 1522.6,796.6 1528.3,801.1C1534,805.7 1539.7,811.4 1544.3,817.1C1548.9,822.9 1552.3,829.3 1555.7,835.4C1559.1,841.5 1562,847.6 1564.9,853.7C1567.7,859.8 1570.4,865.7 1572.9,872C1575.3,878.3 1578,885.9 1579.7,891.4C1581.4,897 1582.6,902.9 1583.1,905.1"/>
<path d="M1583.1,905.1C1583.5,904.2 1584.3,902.7 1585.4,899.4C1586.6,896.2 1587.3,889.9 1590,885.7C1592.7,881.5 1597.6,878.5 1601.4,874.3C1605.2,870.1 1608.3,865.5 1612.9,860.6C1617.4,855.6 1623.1,849.9 1628.9,844.6C1634.6,839.2 1641,833.5 1647.1,828.6C1653.2,823.6 1659.7,818.9 1665.4,814.9C1671.1,810.9 1676.1,807.8 1681.4,804.6C1686.8,801.3 1694.8,797 1697.4,795.4"/>
<path d="M1587.7,900.6C1588.5,898.8 1590,894.1 1592.3,890.1C1594.6,886.1 1598,881.1 1601.4,876.6C1604.9,872 1608.1,868.1 1612.9,862.9C1617.6,857.6 1624.1,850.6 1630,845C1635.9,839.5 1642.2,834.6 1648.3,829.7C1654.4,824.9 1660.9,820.1 1666.6,816C1672.3,811.9 1677.4,808.6 1682.6,805.3C1687.7,801.9 1695,797.6 1697.4,796.1"/>
<path d="M1370.6,841.1C1372.9,841 1380.1,841 1384.3,840C1388.5,839 1391.5,838.5 1395.7,835.4C1399.9,832.4 1404.9,826.1 1409.4,821.7C1414,817.3 1418.6,812.6 1423.1,809.1C1427.7,805.7 1432.3,803.2 1436.9,801.1C1441.4,799.1 1446.4,797.2 1450.6,797C1454.8,796.8 1459,798.2 1462,800C1465,801.8 1466.6,804.4 1468.9,808C1471.1,811.6 1473.4,816.4 1475.7,821.7C1478,827 1480.7,833.5 1482.6,840C1484.5,846.5 1485.6,854.1 1487.1,860.6C1488.7,867 1489.8,873.5 1491.7,878.9C1493.6,884.2 1495.5,888.4 1498.6,892.6C1501.6,896.8 1505.8,899.8 1510,904C1514.2,908.2 1519.1,912.8 1523.7,917.7C1528.3,922.7 1532.9,928.8 1537.4,933.7C1542,938.7 1547,942.5 1551.1,947.4C1555.3,952.4 1559.1,958.5 1562.6,963.4C1566,968.4 1569,972.6 1571.7,977.1C1574.4,981.7 1576.9,987 1578.6,990.9C1580.3,994.7 1581.8,997.7 1582,1000C1582.2,1002.3 1580.5,1005.3 1579.7,1004.6C1579,1003.8 1577.8,997 1577.4,995.4"/>
<path d="M1370.6,841.8C1374.8,843.4 1385.8,847.5 1395.7,851.4C1405.6,855.3 1418.6,861 1430,865.1C1441.4,869.3 1454,873.5 1464.3,876.6C1474.6,879.6 1484.1,881.3 1491.7,883.4C1499.3,885.5 1503.9,886.5 1510,889.1C1516.1,891.8 1523,895.4 1528.3,899.4C1533.6,903.4 1538.2,908.6 1542,913.1C1545.8,917.7 1548.5,922.3 1551.1,926.9C1553.8,931.4 1555.7,935.6 1558,940.6C1560.3,945.5 1562.8,951.6 1564.9,956.6C1567,961.5 1568.7,965.3 1570.6,970.3C1572.5,975.2 1574.4,981.3 1576.3,986.3C1578.2,991.2 1580.5,996.2 1582,1000C1583.5,1003.8 1584.5,1006.3 1585.4,1009.1C1586.4,1012 1587.3,1015.8 1587.7,1017.1"/>
<path d="M1587.7,1017.1C1587.9,1017 1588.1,1018.9 1588.9,1016C1589.6,1013.1 1590.2,1005 1592.3,1000C1594.4,995 1598,990.9 1601.4,986.3C1604.9,981.7 1608.3,977.9 1612.9,972.6C1617.4,967.2 1623.1,960.4 1628.9,954.3C1634.6,948.2 1641,941.7 1647.1,936C1653.2,930.3 1659.7,924.6 1665.4,920C1671.1,915.4 1676.1,912.4 1681.4,908.6C1686.8,904.8 1694.8,899 1697.4,897.1"/>
<path d="M1582,1000C1582.6,998.5 1584.1,993.1 1585.4,990.9C1586.8,988.6 1587.3,988.2 1590,986.3C1592.7,984.4 1597.6,982.5 1601.4,979.4C1605.2,976.4 1608.3,972.6 1612.9,968C1617.4,963.4 1623.1,957.7 1628.9,952C1634.6,946.3 1640.3,940 1647.1,933.7C1654,927.4 1661.6,920.4 1670,914.3C1678.4,908.2 1692.9,900 1697.4,897.1"/>
</g>
<g fill="none" stroke="#e8262a" stroke-width="2.5" stroke-linejoin="round" stroke-linecap="round">
<path d="M1368.3,64.7C1372.9,64.3 1387.3,62.5 1395.7,62.2C1404.1,61.9 1411,61.8 1418.6,62.9C1426.2,63.9 1433.8,66.1 1441.4,68.6C1449,71 1456.7,74.7 1464.3,77.7C1471.9,80.8 1479.5,83.8 1487.1,86.9C1494.8,89.9 1502.4,93.2 1510,96C1517.6,98.8 1525.2,101.1 1532.9,103.5C1540.5,106 1549.6,108.3 1555.7,110.9C1561.8,113.4 1565.6,115.4 1569.4,118.9C1573.2,122.3 1576.3,126.7 1578.6,131.4C1580.9,136.2 1582.1,141.3 1583.1,147.4C1584.2,153.5 1584.4,159.2 1584.7,168C1585.1,176.8 1585.1,190.1 1585.2,200C1585.3,209.9 1585.4,222.9 1585.4,227.4"/>
<path d="M1368.3,64.7C1372.9,65.9 1387.3,70 1395.7,72C1404.1,74 1411,74.3 1418.6,76.6C1426.2,78.9 1433.8,82.3 1441.4,85.7C1449,89.1 1456.7,93.7 1464.3,97.1C1471.9,100.6 1479.5,103.6 1487.1,106.3C1494.8,109 1502.4,111.2 1510,113.1C1517.6,115.1 1525.2,116.2 1532.9,118.2C1540.5,120.2 1549.6,122.8 1555.7,125C1561.8,127.2 1565.6,128.5 1569.4,131.4C1573.2,134.4 1576.4,138.3 1578.6,142.9C1580.8,147.4 1581.7,153.1 1582.7,158.9C1583.7,164.6 1584.1,170.3 1584.5,177.1C1584.9,184 1584.9,196.2 1585,200"/>
<path d="M1587.7,227.4C1587.8,217.5 1587.8,181.7 1588.2,168C1588.6,154.3 1588.9,151.6 1590,145.1C1591.1,138.7 1592.3,133.5 1594.6,129.1C1596.9,124.8 1598.8,122.1 1603.7,118.9C1608.7,115.6 1617,112.4 1624.3,109.7C1631.5,107 1639.5,105.1 1647.1,102.9C1654.8,100.6 1662,98.4 1670,96C1678,93.6 1691,89.7 1695.1,88.5"/>
<path d="M1368.3,145.6C1372.9,145.7 1387.3,146.9 1395.7,146.3C1404.1,145.6 1411.7,142.9 1418.6,141.7C1425.4,140.6 1431.1,139.4 1436.9,139.4C1442.6,139.4 1446.4,140 1452.9,141.7C1459.3,143.4 1468.1,147 1475.7,149.7C1483.3,152.4 1491,155 1498.6,157.7C1506.2,160.4 1513.8,163 1521.4,165.7C1529,168.4 1537.4,170.9 1544.3,173.7C1551.1,176.6 1557.6,179.2 1562.6,182.9C1567.5,186.5 1571,190.7 1574,195.4C1577,200.2 1579.1,205.7 1580.9,211.4C1582.6,217.1 1583.6,221.7 1584.3,229.7C1585,237.7 1585,254.5 1585.2,259.4"/>
<path d="M1368.3,145.6C1372.9,146.3 1387.3,147.5 1395.7,149.7C1404.1,151.9 1411,156.3 1418.6,158.9C1426.2,161.4 1433.8,163.5 1441.4,165.3C1449,167 1456.7,167.7 1464.3,169.1C1471.9,170.6 1479.5,172.2 1487.1,173.7C1494.8,175.2 1502.4,176.8 1510,178.3C1517.6,179.8 1525.2,181 1532.9,182.9C1540.5,184.8 1549.6,187 1555.7,189.7C1561.8,192.4 1565.6,195.2 1569.4,198.9C1573.2,202.5 1576.3,206.7 1578.6,211.4C1580.9,216.2 1582.1,221.7 1583.1,227.4C1584.2,233.1 1584.7,242.7 1585,245.7"/>
<path d="M1587.9,259.4C1588,254.9 1588.2,239.6 1588.4,232C1588.6,224.4 1588.8,219.4 1589.3,213.7C1589.8,208 1590.3,202.3 1591.6,197.7C1592.9,193.1 1594.1,189.7 1596.9,186.3C1599.6,182.9 1603.7,179.8 1608.3,177.1C1612.9,174.5 1617.8,172.8 1624.3,170.3C1630.8,167.8 1639.5,164.8 1647.1,162.3C1654.8,159.8 1662,158 1670,155.4C1678,152.9 1691,148.4 1695.1,147"/>
<path d="M1368.3,228.6C1372.9,228.4 1387.3,228.4 1395.7,227.4C1404.1,226.5 1411,224.4 1418.6,222.9C1426.2,221.3 1433.8,218.5 1441.4,218.3C1449,218.1 1456.7,220 1464.3,221.7C1471.9,223.4 1479.5,226.3 1487.1,228.6C1494.8,230.9 1502.4,233.1 1510,235.4C1517.6,237.7 1525.2,239.8 1532.9,242.3C1540.5,244.8 1549.6,247.4 1555.7,250.3C1561.8,253.1 1565.6,255.6 1569.4,259.4C1573.2,263.2 1576.3,267.8 1578.6,273.1C1580.9,278.5 1582.1,284.6 1583.1,291.4C1584.2,298.3 1584.6,303.2 1585,314.3C1585.4,325.3 1585.4,350.5 1585.4,357.7"/>
<path d="M1368.3,228.6C1372.9,229 1388.1,229 1395.7,230.9C1403.3,232.8 1408.3,237.1 1414,240C1419.7,242.9 1423.5,245.7 1430,248C1436.5,250.3 1443.3,251.8 1452.9,253.7C1462.4,255.6 1475.7,257.3 1487.1,259.4C1498.6,261.5 1510.8,264 1521.4,266.3C1532.1,268.6 1543.1,271 1551.1,273.1C1559.1,275.2 1564.9,276.8 1569.4,278.9C1574,281 1576.4,282.9 1578.6,285.7C1580.8,288.6 1581.7,291.2 1582.7,296C1583.7,300.8 1584.3,307.4 1584.7,314.3C1585.2,321.1 1585.1,333.3 1585.2,337.1"/>
<path d="M1587.9,357.7C1588,350.5 1588.2,325.3 1588.4,314.3C1588.6,303.2 1588.6,298.7 1589.1,291.4C1589.6,284.2 1590.1,276.2 1591.4,270.9C1592.7,265.5 1594,262.7 1596.9,259.4C1599.7,256.2 1603.7,253.7 1608.3,251.4C1612.9,249.1 1617.8,247.8 1624.3,245.7C1630.8,243.6 1639.5,241.1 1647.1,238.9C1654.8,236.6 1662,234.6 1670,232C1678,229.4 1691,225 1695.1,223.5"/>
<path d="M1370.6,309.3C1374.8,309.5 1387.7,310.5 1395.7,310.9C1403.7,311.2 1411.7,312.1 1418.6,311.5C1425.4,311 1431.1,309.2 1436.9,307.4C1442.6,305.7 1447.5,302.2 1452.9,301C1458.2,299.8 1463.1,299.6 1468.9,300.1C1474.6,300.6 1480.3,302.2 1487.1,304C1494,305.8 1502.4,308.4 1510,310.9C1517.6,313.3 1525.2,315.8 1532.9,318.9C1540.5,321.9 1549.6,325.7 1555.7,329.1C1561.8,332.6 1565.6,335.4 1569.4,339.4C1573.2,343.4 1576.3,348.2 1578.6,353.1C1580.9,358.1 1582.1,363.4 1583.1,369.1C1584.2,374.9 1584.6,377.5 1585,387.4C1585.4,397.3 1585.4,421.7 1585.4,428.6"/>
<path d="M1370.6,309.3C1374.8,309.5 1387.7,310.3 1395.7,310.9C1403.7,311.4 1412.9,311.5 1418.6,312.5C1424.3,313.4 1426.2,314.7 1430,316.6C1433.8,318.4 1435.7,321.5 1441.4,323.4C1447.1,325.3 1454.8,326.3 1464.3,328C1473.8,329.7 1487.1,331.8 1498.6,333.7C1510,335.6 1523.3,337.8 1532.9,339.4C1542.4,341.1 1548.9,342.2 1555.7,343.5C1562.6,344.9 1569.8,345.6 1574,347.4C1578.2,349.2 1579.2,351.4 1580.9,354.3C1582.5,357.1 1583.1,359.8 1583.8,364.6C1584.6,369.3 1584.9,376 1585.2,382.9C1585.5,389.7 1585.4,401.9 1585.4,405.7"/>
<path d="M1587.9,428.6C1588,421.7 1588.2,397.3 1588.4,387.4C1588.6,377.5 1588.6,375.2 1589.1,369.1C1589.6,363 1590.1,355.8 1591.4,350.9C1592.7,345.9 1594,342.7 1596.9,339.4C1599.7,336.2 1603.7,333.7 1608.3,331.4C1612.9,329.1 1617.8,327.8 1624.3,325.7C1630.8,323.6 1639.5,321.1 1647.1,318.9C1654.8,316.6 1661.8,314.3 1670,312C1678.2,309.7 1691.9,306.3 1696.3,305.1"/>
<path d="M1370.6,384C1374.8,384.4 1387.7,386 1395.7,386.3C1403.7,386.6 1413.2,386.6 1418.6,385.6C1423.9,384.6 1424.7,382.7 1427.7,380.6C1430.8,378.4 1433,374.6 1436.9,372.6C1440.7,370.6 1445.2,369.3 1450.6,368.7C1455.9,368.1 1460.9,368.1 1468.9,369.1C1476.9,370.2 1487.9,372.6 1498.6,374.9C1509.2,377.1 1523.3,380.2 1532.9,382.9C1542.4,385.5 1549.6,388.2 1555.7,390.9C1561.8,393.5 1565.6,396 1569.4,398.9C1573.2,401.7 1576.3,404.6 1578.6,408C1580.9,411.4 1582,414.1 1583.1,419.4C1584.2,424.8 1584.8,421 1585.2,440C1585.6,459 1585.6,518.1 1585.7,533.7"/>
<path d="M1370.6,384C1378.6,384.6 1403,386.2 1418.6,387.9C1434.2,389.6 1449,392.1 1464.3,394.3C1479.5,396.5 1496.7,399.2 1510,401.1C1523.3,403 1534.8,404.6 1544.3,405.7C1553.8,406.9 1561.4,407 1567.1,408C1572.9,409 1575.9,409.5 1578.6,411.4C1581.2,413.3 1582,415.4 1583.1,419.4C1584.2,423.4 1584.8,426.3 1585.2,435.4C1585.6,444.6 1585.6,467.8 1585.7,474.3"/>
<path d="M1588.2,533.7C1588.2,520 1588.4,467.8 1588.6,451.4C1588.8,435 1588.9,441.5 1589.3,435.4C1589.8,429.3 1590.1,420.2 1591.4,414.9C1592.6,409.5 1594,406.9 1596.9,403.4C1599.7,400 1603.7,396.8 1608.3,394.3C1612.9,391.8 1617.8,390.6 1624.3,388.6C1630.8,386.6 1639.5,384.6 1647.1,382.4C1654.8,380.2 1661.6,378.1 1670,375.5C1678.4,373 1692.9,368.3 1697.4,366.9"/>
<path d="M1370.6,465.6C1373.6,465.6 1384.7,467 1388.9,465.6C1393,464.2 1392.7,461 1395.7,457.1C1398.8,453.3 1403,446.2 1407.1,442.3C1411.3,438.4 1415.9,435.4 1420.9,433.6C1425.8,431.8 1431.5,431.8 1436.9,431.3C1442.2,430.9 1448.7,430.6 1452.9,430.9C1457,431.2 1459.3,431.4 1462,433.1C1464.7,434.9 1466.6,437.3 1468.9,441.1C1471.1,445 1473.4,450.9 1475.7,456C1478,461.1 1479.9,466.9 1482.6,472C1485.2,477.1 1487.9,482.7 1491.7,486.9C1495.5,491 1500.1,493.5 1505.4,497.1C1510.8,500.8 1517.2,504.8 1523.7,508.6C1530.2,512.4 1537.4,517 1544.3,520C1551.1,523 1559.5,524.2 1564.9,526.9C1570.2,529.5 1573.2,532.2 1576.3,536C1579.3,539.8 1581.5,544 1583.1,549.7C1584.7,555.4 1585.4,553.9 1585.9,570.3C1586.4,586.7 1586.3,635 1586.3,648"/>
<path d="M1370.6,465.6C1373.6,465.7 1380.9,465.4 1388.9,466.3C1396.9,467.2 1407.9,469.1 1418.6,470.9C1429.2,472.6 1441.4,474.9 1452.9,476.6C1464.3,478.3 1476.9,479.6 1487.1,481.1C1497.4,482.7 1507,483.8 1514.6,485.7C1522.2,487.6 1527.5,489.5 1532.9,492.6C1538.2,495.6 1542.8,500.2 1546.6,504C1550.4,507.8 1552.7,511.7 1555.7,515.4C1558.8,519.2 1563.3,524.6 1564.9,526.4"/>
<path d="M1588.9,648C1588.9,636.6 1589.1,593.1 1589.3,579.4C1589.5,565.7 1589.5,570.7 1590,565.7C1590.5,560.8 1590.8,554.3 1592.3,549.7C1593.8,545.1 1596.1,541.5 1599.1,538.3C1602.2,535 1605.6,532.8 1610.6,530.3C1615.5,527.8 1622,525.5 1628.9,523.4C1635.7,521.3 1644.1,519.4 1651.7,517.7C1659.3,516 1667,514.3 1674.6,513.1C1682.2,512 1693.6,511.2 1697.4,510.9"/>
<path d="M1371.7,550.9C1375,550.7 1386.8,551 1391.1,549.7C1395.5,548.4 1395,546.3 1398,542.9C1401,539.4 1405.2,532.8 1409.4,529.1C1413.6,525.5 1418.6,522.9 1423.1,521.1C1427.7,519.4 1431.9,519 1436.9,518.9C1441.8,518.7 1448.3,519 1452.9,520C1457.4,521 1460.9,521.9 1464.3,524.6C1467.7,527.2 1470.4,531.4 1473.4,536C1476.5,540.6 1479.5,547 1482.6,552C1485.6,557 1488.7,561.7 1491.7,565.7C1494.8,569.7 1497,573 1500.9,576C1504.7,579 1509.2,581.1 1514.6,584C1519.9,586.9 1527.1,590.1 1532.9,593.1C1538.6,596.2 1543.9,599.2 1548.9,602.3C1553.8,605.3 1558.4,608 1562.6,611.4C1566.8,614.9 1571,619 1574,622.9C1577,626.7 1579.1,630.1 1580.9,634.3C1582.6,638.5 1583.9,642.3 1584.7,648C1585.6,653.7 1585.8,655.4 1586.1,668.6C1586.4,681.7 1586.5,717.1 1586.6,726.9"/>
<path d="M1371.7,550.9C1375,551.2 1379.5,551.6 1391.1,553.1C1402.8,554.7 1425.4,557.9 1441.4,560C1457.4,562.1 1475.7,564.2 1487.1,565.7C1498.6,567.2 1503.9,568 1510,569.1C1516.1,570.3 1519.1,570.7 1523.7,572.6C1528.3,574.5 1533.2,577.5 1537.4,580.6C1541.6,583.6 1545.4,587.2 1548.9,590.9C1552.3,594.5 1555.3,598.7 1558,602.3C1560.7,605.9 1563.7,610.9 1564.9,612.6"/>
<path d="M1589.1,726.9C1589.2,716.8 1589.4,679.4 1589.5,666.3C1589.7,653.1 1589.8,653.3 1590.2,648C1590.7,642.7 1590.8,638.5 1592.3,634.3C1593.8,630.1 1596.1,626.1 1599.1,622.9C1602.2,619.6 1605.6,617.3 1610.6,614.9C1615.5,612.4 1622,610.1 1628.9,608C1635.7,605.9 1644.1,603.8 1651.7,602.3C1659.3,600.8 1667,599.8 1674.6,598.9C1682.2,597.9 1693.6,597 1697.4,596.6"/>
<path d="M1371.7,642.3C1374.6,642.1 1384.5,642.9 1388.9,641.1C1393.2,639.4 1394.2,636.2 1398,632C1401.8,627.8 1407.1,620 1411.7,616C1416.3,612 1420.5,609.9 1425.4,608C1430.4,606.1 1436.5,605.2 1441.4,604.6C1446.4,603.9 1451.3,603.5 1455.1,604.1C1459,604.7 1461.6,605.6 1464.3,608C1467,610.4 1468.9,613.9 1471.1,618.3C1473.4,622.7 1475.7,629 1478,634.3C1480.3,639.6 1482.6,645.3 1484.9,650.3C1487.1,655.2 1489,660.2 1491.7,664C1494.4,667.8 1497,670.5 1500.9,673.1C1504.7,675.8 1509.2,677.5 1514.6,680C1519.9,682.5 1526.8,685.3 1532.9,688C1539,690.7 1545.4,693.1 1551.1,696C1556.9,698.9 1562.6,701.7 1567.1,705.1C1571.7,708.6 1575.7,712.4 1578.6,716.6C1581.4,720.8 1583,725 1584.3,730.3C1585.6,735.6 1586.1,733.7 1586.6,748.6C1587,763.4 1587,807.6 1587,819.4"/>
<path d="M1371.7,642.3C1374.6,642.5 1377.2,641.9 1388.9,643.4C1400.5,645 1425,649.1 1441.4,651.4C1457.8,653.7 1476.5,655.6 1487.1,657.1C1497.8,658.7 1500.5,658.7 1505.4,660.6C1510.4,662.5 1513.4,665.3 1516.9,668.6C1520.3,671.8 1523,676.5 1526,680C1529,683.5 1533.6,688 1535.1,689.6"/>
<path d="M1589.5,819.4C1589.6,807.2 1589.7,761.1 1590,746.3C1590.3,731.4 1590.4,734.9 1591.1,730.3C1591.9,725.7 1592.5,722.3 1594.6,718.9C1596.7,715.4 1599.5,712.4 1603.7,709.7C1607.9,707 1613.2,705 1619.7,702.9C1626.2,700.8 1634.2,698.9 1642.6,697.1C1651,695.4 1660.9,694 1670,692.6C1679.1,691.2 1692.9,689.3 1697.4,688.7"/>
<path d="M1370.6,742.2C1375.9,742.9 1396.1,746.4 1402.6,746.3C1409,746.2 1407.1,745.1 1409.4,741.7C1411.7,738.3 1413.6,730.7 1416.3,725.7C1419,720.8 1422,715.2 1425.4,712C1428.9,708.8 1432.7,707.6 1436.9,706.3C1441,705 1446.8,704.2 1450.6,704C1454.4,703.8 1457,703.8 1459.7,705.1C1462.4,706.5 1464.3,708.6 1466.6,712C1468.9,715.4 1471.1,720.8 1473.4,725.7C1475.7,730.7 1478,736.4 1480.3,741.7C1482.6,747 1484.9,753.1 1487.1,757.7C1489.4,762.3 1491,765.7 1494,769.1C1497,772.6 1500.9,775.4 1505.4,778.3C1510,781.1 1516.1,783.8 1521.4,786.3C1526.8,788.8 1531.7,790.7 1537.4,793.1C1543.1,795.6 1550,797.9 1555.7,801.1C1561.4,804.4 1567.5,808.8 1571.7,812.6C1575.9,816.4 1578.6,819.4 1580.9,824C1583.1,828.6 1584.4,833.5 1585.4,840C1586.5,846.5 1586.7,848 1587,862.9C1587.4,877.7 1587.4,918.1 1587.5,929.1"/>
<path d="M1370.6,742.2C1375.9,742.9 1390.8,744.9 1402.6,746.7C1414.4,748.6 1427.3,751.1 1441.4,753.1C1455.5,755.2 1476.5,757.3 1487.1,758.9C1497.8,760.4 1500.5,760.6 1505.4,762.3C1510.4,764 1513.4,766.1 1516.9,769.1C1520.3,772.2 1523,776.9 1526,780.6C1529,784.3 1533.6,789.5 1535.1,791.3"/>
<path d="M1590,929.1C1590.1,917.3 1590.2,873.1 1590.5,858.3C1590.7,843.4 1590.9,845.3 1591.6,840C1592.3,834.7 1592.9,830.1 1594.6,826.3C1596.2,822.5 1598,820.2 1601.4,817.1C1604.9,814.1 1609.8,810.7 1615.1,808C1620.5,805.3 1626.6,803.2 1633.4,801.1C1640.3,799 1648.7,797 1656.3,795.4C1663.9,793.9 1672.3,793 1679.1,792C1686,791 1694.4,789.7 1697.4,789.3"/>
<path d="M1370.6,841.1C1375.9,841.7 1396.1,844.8 1402.6,844.6C1409,844.4 1407.1,843.4 1409.4,840C1411.7,836.6 1413.6,829 1416.3,824C1419,819 1422,813.5 1425.4,810.3C1428.9,807 1432.7,806 1436.9,804.6C1441,803.1 1446.8,802 1450.6,801.6C1454.4,801.2 1457,801 1459.7,802.3C1462.4,803.5 1464.3,805.5 1466.6,809.1C1468.9,812.8 1471.1,818.5 1473.4,824C1475.7,829.5 1478,836.6 1480.3,842.3C1482.6,848 1484.9,853.7 1487.1,858.3C1489.4,862.9 1491,866.3 1494,869.7C1497,873.1 1500.9,876 1505.4,878.9C1510,881.7 1515,884.4 1521.4,886.9C1527.9,889.3 1537.4,891 1544.3,893.7C1551.1,896.4 1557.6,899.8 1562.6,902.9C1567.5,905.9 1571,908.6 1574,912C1577,915.4 1579.1,918.7 1580.9,923.4C1582.6,928.2 1583.5,933.5 1584.3,940.6C1585,947.6 1585.2,953 1585.4,965.7C1585.6,978.5 1585.4,1008.6 1585.4,1017.1"/>
<path d="M1370.6,841.1C1375.9,841.8 1390.8,843.3 1402.6,845C1414.4,846.7 1427.3,849.4 1441.4,851.4C1455.5,853.4 1475.7,855.6 1487.1,857.1C1498.6,858.7 1503.9,858.6 1510,860.6C1516.1,862.6 1519.9,866.1 1523.7,869.3C1527.5,872.4 1529.8,875.9 1532.9,879.3C1535.9,882.7 1539,887 1542,889.8C1545,892.6 1549.6,895 1551.1,896"/>
<path d="M1588.2,1017.1C1588.4,1008.6 1589,978.5 1589.3,965.7C1589.6,953 1589.3,947.8 1590,940.6C1590.7,933.3 1591.5,927.2 1593.4,922.3C1595.3,917.3 1597.8,914.1 1601.4,910.9C1605,907.6 1609.8,905.1 1615.1,902.9C1620.5,900.6 1626.6,898.9 1633.4,897.1C1640.3,895.4 1648.7,893.9 1656.3,892.6C1663.9,891.2 1672.3,890.1 1679.1,889.1C1686,888.2 1694.4,887.2 1697.4,886.9"/>
</g>
<rect x="1353.8" y="54.6" width="394.4" height="968.2" fill="none" stroke="#000" stroke-width="3.7"/>
<text x="1732.5" y="117.7" font-size="33" font-weight="normal" font-style="normal" text-anchor="end" >5%</text>
<text x="1737.5" y="192.7" font-size="33" font-weight="normal" font-style="normal" text-anchor="end" >10%</text>
<text x="1737.5" y="271.3" font-size="33" font-weight="normal" font-style="normal" text-anchor="end" >20%</text>
<text x="1737.5" y="349.7" font-size="33" font-weight="normal" font-style="normal" text-anchor="end" >30%</text>
<text x="1738.5" y="424" font-size="33" font-weight="normal" font-style="normal" text-anchor="end" >40%</text>
<text x="1738.5" y="540.6" font-size="33" font-weight="normal" font-style="normal" text-anchor="end" >50%</text>
<text x="1738.5" y="632.7" font-size="33" font-weight="normal" font-style="normal" text-anchor="end" >60%</text>
<text x="1738.5" y="738.3" font-size="33" font-weight="normal" font-style="normal" text-anchor="end" >70%</text>
<text x="1738.5" y="842.7" font-size="33" font-weight="normal" font-style="normal" text-anchor="end" >80%</text>
<text x="1739.5" y="947.4" font-size="33" font-weight="normal" font-style="normal" text-anchor="end" >85%</text>
<text x="1384.5" y="1049" font-size="28" font-weight="normal" font-style="normal" text-anchor="middle" >-2</text>
<text x="1472" y="1049" font-size="28" font-weight="normal" font-style="normal" text-anchor="middle" >-1</text>
<text x="1586.4" y="1049" font-size="28" font-weight="normal" font-style="normal" text-anchor="middle" >0</text>
<text x="1690.5" y="1049" font-size="28" font-weight="normal" font-style="normal" text-anchor="middle" >1</text>
<text x="1562" y="1086.4" font-size="32" font-weight="normal" font-style="normal" text-anchor="middle" >Voltage (V)</text>
<text transform="translate(1312,502) rotate(-90)" font-size="37" text-anchor="middle">Normalized current density (<tspan font-style="italic">J</tspan>)</text>
</svg>
</body></html>
